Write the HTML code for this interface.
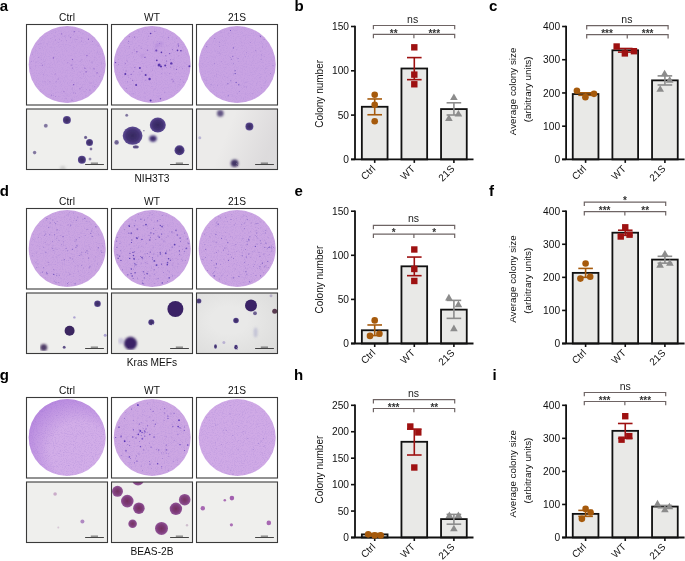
<!DOCTYPE html>
<html><head><meta charset="utf-8"><style>
html,body{margin:0;padding:0;background:#fff;width:685px;height:561px;overflow:hidden}
svg text{font-family:"Liberation Sans",sans-serif}
</style></head><body>
<svg width="685" height="561" viewBox="0 0 685 561" style="display:block;will-change:transform">
<defs>
<filter id="b1" x="-50%" y="-50%" width="200%" height="200%"><feGaussianBlur stdDeviation="0.6"/></filter>
<filter id="b15" x="-50%" y="-50%" width="200%" height="200%"><feGaussianBlur stdDeviation="0.8"/></filter>
<filter id="b2" x="-80%" y="-80%" width="260%" height="260%"><feGaussianBlur stdDeviation="1.2"/></filter>
<radialGradient id="gtl" cx="0.62" cy="0.64" r="0.68" fx="0.7" fy="0.72"><stop offset="0.55" stop-color="#9358d2" stop-opacity="0"/><stop offset="1" stop-color="#9358d2" stop-opacity="0.42"/></radialGradient>
<radialGradient id="cg"><stop offset="0" stop-color="#30225a"/><stop offset="0.65" stop-color="#3e2c70"/><stop offset="1" stop-color="#5a4892"/></radialGradient>
<radialGradient id="gg"><stop offset="0" stop-color="#70295a"/><stop offset="0.6" stop-color="#7a3676"/><stop offset="1" stop-color="#8f5096"/></radialGradient>
<linearGradient id="vr" x1="0" y1="0" x2="1" y2="0.3"><stop offset="0.45" stop-color="#807888" stop-opacity="0"/><stop offset="1" stop-color="#807888" stop-opacity="0.14"/></linearGradient>
<radialGradient id="vd" cx="0.4" cy="0.45" r="0.75"><stop offset="0.3" stop-color="#707070" stop-opacity="0"/><stop offset="1" stop-color="#707070" stop-opacity="0.11"/></radialGradient>
<filter id="rough" x="0" y="0" width="100%" height="100%"><feTurbulence type="fractalNoise" baseFrequency="0.9" numOctaves="2" seed="3" result="n"/><feDisplacementMap in="SourceGraphic" in2="n" scale="1.5" xChannelSelector="R" yChannelSelector="G"/><feGaussianBlur stdDeviation="0.6"/></filter>
<filter id="tex0" x="0" y="0" width="100%" height="100%"><feTurbulence type="fractalNoise" baseFrequency="0.9" numOctaves="2" seed="1"/><feColorMatrix type="matrix" values="0 0 0 0 0.48  0 0 0 0 0.3  0 0 0 0 0.72  1.6 0 0 0 -0.72"/><feComposite in2="SourceGraphic" operator="in"/></filter>
<filter id="tex1" x="0" y="0" width="100%" height="100%"><feTurbulence type="fractalNoise" baseFrequency="0.9" numOctaves="2" seed="8"/><feColorMatrix type="matrix" values="0 0 0 0 0.48  0 0 0 0 0.3  0 0 0 0 0.72  1.6 0 0 0 -0.72"/><feComposite in2="SourceGraphic" operator="in"/></filter>
<filter id="tex2" x="0" y="0" width="100%" height="100%"><feTurbulence type="fractalNoise" baseFrequency="0.9" numOctaves="2" seed="15"/><feColorMatrix type="matrix" values="0 0 0 0 0.48  0 0 0 0 0.3  0 0 0 0 0.72  1.6 0 0 0 -0.72"/><feComposite in2="SourceGraphic" operator="in"/></filter>
</defs>
<rect width="685" height="561" fill="#fff"/>
<text x="-0.3" y="10.5" font-size="15" text-anchor="start" font-weight="bold" fill="#000" >a</text><text x="67" y="21.2" font-size="10.2" text-anchor="middle" font-weight="normal" fill="#111" >Ctrl</text><text x="152" y="21.2" font-size="10.2" text-anchor="middle" font-weight="normal" fill="#111" >WT</text><text x="237" y="21.2" font-size="10.2" text-anchor="middle" font-weight="normal" fill="#111" >21S</text><rect x="26.5" y="24.5" width="81" height="80.5" fill="#fff"/><circle cx="67.2" cy="64.5" r="38.5" fill="#c9a3e3"/><circle cx="67.2" cy="64.5" r="38.2" fill="#000" filter="url(#tex1)"/><circle cx="89.83" cy="89.96" r="0.53" fill="#6a3cb8" fill-opacity="0.48"/><circle cx="42.4" cy="65.21" r="0.47" fill="#6a3cb8" fill-opacity="0.74"/><circle cx="72.38" cy="67.96" r="0.58" fill="#6a3cb8" fill-opacity="0.57"/><circle cx="67.33" cy="62.81" r="0.38" fill="#6a3cb8" fill-opacity="0.71"/><circle cx="71.99" cy="100.15" r="0.63" fill="#6a3cb8" fill-opacity="0.37"/><circle cx="94.08" cy="68.83" r="0.65" fill="#6a3cb8" fill-opacity="0.54"/><circle cx="72.21" cy="88.01" r="0.3" fill="#6a3cb8" fill-opacity="0.46"/><circle cx="43.11" cy="74.41" r="0.32" fill="#6a3cb8" fill-opacity="0.47"/><circle cx="72.09" cy="89.1" r="0.33" fill="#6a3cb8" fill-opacity="0.36"/><circle cx="81.63" cy="40.97" r="0.47" fill="#6a3cb8" fill-opacity="0.44"/><circle cx="101.47" cy="62.89" r="0.31" fill="#6a3cb8" fill-opacity="0.52"/><circle cx="61.64" cy="33.8" r="0.65" fill="#6a3cb8" fill-opacity="0.56"/><circle cx="81.8" cy="37.96" r="0.34" fill="#6a3cb8" fill-opacity="0.64"/><circle cx="92.37" cy="41.59" r="0.4" fill="#6a3cb8" fill-opacity="0.64"/><circle cx="85" cy="68.42" r="0.55" fill="#6a3cb8" fill-opacity="0.56"/><circle cx="79.95" cy="88.76" r="0.5" fill="#6a3cb8" fill-opacity="0.69"/><circle cx="49.9" cy="81.87" r="0.4" fill="#6a3cb8" fill-opacity="0.74"/><circle cx="44.2" cy="61.46" r="0.4" fill="#6a3cb8" fill-opacity="0.36"/><circle cx="97.08" cy="72.87" r="0.69" fill="#6a3cb8" fill-opacity="0.65"/><circle cx="55.22" cy="73.97" r="0.4" fill="#6a3cb8" fill-opacity="0.84"/><circle cx="70.7" cy="37.55" r="0.6" fill="#6a3cb8" fill-opacity="0.47"/><circle cx="31.23" cy="61.38" r="0.43" fill="#6a3cb8" fill-opacity="0.58"/><circle cx="63.89" cy="91.69" r="0.67" fill="#6a3cb8" fill-opacity="0.35"/><circle cx="74.23" cy="31.73" r="0.61" fill="#6a3cb8" fill-opacity="0.72"/><circle cx="76.88" cy="39.67" r="0.43" fill="#6a3cb8" fill-opacity="0.56"/><circle cx="99.59" cy="76.42" r="0.43" fill="#6a3cb8" fill-opacity="0.45"/><circle cx="41.45" cy="63.74" r="0.35" fill="#6a3cb8" fill-opacity="0.52"/><circle cx="38.83" cy="57.51" r="0.45" fill="#6a3cb8" fill-opacity="0.58"/><circle cx="84.66" cy="67.6" r="0.31" fill="#6a3cb8" fill-opacity="0.64"/><circle cx="88.44" cy="39.16" r="0.55" fill="#6a3cb8" fill-opacity="0.76"/><circle cx="66.07" cy="98.43" r="0.48" fill="#6a3cb8" fill-opacity="0.39"/><circle cx="71.64" cy="64.97" r="0.53" fill="#6a3cb8" fill-opacity="0.47"/><circle cx="89.79" cy="83.07" r="0.35" fill="#6a3cb8" fill-opacity="0.38"/><circle cx="81.65" cy="87.15" r="0.31" fill="#6a3cb8" fill-opacity="0.49"/><circle cx="61.24" cy="40.27" r="0.34" fill="#6a3cb8" fill-opacity="0.59"/><circle cx="89.95" cy="67.9" r="0.37" fill="#6a3cb8" fill-opacity="0.44"/><circle cx="94.42" cy="86.66" r="0.4" fill="#6a3cb8" fill-opacity="0.45"/><circle cx="40.86" cy="43.89" r="0.3" fill="#6a3cb8" fill-opacity="0.36"/><circle cx="86.2" cy="89.46" r="0.31" fill="#6a3cb8" fill-opacity="0.7"/><circle cx="55.29" cy="39.93" r="0.32" fill="#6a3cb8" fill-opacity="0.84"/><circle cx="75.07" cy="39.1" r="0.32" fill="#6a3cb8" fill-opacity="0.67"/><circle cx="45.03" cy="81.72" r="0.34" fill="#6a3cb8" fill-opacity="0.67"/><circle cx="86.06" cy="71.8" r="0.67" fill="#6a3cb8" fill-opacity="0.79"/><circle cx="55.31" cy="96.65" r="0.34" fill="#6a3cb8" fill-opacity="0.82"/><circle cx="66.28" cy="40.65" r="0.33" fill="#6a3cb8" fill-opacity="0.35"/><circle cx="72.41" cy="59.53" r="0.57" fill="#6a3cb8" fill-opacity="0.83"/><circle cx="53.35" cy="57.95" r="0.6" fill="#6a3cb8" fill-opacity="0.84"/><circle cx="59.68" cy="39.2" r="0.36" fill="#6a3cb8" fill-opacity="0.52"/><circle cx="75.54" cy="93.71" r="0.37" fill="#6a3cb8" fill-opacity="0.45"/><circle cx="91.12" cy="82.92" r="0.34" fill="#6a3cb8" fill-opacity="0.6"/><circle cx="51.45" cy="95.24" r="0.62" fill="#6a3cb8" fill-opacity="0.36"/><circle cx="73.64" cy="84.68" r="0.69" fill="#6a3cb8" fill-opacity="0.74"/><circle cx="58.13" cy="78.97" r="0.48" fill="#6a3cb8" fill-opacity="0.77"/><circle cx="86.96" cy="55.53" r="0.61" fill="#6a3cb8" fill-opacity="0.69"/><circle cx="30.64" cy="68.07" r="0.32" fill="#6a3cb8" fill-opacity="0.71"/><circle cx="80.33" cy="72.23" r="0.55" fill="#8a64c8" fill-opacity="0.25"/><circle cx="68.84" cy="35.88" r="0.51" fill="#8a64c8" fill-opacity="0.29"/><circle cx="56.47" cy="81.34" r="0.53" fill="#8a64c8" fill-opacity="0.35"/><circle cx="100.63" cy="54.63" r="0.31" fill="#8a64c8" fill-opacity="0.34"/><circle cx="73" cy="68.96" r="0.3" fill="#8a64c8" fill-opacity="0.42"/><circle cx="75.19" cy="31.78" r="0.33" fill="#8a64c8" fill-opacity="0.35"/><circle cx="71.73" cy="42.21" r="0.4" fill="#8a64c8" fill-opacity="0.26"/><circle cx="83.84" cy="73.89" r="0.54" fill="#8a64c8" fill-opacity="0.34"/><circle cx="89.51" cy="53.14" r="0.32" fill="#8a64c8" fill-opacity="0.4"/><circle cx="69.13" cy="60.86" r="0.43" fill="#8a64c8" fill-opacity="0.22"/><circle cx="93.3" cy="87.54" r="0.3" fill="#8a64c8" fill-opacity="0.26"/><circle cx="91.14" cy="62.72" r="0.3" fill="#8a64c8" fill-opacity="0.24"/><circle cx="68.92" cy="96.37" r="0.3" fill="#8a64c8" fill-opacity="0.43"/><circle cx="40.9" cy="89.73" r="0.55" fill="#8a64c8" fill-opacity="0.27"/><circle cx="66.65" cy="90.05" r="0.3" fill="#8a64c8" fill-opacity="0.36"/><circle cx="70.88" cy="65.43" r="0.59" fill="#8a64c8" fill-opacity="0.27"/><circle cx="46.81" cy="50.35" r="0.33" fill="#8a64c8" fill-opacity="0.22"/><circle cx="98.37" cy="45.64" r="0.58" fill="#8a64c8" fill-opacity="0.23"/><circle cx="73.51" cy="92.89" r="0.59" fill="#8a64c8" fill-opacity="0.34"/><circle cx="55.8" cy="36.64" r="0.32" fill="#8a64c8" fill-opacity="0.34"/><circle cx="60.73" cy="81.69" r="0.3" fill="#8a64c8" fill-opacity="0.27"/><circle cx="91.83" cy="61.92" r="0.43" fill="#8a64c8" fill-opacity="0.36"/><circle cx="88.74" cy="56.09" r="0.33" fill="#8a64c8" fill-opacity="0.28"/><circle cx="53.34" cy="95.6" r="0.54" fill="#8a64c8" fill-opacity="0.28"/><circle cx="53.4" cy="88.05" r="0.4" fill="#8a64c8" fill-opacity="0.35"/><circle cx="67.36" cy="69.78" r="0.32" fill="#8a64c8" fill-opacity="0.22"/><circle cx="57.85" cy="61.38" r="0.3" fill="#8a64c8" fill-opacity="0.36"/><circle cx="58.85" cy="96.35" r="0.37" fill="#8a64c8" fill-opacity="0.42"/><circle cx="82.04" cy="86.09" r="0.49" fill="#8a64c8" fill-opacity="0.22"/><circle cx="81.82" cy="59.67" r="0.48" fill="#8a64c8" fill-opacity="0.45"/><circle cx="76.29" cy="45.66" r="0.3" fill="#8a64c8" fill-opacity="0.33"/><circle cx="84.73" cy="54.77" r="0.54" fill="#8a64c8" fill-opacity="0.24"/><circle cx="72.78" cy="60.98" r="0.33" fill="#8a64c8" fill-opacity="0.43"/><circle cx="78.9" cy="31.26" r="0.51" fill="#8a64c8" fill-opacity="0.39"/><circle cx="61.41" cy="49.99" r="0.36" fill="#8a64c8" fill-opacity="0.24"/><circle cx="60.57" cy="35" r="0.32" fill="#8a64c8" fill-opacity="0.22"/><circle cx="99.59" cy="56.91" r="0.39" fill="#8a64c8" fill-opacity="0.34"/><circle cx="82.01" cy="44.47" r="0.35" fill="#8a64c8" fill-opacity="0.28"/><circle cx="66.91" cy="70.27" r="0.43" fill="#8a64c8" fill-opacity="0.3"/><circle cx="58.86" cy="60.54" r="0.34" fill="#8a64c8" fill-opacity="0.23"/><circle cx="80.51" cy="77.83" r="0.51" fill="#8a64c8" fill-opacity="0.3"/><circle cx="43.66" cy="81.36" r="0.32" fill="#8a64c8" fill-opacity="0.2"/><circle cx="41.44" cy="59.8" r="0.43" fill="#8a64c8" fill-opacity="0.31"/><circle cx="54.91" cy="35.34" r="0.32" fill="#8a64c8" fill-opacity="0.32"/><circle cx="49.8" cy="66.83" r="0.35" fill="#8a64c8" fill-opacity="0.34"/><circle cx="96.76" cy="44.94" r="0.32" fill="#8a64c8" fill-opacity="0.36"/><circle cx="76.65" cy="67.45" r="0.38" fill="#8a64c8" fill-opacity="0.42"/><circle cx="84.64" cy="91.78" r="0.53" fill="#8a64c8" fill-opacity="0.28"/><circle cx="55.16" cy="32.6" r="0.34" fill="#8a64c8" fill-opacity="0.38"/><circle cx="64.77" cy="36.07" r="0.52" fill="#8a64c8" fill-opacity="0.42"/><circle cx="94.29" cy="57.56" r="0.31" fill="#8a64c8" fill-opacity="0.26"/><circle cx="72.84" cy="91.85" r="0.47" fill="#8a64c8" fill-opacity="0.21"/><circle cx="54.15" cy="36.01" r="0.34" fill="#8a64c8" fill-opacity="0.33"/><circle cx="83.33" cy="91.69" r="0.3" fill="#8a64c8" fill-opacity="0.45"/><circle cx="77.64" cy="37.09" r="0.32" fill="#8a64c8" fill-opacity="0.43"/><circle cx="80.56" cy="61.02" r="0.48" fill="#8a64c8" fill-opacity="0.41"/><circle cx="50.56" cy="38.38" r="0.36" fill="#8a64c8" fill-opacity="0.43"/><circle cx="89.71" cy="60.38" r="0.49" fill="#8a64c8" fill-opacity="0.31"/><circle cx="77.97" cy="82.65" r="0.3" fill="#8a64c8" fill-opacity="0.43"/><circle cx="79.56" cy="61.28" r="0.41" fill="#8a64c8" fill-opacity="0.3"/><circle cx="82.03" cy="78.09" r="0.32" fill="#8a64c8" fill-opacity="0.39"/><circle cx="83.32" cy="64.91" r="0.36" fill="#8a64c8" fill-opacity="0.21"/><circle cx="47.17" cy="43.82" r="0.51" fill="#8a64c8" fill-opacity="0.25"/><circle cx="61.29" cy="91.1" r="0.32" fill="#8a64c8" fill-opacity="0.35"/><circle cx="67.03" cy="95.09" r="0.49" fill="#8a64c8" fill-opacity="0.4"/><circle cx="94.15" cy="59.99" r="0.37" fill="#8a64c8" fill-opacity="0.41"/><circle cx="70.54" cy="36.75" r="0.34" fill="#8a64c8" fill-opacity="0.27"/><circle cx="93.07" cy="85.39" r="0.3" fill="#8a64c8" fill-opacity="0.39"/><circle cx="32.32" cy="54.3" r="0.47" fill="#8a64c8" fill-opacity="0.44"/><circle cx="84.31" cy="84.3" r="0.4" fill="#8a64c8" fill-opacity="0.28"/><circle cx="45.1" cy="64.08" r="0.38" fill="#8a64c8" fill-opacity="0.2"/><circle cx="44" cy="73.3" r="0.33" fill="#8a64c8" fill-opacity="0.3"/><circle cx="73.51" cy="34.57" r="0.37" fill="#8a64c8" fill-opacity="0.36"/><circle cx="55.2" cy="76.12" r="0.3" fill="#8a64c8" fill-opacity="0.27"/><circle cx="38.86" cy="44.4" r="0.51" fill="#8a64c8" fill-opacity="0.33"/><circle cx="92.25" cy="62.45" r="0.51" fill="#8a64c8" fill-opacity="0.3"/><circle cx="65.96" cy="27.75" r="0.33" fill="#8a64c8" fill-opacity="0.24"/><circle cx="47.55" cy="46.04" r="0.34" fill="#8a64c8" fill-opacity="0.2"/><circle cx="48.68" cy="79.99" r="0.35" fill="#8a64c8" fill-opacity="0.42"/><circle cx="39.86" cy="48.46" r="0.54" fill="#8a64c8" fill-opacity="0.39"/><circle cx="35.28" cy="65.96" r="0.42" fill="#8a64c8" fill-opacity="0.36"/><circle cx="51.01" cy="47.33" r="0.42" fill="#8a64c8" fill-opacity="0.36"/><circle cx="97.41" cy="51.9" r="0.51" fill="#8a64c8" fill-opacity="0.39"/><circle cx="78.69" cy="38.1" r="0.34" fill="#8a64c8" fill-opacity="0.27"/><circle cx="58.18" cy="31.11" r="0.39" fill="#8a64c8" fill-opacity="0.24"/><circle cx="80.03" cy="42.17" r="0.37" fill="#8a64c8" fill-opacity="0.21"/><circle cx="35.34" cy="62.44" r="0.35" fill="#8a64c8" fill-opacity="0.29"/><circle cx="64.33" cy="60.17" r="0.38" fill="#8a64c8" fill-opacity="0.44"/><circle cx="58.63" cy="42.67" r="0.44" fill="#8a64c8" fill-opacity="0.35"/><circle cx="71.51" cy="80.8" r="0.54" fill="#8a64c8" fill-opacity="0.27"/><rect x="26.5" y="24.5" width="81" height="80.5" fill="none" stroke="#3a3a3a" stroke-width="1.1"/><svg x="26.5" y="109" width="81" height="60.5" overflow="hidden"><rect x="0" y="0" width="81" height="60.5" fill="#efefed"/><g filter="url(#rough)"><circle cx="40.4" cy="11" r="4" fill="url(#cg)" fill-opacity="0.95" filter="url(#b1)"/><circle cx="19.3" cy="16.8" r="2" fill="url(#cg)" fill-opacity="0.6" filter="url(#b1)"/><circle cx="59.1" cy="28.4" r="1.6" fill="url(#cg)" fill-opacity="0.7" filter="url(#b1)"/><circle cx="63" cy="33.4" r="3.5" fill="url(#cg)" fill-opacity="0.95" filter="url(#b1)"/><circle cx="64.5" cy="40" r="1.4" fill="url(#cg)" fill-opacity="0.6" filter="url(#b1)"/><circle cx="8.1" cy="43.6" r="1.8" fill="url(#cg)" fill-opacity="0.6" filter="url(#b1)"/><circle cx="55.4" cy="50.7" r="4" fill="url(#cg)" fill-opacity="0.95" filter="url(#b1)"/><circle cx="63.5" cy="50" r="1.5" fill="url(#cg)" fill-opacity="0.5" filter="url(#b1)"/><circle cx="36.3" cy="59.8" r="3" fill="#999" fill-opacity="0.35" filter="url(#b2)"/></g></svg><rect x="85.1" y="164.1" width="18.8" height="0.9" fill="#333"/><rect x="90.8" y="162.5" width="7.2" height="1.4" fill="#444" fill-opacity="0.6"/><rect x="26.5" y="109" width="81" height="60.5" fill="none" stroke="#3a3a3a" stroke-width="1.1"/><rect x="111.5" y="24.5" width="81" height="80.5" fill="#fff"/><circle cx="152.2" cy="64.5" r="38.5" fill="#c9a3e3"/><circle cx="152.2" cy="64.5" r="38.2" fill="#000" filter="url(#tex2)"/><circle cx="159.1" cy="64.9" r="1.5" fill="#4e2aa8" fill-opacity="0.9"/><circle cx="161" cy="66.5" r="1.1" fill="#4e2aa8" fill-opacity="0.9"/><circle cx="165.2" cy="65.4" r="1" fill="#4e2aa8" fill-opacity="0.9"/><circle cx="171.3" cy="63.4" r="1.2" fill="#4e2aa8" fill-opacity="0.9"/><circle cx="156.8" cy="60.3" r="0.9" fill="#4e2aa8" fill-opacity="0.9"/><circle cx="139.9" cy="68" r="1" fill="#4e2aa8" fill-opacity="0.9"/><circle cx="125.3" cy="74.1" r="1" fill="#4e2aa8" fill-opacity="0.9"/><circle cx="145.6" cy="74.9" r="1" fill="#4e2aa8" fill-opacity="0.9"/><circle cx="149.6" cy="79" r="1.2" fill="#4e2aa8" fill-opacity="0.9"/><circle cx="136.1" cy="84.9" r="1" fill="#4e2aa8" fill-opacity="0.9"/><circle cx="150.6" cy="100.5" r="1" fill="#4e2aa8" fill-opacity="0.9"/><circle cx="156.3" cy="50.4" r="1" fill="#4e2aa8" fill-opacity="0.9"/><circle cx="161.4" cy="52.4" r="0.8" fill="#4e2aa8" fill-opacity="0.9"/><circle cx="177.5" cy="50.4" r="0.8" fill="#4e2aa8" fill-opacity="0.9"/><circle cx="180.9" cy="50.8" r="0.8" fill="#4e2aa8" fill-opacity="0.9"/><circle cx="150.6" cy="33.5" r="0.8" fill="#4e2aa8" fill-opacity="0.9"/><circle cx="189.4" cy="66.2" r="1" fill="#4e2aa8" fill-opacity="0.9"/><g filter="url(#b15)" fill="#a47ad6" fill-opacity="0.45"><circle cx="157.2" cy="45.5" r="2.2"/><circle cx="161.2" cy="43.5" r="1.8"/><circle cx="156.2" cy="50.5" r="1.6"/><circle cx="142.2" cy="55.5" r="1.5"/></g><circle cx="186.86" cy="54.68" r="0.3" fill="#6238b4" fill-opacity="0.44"/><circle cx="168.44" cy="37.23" r="0.5" fill="#6238b4" fill-opacity="0.55"/><circle cx="129.53" cy="46.7" r="0.45" fill="#6238b4" fill-opacity="0.48"/><circle cx="131.16" cy="74.29" r="0.54" fill="#6238b4" fill-opacity="0.9"/><circle cx="178.13" cy="55.97" r="0.39" fill="#6238b4" fill-opacity="0.53"/><circle cx="158.17" cy="65.87" r="0.4" fill="#6238b4" fill-opacity="0.56"/><circle cx="126.73" cy="88.42" r="0.42" fill="#6238b4" fill-opacity="0.68"/><circle cx="152.7" cy="70.19" r="0.35" fill="#6238b4" fill-opacity="0.47"/><circle cx="115.3" cy="62.13" r="0.5" fill="#6238b4" fill-opacity="0.49"/><circle cx="178.11" cy="44.02" r="0.54" fill="#6238b4" fill-opacity="0.85"/><circle cx="154.86" cy="31.73" r="0.36" fill="#6238b4" fill-opacity="0.89"/><circle cx="166.63" cy="60.98" r="0.56" fill="#6238b4" fill-opacity="0.76"/><circle cx="126.04" cy="70.97" r="0.41" fill="#6238b4" fill-opacity="0.86"/><circle cx="118.46" cy="64.32" r="0.36" fill="#6238b4" fill-opacity="0.84"/><circle cx="172.5" cy="49.7" r="0.45" fill="#6238b4" fill-opacity="0.86"/><circle cx="147.97" cy="39.04" r="0.32" fill="#6238b4" fill-opacity="0.56"/><circle cx="147.5" cy="50.17" r="0.67" fill="#6238b4" fill-opacity="0.53"/><circle cx="169.68" cy="53.62" r="0.71" fill="#6238b4" fill-opacity="0.75"/><circle cx="125.59" cy="63.79" r="0.49" fill="#6238b4" fill-opacity="0.69"/><circle cx="145.81" cy="80.11" r="0.42" fill="#6238b4" fill-opacity="0.87"/><circle cx="144.94" cy="57.4" r="0.6" fill="#6238b4" fill-opacity="0.76"/><circle cx="165.74" cy="55.63" r="0.55" fill="#6238b4" fill-opacity="0.43"/><circle cx="141.12" cy="48.65" r="0.32" fill="#6238b4" fill-opacity="0.84"/><circle cx="173.2" cy="81.06" r="0.63" fill="#6238b4" fill-opacity="0.52"/><circle cx="160.73" cy="98.16" r="0.38" fill="#6238b4" fill-opacity="0.76"/><circle cx="174.03" cy="68.93" r="0.31" fill="#6238b4" fill-opacity="0.74"/><circle cx="183.56" cy="82.49" r="0.3" fill="#6238b4" fill-opacity="0.76"/><circle cx="170.74" cy="66.98" r="0.6" fill="#6238b4" fill-opacity="0.48"/><circle cx="164.64" cy="92.64" r="0.37" fill="#6238b4" fill-opacity="0.42"/><circle cx="166.57" cy="63.6" r="0.3" fill="#6238b4" fill-opacity="0.57"/><circle cx="128.32" cy="43.38" r="0.31" fill="#6238b4" fill-opacity="0.57"/><circle cx="176.52" cy="69.27" r="0.56" fill="#6238b4" fill-opacity="0.77"/><circle cx="178.46" cy="45.93" r="0.63" fill="#6238b4" fill-opacity="0.75"/><circle cx="134.89" cy="67.49" r="0.5" fill="#6238b4" fill-opacity="0.56"/><circle cx="172.04" cy="79.31" r="0.64" fill="#6238b4" fill-opacity="0.46"/><circle cx="132.23" cy="52.7" r="0.42" fill="#6238b4" fill-opacity="0.47"/><circle cx="170.43" cy="59.79" r="0.47" fill="#6238b4" fill-opacity="0.61"/><circle cx="179.66" cy="67.62" r="0.31" fill="#6238b4" fill-opacity="0.43"/><circle cx="166.72" cy="67.61" r="0.3" fill="#6238b4" fill-opacity="0.72"/><circle cx="115.56" cy="62.6" r="0.69" fill="#6238b4" fill-opacity="0.9"/><circle cx="154.91" cy="89.02" r="0.33" fill="#6238b4" fill-opacity="0.7"/><circle cx="128.67" cy="41.22" r="0.53" fill="#6238b4" fill-opacity="0.53"/><circle cx="128.44" cy="76.98" r="0.3" fill="#6238b4" fill-opacity="0.42"/><circle cx="141.84" cy="71.19" r="0.54" fill="#6238b4" fill-opacity="0.52"/><circle cx="164.97" cy="73.75" r="0.32" fill="#6238b4" fill-opacity="0.51"/><circle cx="127.2" cy="61.22" r="0.34" fill="#6238b4" fill-opacity="0.72"/><circle cx="160.43" cy="98.75" r="0.72" fill="#6238b4" fill-opacity="0.76"/><circle cx="128" cy="75.2" r="0.45" fill="#6238b4" fill-opacity="0.43"/><circle cx="128.87" cy="77.71" r="0.31" fill="#6238b4" fill-opacity="0.45"/><circle cx="159.47" cy="43.32" r="0.42" fill="#6238b4" fill-opacity="0.86"/><circle cx="136.9" cy="51.76" r="0.74" fill="#6238b4" fill-opacity="0.59"/><circle cx="182.61" cy="68.16" r="0.3" fill="#6238b4" fill-opacity="0.55"/><circle cx="168.56" cy="38.94" r="0.3" fill="#6238b4" fill-opacity="0.63"/><circle cx="130.37" cy="78.23" r="0.32" fill="#6238b4" fill-opacity="0.69"/><circle cx="169.85" cy="73.32" r="0.36" fill="#6238b4" fill-opacity="0.87"/><circle cx="180.7" cy="79.37" r="0.32" fill="#6238b4" fill-opacity="0.69"/><circle cx="132.62" cy="80.33" r="0.56" fill="#6238b4" fill-opacity="0.6"/><circle cx="161.52" cy="73.44" r="0.3" fill="#6238b4" fill-opacity="0.83"/><circle cx="129.27" cy="36.43" r="0.52" fill="#6238b4" fill-opacity="0.41"/><circle cx="134.58" cy="37.05" r="0.54" fill="#6238b4" fill-opacity="0.65"/><circle cx="136.55" cy="84.01" r="0.49" fill="#8a64c8" fill-opacity="0.27"/><circle cx="126.98" cy="60.29" r="0.57" fill="#8a64c8" fill-opacity="0.4"/><circle cx="182.99" cy="50.49" r="0.33" fill="#8a64c8" fill-opacity="0.26"/><circle cx="133.4" cy="65.83" r="0.35" fill="#8a64c8" fill-opacity="0.37"/><circle cx="176.9" cy="50.64" r="0.5" fill="#8a64c8" fill-opacity="0.22"/><circle cx="129.35" cy="93.55" r="0.31" fill="#8a64c8" fill-opacity="0.3"/><circle cx="162.12" cy="68.93" r="0.54" fill="#8a64c8" fill-opacity="0.45"/><circle cx="144.27" cy="53.86" r="0.33" fill="#8a64c8" fill-opacity="0.26"/><circle cx="137.61" cy="37.67" r="0.36" fill="#8a64c8" fill-opacity="0.33"/><circle cx="172.94" cy="82.12" r="0.57" fill="#8a64c8" fill-opacity="0.39"/><circle cx="174.08" cy="79.61" r="0.45" fill="#8a64c8" fill-opacity="0.26"/><circle cx="172.04" cy="49.09" r="0.45" fill="#8a64c8" fill-opacity="0.3"/><circle cx="184.92" cy="63.5" r="0.4" fill="#8a64c8" fill-opacity="0.24"/><circle cx="146.29" cy="66.79" r="0.41" fill="#8a64c8" fill-opacity="0.42"/><circle cx="163.39" cy="88.44" r="0.37" fill="#8a64c8" fill-opacity="0.3"/><circle cx="143.39" cy="29.79" r="0.45" fill="#8a64c8" fill-opacity="0.32"/><circle cx="172.87" cy="59.46" r="0.47" fill="#8a64c8" fill-opacity="0.36"/><circle cx="154.69" cy="30.44" r="0.32" fill="#8a64c8" fill-opacity="0.36"/><circle cx="127.45" cy="81.84" r="0.59" fill="#8a64c8" fill-opacity="0.36"/><circle cx="177.35" cy="66.34" r="0.45" fill="#8a64c8" fill-opacity="0.42"/><circle cx="132.57" cy="37.45" r="0.3" fill="#8a64c8" fill-opacity="0.44"/><circle cx="148.49" cy="35.93" r="0.55" fill="#8a64c8" fill-opacity="0.42"/><circle cx="179.18" cy="84.22" r="0.48" fill="#8a64c8" fill-opacity="0.25"/><circle cx="151.18" cy="36.19" r="0.31" fill="#8a64c8" fill-opacity="0.4"/><circle cx="170.95" cy="86.56" r="0.36" fill="#8a64c8" fill-opacity="0.26"/><circle cx="129.06" cy="54.3" r="0.31" fill="#8a64c8" fill-opacity="0.44"/><circle cx="154.03" cy="65.4" r="0.37" fill="#8a64c8" fill-opacity="0.41"/><circle cx="134.71" cy="37.54" r="0.37" fill="#8a64c8" fill-opacity="0.37"/><circle cx="142.48" cy="80.96" r="0.38" fill="#8a64c8" fill-opacity="0.21"/><circle cx="180.37" cy="79.94" r="0.31" fill="#8a64c8" fill-opacity="0.39"/><circle cx="157.24" cy="41.51" r="0.44" fill="#8a64c8" fill-opacity="0.4"/><circle cx="161.12" cy="54.25" r="0.31" fill="#8a64c8" fill-opacity="0.3"/><circle cx="132.6" cy="68.92" r="0.3" fill="#8a64c8" fill-opacity="0.34"/><circle cx="174.12" cy="59.88" r="0.39" fill="#8a64c8" fill-opacity="0.3"/><circle cx="119.88" cy="76.64" r="0.33" fill="#8a64c8" fill-opacity="0.36"/><circle cx="125.19" cy="67.26" r="0.55" fill="#8a64c8" fill-opacity="0.22"/><circle cx="161.39" cy="46.28" r="0.43" fill="#8a64c8" fill-opacity="0.4"/><circle cx="138.97" cy="45.45" r="0.51" fill="#8a64c8" fill-opacity="0.22"/><circle cx="136.71" cy="47.31" r="0.38" fill="#8a64c8" fill-opacity="0.41"/><circle cx="160.89" cy="36.48" r="0.33" fill="#8a64c8" fill-opacity="0.26"/><circle cx="135" cy="69.2" r="0.32" fill="#8a64c8" fill-opacity="0.44"/><circle cx="177.73" cy="86.16" r="0.34" fill="#8a64c8" fill-opacity="0.29"/><circle cx="147.91" cy="73.86" r="0.36" fill="#8a64c8" fill-opacity="0.24"/><circle cx="133.52" cy="71.62" r="0.54" fill="#8a64c8" fill-opacity="0.43"/><circle cx="124.55" cy="75.05" r="0.56" fill="#8a64c8" fill-opacity="0.28"/><circle cx="166.83" cy="75.07" r="0.31" fill="#8a64c8" fill-opacity="0.37"/><circle cx="136.71" cy="80.23" r="0.49" fill="#8a64c8" fill-opacity="0.26"/><circle cx="162.78" cy="37.03" r="0.35" fill="#8a64c8" fill-opacity="0.41"/><circle cx="133.2" cy="93.52" r="0.56" fill="#8a64c8" fill-opacity="0.33"/><circle cx="138.93" cy="30.99" r="0.47" fill="#8a64c8" fill-opacity="0.39"/><circle cx="176.59" cy="38.31" r="0.47" fill="#8a64c8" fill-opacity="0.44"/><circle cx="144.66" cy="92.7" r="0.43" fill="#8a64c8" fill-opacity="0.29"/><circle cx="139.97" cy="73.97" r="0.58" fill="#8a64c8" fill-opacity="0.29"/><circle cx="117.6" cy="69.62" r="0.31" fill="#8a64c8" fill-opacity="0.44"/><circle cx="156.52" cy="68.94" r="0.34" fill="#8a64c8" fill-opacity="0.29"/><circle cx="182.42" cy="47.3" r="0.47" fill="#8a64c8" fill-opacity="0.31"/><circle cx="134.84" cy="59.73" r="0.51" fill="#8a64c8" fill-opacity="0.3"/><circle cx="145.82" cy="93.35" r="0.31" fill="#8a64c8" fill-opacity="0.28"/><circle cx="162.4" cy="59.4" r="0.31" fill="#8a64c8" fill-opacity="0.25"/><circle cx="152.05" cy="88.49" r="0.32" fill="#8a64c8" fill-opacity="0.29"/><circle cx="152.6" cy="82.63" r="0.41" fill="#8a64c8" fill-opacity="0.28"/><circle cx="129.6" cy="87.74" r="0.3" fill="#8a64c8" fill-opacity="0.24"/><circle cx="166.56" cy="44.95" r="0.48" fill="#8a64c8" fill-opacity="0.23"/><circle cx="118.53" cy="59.6" r="0.33" fill="#8a64c8" fill-opacity="0.39"/><circle cx="134.33" cy="49.64" r="0.6" fill="#8a64c8" fill-opacity="0.3"/><circle cx="123.47" cy="69.27" r="0.33" fill="#8a64c8" fill-opacity="0.41"/><circle cx="128.99" cy="48.18" r="0.39" fill="#8a64c8" fill-opacity="0.45"/><circle cx="186.04" cy="62.14" r="0.36" fill="#8a64c8" fill-opacity="0.3"/><circle cx="144.35" cy="63.27" r="0.3" fill="#8a64c8" fill-opacity="0.45"/><circle cx="177.01" cy="90.34" r="0.44" fill="#8a64c8" fill-opacity="0.43"/><rect x="111.5" y="24.5" width="81" height="80.5" fill="none" stroke="#3a3a3a" stroke-width="1.1"/><svg x="111.5" y="109" width="81" height="60.5" overflow="hidden"><rect x="0" y="0" width="81" height="60.5" fill="#efefed"/><g filter="url(#rough)"><circle cx="15.2" cy="6.2" r="1.5" fill="url(#cg)" fill-opacity="0.6" filter="url(#b1)"/><ellipse cx="21.1" cy="26.7" rx="9.9" ry="9.1" fill="url(#cg)" fill-opacity="0.97" filter="url(#b1)"/><ellipse cx="46.3" cy="16" rx="8" ry="7.5" fill="url(#cg)" fill-opacity="0.97" filter="url(#b1)"/><ellipse cx="41.5" cy="29.6" rx="3.9" ry="3.4" fill="url(#cg)" fill-opacity="0.95" filter="url(#b15)"/><circle cx="5.1" cy="33.4" r="2.3" fill="url(#cg)" fill-opacity="0.7" filter="url(#b1)"/><ellipse cx="24.3" cy="37.9" rx="3" ry="1.6" fill="url(#cg)" fill-opacity="0.8" filter="url(#b1)"/><circle cx="68" cy="41.3" r="5" fill="url(#cg)" fill-opacity="0.97" filter="url(#b1)"/><circle cx="32.4" cy="21.7" r="0.8" fill="url(#cg)" fill-opacity="0.6"/></g></svg><rect x="170.1" y="164.1" width="18.8" height="0.9" fill="#333"/><rect x="175.8" y="162.5" width="7.2" height="1.4" fill="#444" fill-opacity="0.6"/><rect x="111.5" y="109" width="81" height="60.5" fill="none" stroke="#3a3a3a" stroke-width="1.1"/><rect x="196.5" y="24.5" width="81" height="80.5" fill="#fff"/><circle cx="237.2" cy="64.5" r="38.5" fill="#c9a3e3"/><circle cx="237.2" cy="64.5" r="38.2" fill="#000" filter="url(#tex0)"/><circle cx="239.26" cy="91.72" r="0.35" fill="#5034b0" fill-opacity="0.65"/><circle cx="230.53" cy="57.77" r="0.3" fill="#5034b0" fill-opacity="0.77"/><circle cx="236.15" cy="82.38" r="0.7" fill="#5034b0" fill-opacity="0.59"/><circle cx="250.4" cy="42.64" r="0.46" fill="#5034b0" fill-opacity="0.43"/><circle cx="214.38" cy="38.66" r="0.41" fill="#5034b0" fill-opacity="0.72"/><circle cx="232.76" cy="56.26" r="0.53" fill="#5034b0" fill-opacity="0.65"/><circle cx="235.14" cy="70.68" r="0.6" fill="#5034b0" fill-opacity="0.59"/><circle cx="230.45" cy="30.48" r="0.5" fill="#5034b0" fill-opacity="0.81"/><circle cx="211.04" cy="84.8" r="0.38" fill="#5034b0" fill-opacity="0.82"/><circle cx="245.56" cy="56.53" r="0.31" fill="#5034b0" fill-opacity="0.46"/><circle cx="261.06" cy="59.24" r="0.46" fill="#5034b0" fill-opacity="0.5"/><circle cx="214.24" cy="63.45" r="0.35" fill="#5034b0" fill-opacity="0.64"/><circle cx="206.83" cy="46.73" r="0.49" fill="#5034b0" fill-opacity="0.81"/><circle cx="260.03" cy="35.6" r="0.48" fill="#5034b0" fill-opacity="0.43"/><circle cx="260.48" cy="36.59" r="0.63" fill="#5034b0" fill-opacity="0.63"/><circle cx="233.37" cy="47.94" r="0.58" fill="#5034b0" fill-opacity="0.64"/><circle cx="235.17" cy="73.6" r="0.59" fill="#5034b0" fill-opacity="0.84"/><circle cx="265.32" cy="81.98" r="0.37" fill="#5034b0" fill-opacity="0.43"/><circle cx="228.37" cy="95.72" r="0.6" fill="#5034b0" fill-opacity="0.37"/><circle cx="231.3" cy="59.33" r="0.51" fill="#5034b0" fill-opacity="0.52"/><circle cx="264.05" cy="39.57" r="0.4" fill="#5034b0" fill-opacity="0.85"/><circle cx="233.44" cy="74.05" r="0.44" fill="#5034b0" fill-opacity="0.37"/><circle cx="244.87" cy="86.85" r="0.45" fill="#5034b0" fill-opacity="0.43"/><circle cx="270.45" cy="73.58" r="0.34" fill="#5034b0" fill-opacity="0.83"/><circle cx="255.31" cy="50.75" r="0.38" fill="#5034b0" fill-opacity="0.61"/><circle cx="219.54" cy="42.06" r="0.43" fill="#5034b0" fill-opacity="0.66"/><circle cx="261.73" cy="54.9" r="0.37" fill="#5034b0" fill-opacity="0.71"/><circle cx="238.78" cy="84.74" r="0.68" fill="#5034b0" fill-opacity="0.61"/><circle cx="233.42" cy="63.31" r="0.37" fill="#5034b0" fill-opacity="0.64"/><circle cx="266" cy="68.15" r="0.46" fill="#5034b0" fill-opacity="0.38"/><circle cx="219.6" cy="46.37" r="0.48" fill="#5034b0" fill-opacity="0.53"/><circle cx="228.71" cy="33.87" r="0.3" fill="#5034b0" fill-opacity="0.38"/><circle cx="220.92" cy="32.04" r="0.33" fill="#5034b0" fill-opacity="0.58"/><circle cx="219.72" cy="52.99" r="0.35" fill="#5034b0" fill-opacity="0.51"/><circle cx="217.76" cy="85.42" r="0.34" fill="#5034b0" fill-opacity="0.54"/><circle cx="238.05" cy="58.49" r="0.43" fill="#5034b0" fill-opacity="0.72"/><circle cx="230.77" cy="80.73" r="0.56" fill="#5034b0" fill-opacity="0.47"/><circle cx="246.56" cy="87.05" r="0.49" fill="#5034b0" fill-opacity="0.4"/><circle cx="227.86" cy="83.73" r="0.58" fill="#5034b0" fill-opacity="0.57"/><circle cx="246.57" cy="52.5" r="0.35" fill="#5034b0" fill-opacity="0.68"/><circle cx="255.83" cy="48.05" r="0.32" fill="#8a64c8" fill-opacity="0.22"/><circle cx="221.32" cy="61.51" r="0.5" fill="#8a64c8" fill-opacity="0.37"/><circle cx="245.11" cy="82.35" r="0.5" fill="#8a64c8" fill-opacity="0.33"/><circle cx="244.73" cy="44.1" r="0.31" fill="#8a64c8" fill-opacity="0.26"/><circle cx="242.44" cy="45.96" r="0.34" fill="#8a64c8" fill-opacity="0.28"/><circle cx="216.47" cy="75.94" r="0.55" fill="#8a64c8" fill-opacity="0.23"/><circle cx="273.12" cy="65.55" r="0.53" fill="#8a64c8" fill-opacity="0.4"/><circle cx="204.16" cy="78.96" r="0.56" fill="#8a64c8" fill-opacity="0.24"/><circle cx="236.25" cy="30.67" r="0.43" fill="#8a64c8" fill-opacity="0.3"/><circle cx="231.95" cy="85.46" r="0.32" fill="#8a64c8" fill-opacity="0.21"/><circle cx="220.38" cy="54.02" r="0.5" fill="#8a64c8" fill-opacity="0.21"/><circle cx="262.54" cy="46.96" r="0.56" fill="#8a64c8" fill-opacity="0.38"/><circle cx="259.9" cy="47.93" r="0.3" fill="#8a64c8" fill-opacity="0.35"/><circle cx="246.76" cy="82.37" r="0.43" fill="#8a64c8" fill-opacity="0.3"/><circle cx="206.48" cy="82.99" r="0.41" fill="#8a64c8" fill-opacity="0.27"/><circle cx="236.67" cy="98.84" r="0.37" fill="#8a64c8" fill-opacity="0.36"/><circle cx="227.39" cy="77.68" r="0.39" fill="#8a64c8" fill-opacity="0.36"/><circle cx="252.82" cy="93.48" r="0.55" fill="#8a64c8" fill-opacity="0.36"/><circle cx="238.63" cy="61.63" r="0.42" fill="#8a64c8" fill-opacity="0.37"/><circle cx="255.53" cy="70.45" r="0.32" fill="#8a64c8" fill-opacity="0.31"/><circle cx="214.68" cy="76.34" r="0.48" fill="#8a64c8" fill-opacity="0.2"/><circle cx="249.6" cy="68.95" r="0.3" fill="#8a64c8" fill-opacity="0.21"/><circle cx="270.97" cy="59.08" r="0.3" fill="#8a64c8" fill-opacity="0.3"/><circle cx="228.85" cy="83.5" r="0.34" fill="#8a64c8" fill-opacity="0.33"/><circle cx="218.19" cy="52.99" r="0.31" fill="#8a64c8" fill-opacity="0.27"/><circle cx="256.85" cy="83.85" r="0.45" fill="#8a64c8" fill-opacity="0.28"/><circle cx="250.91" cy="72.02" r="0.34" fill="#8a64c8" fill-opacity="0.32"/><circle cx="241.84" cy="42.16" r="0.49" fill="#8a64c8" fill-opacity="0.32"/><circle cx="216.67" cy="73.91" r="0.37" fill="#8a64c8" fill-opacity="0.34"/><circle cx="210.14" cy="79.26" r="0.36" fill="#8a64c8" fill-opacity="0.25"/><circle cx="207.13" cy="57.61" r="0.3" fill="#8a64c8" fill-opacity="0.28"/><circle cx="206.2" cy="80.09" r="0.56" fill="#8a64c8" fill-opacity="0.27"/><circle cx="263.56" cy="44.8" r="0.32" fill="#8a64c8" fill-opacity="0.29"/><circle cx="261.07" cy="87.82" r="0.43" fill="#8a64c8" fill-opacity="0.38"/><circle cx="245.17" cy="35.34" r="0.46" fill="#8a64c8" fill-opacity="0.31"/><circle cx="259.82" cy="81.62" r="0.3" fill="#8a64c8" fill-opacity="0.23"/><circle cx="238.38" cy="56.8" r="0.3" fill="#8a64c8" fill-opacity="0.22"/><circle cx="248.65" cy="53.81" r="0.3" fill="#8a64c8" fill-opacity="0.37"/><circle cx="261.79" cy="87.97" r="0.44" fill="#8a64c8" fill-opacity="0.37"/><circle cx="264.11" cy="56.21" r="0.49" fill="#8a64c8" fill-opacity="0.21"/><circle cx="240.09" cy="38.2" r="0.45" fill="#8a64c8" fill-opacity="0.22"/><circle cx="236.97" cy="28.73" r="0.3" fill="#8a64c8" fill-opacity="0.26"/><circle cx="206.21" cy="51.33" r="0.32" fill="#8a64c8" fill-opacity="0.24"/><circle cx="237.21" cy="93.54" r="0.47" fill="#8a64c8" fill-opacity="0.28"/><circle cx="221.52" cy="81.74" r="0.34" fill="#8a64c8" fill-opacity="0.28"/><circle cx="259.87" cy="77.58" r="0.58" fill="#8a64c8" fill-opacity="0.28"/><circle cx="236.96" cy="49.67" r="0.44" fill="#8a64c8" fill-opacity="0.35"/><circle cx="224.95" cy="40.88" r="0.37" fill="#8a64c8" fill-opacity="0.33"/><circle cx="248.63" cy="55.91" r="0.3" fill="#8a64c8" fill-opacity="0.35"/><circle cx="260.24" cy="51.19" r="0.36" fill="#8a64c8" fill-opacity="0.34"/><rect x="196.5" y="24.5" width="81" height="80.5" fill="none" stroke="#3a3a3a" stroke-width="1.1"/><svg x="196.5" y="109" width="81" height="60.5" overflow="hidden"><rect x="0" y="0" width="81" height="60.5" fill="#ecebea"/><rect x="0" y="0" width="81" height="60.5" fill="url(#vr)"/><g filter="url(#rough)"><circle cx="23.8" cy="4.4" r="3.3" fill="#4a3a72" fill-opacity="0.85" filter="url(#b2)"/><circle cx="52.9" cy="17.4" r="4" fill="url(#cg)" fill-opacity="0.95" filter="url(#b1)"/><circle cx="3.3" cy="28.8" r="1.5" fill="#8a80c0" fill-opacity="0.5" filter="url(#b1)"/><circle cx="38.1" cy="54.3" r="3.8" fill="#3a2a60" fill-opacity="0.95" filter="url(#b15)"/></g></svg><rect x="255.1" y="164.1" width="18.8" height="0.9" fill="#333"/><rect x="260.8" y="162.5" width="7.2" height="1.4" fill="#444" fill-opacity="0.6"/><rect x="196.5" y="109" width="81" height="60.5" fill="none" stroke="#3a3a3a" stroke-width="1.1"/><text x="152" y="182.1" font-size="10.2" text-anchor="middle" font-weight="normal" fill="#111" >NIH3T3</text><text x="-0.3" y="195.6" font-size="15" text-anchor="start" font-weight="bold" fill="#000" >d</text><text x="67" y="205.2" font-size="10.2" text-anchor="middle" font-weight="normal" fill="#111" >Ctrl</text><text x="152" y="205.2" font-size="10.2" text-anchor="middle" font-weight="normal" fill="#111" >WT</text><text x="237" y="205.2" font-size="10.2" text-anchor="middle" font-weight="normal" fill="#111" >21S</text><rect x="26.5" y="208.5" width="81" height="80.5" fill="#fff"/><circle cx="67.2" cy="248.5" r="38.5" fill="#cba5e2"/><circle cx="67.2" cy="248.5" r="38.2" fill="#000" filter="url(#tex1)"/><circle cx="68.24" cy="260.34" r="0.35" fill="#5034b0" fill-opacity="0.37"/><circle cx="88.63" cy="258.02" r="0.55" fill="#5034b0" fill-opacity="0.66"/><circle cx="68.86" cy="231.15" r="0.39" fill="#5034b0" fill-opacity="0.42"/><circle cx="72.83" cy="259.16" r="0.31" fill="#5034b0" fill-opacity="0.72"/><circle cx="83.01" cy="219.27" r="0.49" fill="#5034b0" fill-opacity="0.39"/><circle cx="56.44" cy="275.75" r="0.46" fill="#5034b0" fill-opacity="0.68"/><circle cx="75.15" cy="241.04" r="0.41" fill="#5034b0" fill-opacity="0.6"/><circle cx="51.61" cy="247.92" r="0.37" fill="#5034b0" fill-opacity="0.34"/><circle cx="98.76" cy="234.75" r="0.39" fill="#5034b0" fill-opacity="0.44"/><circle cx="90.73" cy="233.33" r="0.53" fill="#5034b0" fill-opacity="0.68"/><circle cx="43.43" cy="247.25" r="0.41" fill="#5034b0" fill-opacity="0.49"/><circle cx="78.01" cy="265.85" r="0.5" fill="#5034b0" fill-opacity="0.32"/><circle cx="95.25" cy="256.9" r="0.32" fill="#5034b0" fill-opacity="0.54"/><circle cx="45.89" cy="252.39" r="0.6" fill="#5034b0" fill-opacity="0.39"/><circle cx="52.98" cy="257.18" r="0.42" fill="#5034b0" fill-opacity="0.42"/><circle cx="47.47" cy="273.66" r="0.33" fill="#5034b0" fill-opacity="0.55"/><circle cx="76.9" cy="241.85" r="0.3" fill="#5034b0" fill-opacity="0.4"/><circle cx="69.96" cy="219.61" r="0.32" fill="#5034b0" fill-opacity="0.45"/><circle cx="78.22" cy="271.01" r="0.3" fill="#5034b0" fill-opacity="0.61"/><circle cx="95.9" cy="226.51" r="0.46" fill="#5034b0" fill-opacity="0.73"/><circle cx="86.96" cy="250.77" r="0.58" fill="#5034b0" fill-opacity="0.65"/><circle cx="36.81" cy="267.67" r="0.42" fill="#5034b0" fill-opacity="0.67"/><circle cx="62.84" cy="264.09" r="0.36" fill="#5034b0" fill-opacity="0.36"/><circle cx="40.49" cy="273.07" r="0.33" fill="#5034b0" fill-opacity="0.3"/><circle cx="81.84" cy="252.73" r="0.48" fill="#5034b0" fill-opacity="0.46"/><circle cx="64.31" cy="259.66" r="0.59" fill="#5034b0" fill-opacity="0.49"/><circle cx="69.56" cy="257.2" r="0.3" fill="#5034b0" fill-opacity="0.38"/><circle cx="60.85" cy="235.67" r="0.3" fill="#5034b0" fill-opacity="0.52"/><circle cx="67.42" cy="285.46" r="0.3" fill="#5034b0" fill-opacity="0.54"/><circle cx="70.73" cy="225.09" r="0.59" fill="#5034b0" fill-opacity="0.51"/><circle cx="68.41" cy="272.18" r="0.3" fill="#5034b0" fill-opacity="0.49"/><circle cx="67.51" cy="283.39" r="0.51" fill="#5034b0" fill-opacity="0.52"/><circle cx="85.49" cy="252.19" r="0.32" fill="#5034b0" fill-opacity="0.39"/><circle cx="71.21" cy="282.77" r="0.31" fill="#5034b0" fill-opacity="0.32"/><circle cx="92.22" cy="236.34" r="0.59" fill="#5034b0" fill-opacity="0.48"/><circle cx="91.51" cy="231.06" r="0.49" fill="#5034b0" fill-opacity="0.64"/><circle cx="55.93" cy="248.9" r="0.31" fill="#5034b0" fill-opacity="0.69"/><circle cx="95.95" cy="227.55" r="0.33" fill="#5034b0" fill-opacity="0.6"/><circle cx="76.28" cy="220.27" r="0.5" fill="#5034b0" fill-opacity="0.54"/><circle cx="49.93" cy="223.18" r="0.32" fill="#5034b0" fill-opacity="0.72"/><circle cx="76.91" cy="245.76" r="0.58" fill="#5034b0" fill-opacity="0.73"/><circle cx="63.37" cy="241.7" r="0.54" fill="#5034b0" fill-opacity="0.36"/><circle cx="96.83" cy="242.56" r="0.3" fill="#5034b0" fill-opacity="0.38"/><circle cx="48.76" cy="227.54" r="0.47" fill="#5034b0" fill-opacity="0.72"/><circle cx="67.62" cy="250.58" r="0.56" fill="#5034b0" fill-opacity="0.31"/><circle cx="76.19" cy="239.67" r="0.5" fill="#5034b0" fill-opacity="0.65"/><circle cx="86.96" cy="229.44" r="0.53" fill="#5034b0" fill-opacity="0.39"/><circle cx="57.12" cy="229.76" r="0.54" fill="#5034b0" fill-opacity="0.65"/><circle cx="40.78" cy="253.28" r="0.3" fill="#5034b0" fill-opacity="0.32"/><circle cx="45.76" cy="234.03" r="0.52" fill="#5034b0" fill-opacity="0.57"/><circle cx="81.53" cy="265.56" r="0.48" fill="#5034b0" fill-opacity="0.54"/><circle cx="100.99" cy="250.74" r="0.51" fill="#5034b0" fill-opacity="0.34"/><circle cx="45.2" cy="242.35" r="0.49" fill="#5034b0" fill-opacity="0.44"/><circle cx="69.84" cy="274.18" r="0.58" fill="#5034b0" fill-opacity="0.34"/><circle cx="89.14" cy="267.71" r="0.54" fill="#5034b0" fill-opacity="0.53"/><circle cx="35.84" cy="262.32" r="0.48" fill="#5034b0" fill-opacity="0.33"/><circle cx="79.23" cy="237.39" r="0.33" fill="#5034b0" fill-opacity="0.68"/><circle cx="37.99" cy="263.98" r="0.31" fill="#5034b0" fill-opacity="0.69"/><circle cx="73.58" cy="261.29" r="0.37" fill="#5034b0" fill-opacity="0.45"/><circle cx="33.23" cy="239.35" r="0.45" fill="#5034b0" fill-opacity="0.3"/><circle cx="56.86" cy="273.78" r="0.37" fill="#5034b0" fill-opacity="0.62"/><circle cx="57.07" cy="249.51" r="0.32" fill="#5034b0" fill-opacity="0.68"/><circle cx="47.06" cy="273.87" r="0.59" fill="#5034b0" fill-opacity="0.58"/><circle cx="54.37" cy="222.62" r="0.33" fill="#5034b0" fill-opacity="0.71"/><circle cx="32.63" cy="255.77" r="0.33" fill="#5034b0" fill-opacity="0.69"/><circle cx="73.85" cy="220.3" r="0.36" fill="#5034b0" fill-opacity="0.36"/><circle cx="70.14" cy="226.43" r="0.43" fill="#5034b0" fill-opacity="0.36"/><circle cx="79.39" cy="255.46" r="0.5" fill="#5034b0" fill-opacity="0.38"/><circle cx="85.61" cy="235.46" r="0.4" fill="#5034b0" fill-opacity="0.46"/><circle cx="58.99" cy="240.71" r="0.35" fill="#5034b0" fill-opacity="0.72"/><circle cx="80" cy="275.55" r="0.33" fill="#5034b0" fill-opacity="0.44"/><circle cx="72.39" cy="249.26" r="0.57" fill="#5034b0" fill-opacity="0.67"/><circle cx="77.69" cy="216.96" r="0.57" fill="#5034b0" fill-opacity="0.37"/><circle cx="44.72" cy="235.36" r="0.4" fill="#5034b0" fill-opacity="0.72"/><circle cx="69.54" cy="212.16" r="0.3" fill="#5034b0" fill-opacity="0.59"/><circle cx="52.77" cy="220" r="0.41" fill="#5034b0" fill-opacity="0.67"/><circle cx="55.58" cy="282.19" r="0.35" fill="#5034b0" fill-opacity="0.57"/><circle cx="91.95" cy="229.77" r="0.33" fill="#5034b0" fill-opacity="0.4"/><circle cx="53.64" cy="274.46" r="0.6" fill="#5034b0" fill-opacity="0.7"/><circle cx="48.23" cy="262.24" r="0.5" fill="#5034b0" fill-opacity="0.43"/><circle cx="63.59" cy="250.74" r="0.31" fill="#5034b0" fill-opacity="0.54"/><circle cx="57.08" cy="221.31" r="0.34" fill="#5034b0" fill-opacity="0.73"/><circle cx="56.75" cy="238.28" r="0.3" fill="#5034b0" fill-opacity="0.74"/><circle cx="102.58" cy="245.79" r="0.41" fill="#5034b0" fill-opacity="0.44"/><circle cx="82.98" cy="258.7" r="0.31" fill="#5034b0" fill-opacity="0.72"/><circle cx="92.68" cy="228.11" r="0.31" fill="#5034b0" fill-opacity="0.41"/><circle cx="56.24" cy="282.82" r="0.31" fill="#5034b0" fill-opacity="0.66"/><circle cx="55.66" cy="223.69" r="0.58" fill="#5034b0" fill-opacity="0.42"/><circle cx="52.69" cy="246.26" r="0.3" fill="#5034b0" fill-opacity="0.31"/><circle cx="61.96" cy="260.3" r="0.3" fill="#5034b0" fill-opacity="0.75"/><circle cx="58.72" cy="282.36" r="0.45" fill="#5034b0" fill-opacity="0.63"/><circle cx="46.94" cy="218.61" r="0.53" fill="#5034b0" fill-opacity="0.62"/><circle cx="38.54" cy="237.16" r="0.46" fill="#5034b0" fill-opacity="0.55"/><circle cx="52.67" cy="248.27" r="0.51" fill="#5034b0" fill-opacity="0.52"/><circle cx="81.01" cy="254.77" r="0.53" fill="#5034b0" fill-opacity="0.42"/><circle cx="43.49" cy="267.78" r="0.52" fill="#5034b0" fill-opacity="0.45"/><circle cx="48.97" cy="264.21" r="0.3" fill="#5034b0" fill-opacity="0.69"/><circle cx="103.2" cy="252.82" r="0.31" fill="#5034b0" fill-opacity="0.37"/><circle cx="86.69" cy="221.16" r="0.32" fill="#5034b0" fill-opacity="0.55"/><circle cx="36.17" cy="253.07" r="0.31" fill="#5034b0" fill-opacity="0.67"/><circle cx="98.29" cy="247.8" r="0.55" fill="#5034b0" fill-opacity="0.72"/><circle cx="42.45" cy="271.9" r="0.51" fill="#5034b0" fill-opacity="0.56"/><circle cx="89.96" cy="266.66" r="0.55" fill="#5034b0" fill-opacity="0.44"/><circle cx="46.04" cy="220.56" r="0.41" fill="#5034b0" fill-opacity="0.32"/><circle cx="54.56" cy="234.71" r="0.52" fill="#5034b0" fill-opacity="0.6"/><circle cx="54.84" cy="281.26" r="0.42" fill="#5034b0" fill-opacity="0.45"/><circle cx="84.83" cy="218.34" r="0.54" fill="#5034b0" fill-opacity="0.7"/><circle cx="50.36" cy="222.56" r="0.41" fill="#5034b0" fill-opacity="0.54"/><circle cx="89.12" cy="246.77" r="0.3" fill="#5034b0" fill-opacity="0.62"/><circle cx="39.87" cy="248.83" r="0.41" fill="#5034b0" fill-opacity="0.41"/><circle cx="70.2" cy="257.92" r="0.48" fill="#5034b0" fill-opacity="0.71"/><circle cx="63.05" cy="236.56" r="0.59" fill="#5034b0" fill-opacity="0.67"/><circle cx="66.09" cy="248.44" r="0.51" fill="#5034b0" fill-opacity="0.58"/><circle cx="63.6" cy="245.03" r="0.46" fill="#5034b0" fill-opacity="0.32"/><circle cx="53.25" cy="250.43" r="0.34" fill="#5034b0" fill-opacity="0.7"/><circle cx="66.86" cy="215.08" r="0.33" fill="#5034b0" fill-opacity="0.47"/><circle cx="61.8" cy="244.32" r="0.35" fill="#5034b0" fill-opacity="0.74"/><circle cx="68.07" cy="214.14" r="0.33" fill="#5034b0" fill-opacity="0.61"/><circle cx="74.7" cy="218.36" r="0.36" fill="#5034b0" fill-opacity="0.38"/><circle cx="101.83" cy="252.42" r="0.56" fill="#5034b0" fill-opacity="0.42"/><circle cx="68.06" cy="224.91" r="0.42" fill="#5034b0" fill-opacity="0.68"/><circle cx="54.59" cy="274.77" r="0.32" fill="#5034b0" fill-opacity="0.53"/><circle cx="85.86" cy="252.07" r="0.32" fill="#5034b0" fill-opacity="0.71"/><circle cx="88.9" cy="272.32" r="0.3" fill="#5034b0" fill-opacity="0.74"/><circle cx="72.86" cy="258.2" r="0.31" fill="#5034b0" fill-opacity="0.72"/><circle cx="50.14" cy="218.03" r="0.37" fill="#5034b0" fill-opacity="0.35"/><circle cx="53.75" cy="269.55" r="0.59" fill="#5034b0" fill-opacity="0.37"/><circle cx="68.45" cy="282.45" r="0.3" fill="#5034b0" fill-opacity="0.74"/><circle cx="59.16" cy="275.18" r="0.43" fill="#5034b0" fill-opacity="0.71"/><circle cx="97.47" cy="264.09" r="0.31" fill="#5034b0" fill-opacity="0.62"/><circle cx="99.12" cy="254.01" r="0.31" fill="#5034b0" fill-opacity="0.39"/><circle cx="87.77" cy="253.08" r="0.33" fill="#5034b0" fill-opacity="0.74"/><circle cx="49.71" cy="234.61" r="0.59" fill="#5034b0" fill-opacity="0.38"/><circle cx="75.1" cy="283.81" r="0.57" fill="#5034b0" fill-opacity="0.61"/><circle cx="75.99" cy="247.31" r="0.54" fill="#5034b0" fill-opacity="0.62"/><circle cx="50.47" cy="218.93" r="0.3" fill="#5034b0" fill-opacity="0.39"/><circle cx="83.79" cy="268" r="0.39" fill="#5034b0" fill-opacity="0.54"/><circle cx="46.52" cy="272.8" r="0.51" fill="#5034b0" fill-opacity="0.64"/><circle cx="81.26" cy="251.91" r="0.31" fill="#5034b0" fill-opacity="0.41"/><circle cx="52.6" cy="241.2" r="0.42" fill="#5034b0" fill-opacity="0.45"/><circle cx="46.8" cy="272.02" r="0.48" fill="#8a64c8" fill-opacity="0.24"/><circle cx="45.98" cy="278.39" r="0.31" fill="#8a64c8" fill-opacity="0.21"/><circle cx="79.35" cy="279.84" r="0.41" fill="#8a64c8" fill-opacity="0.39"/><circle cx="59.68" cy="248.63" r="0.32" fill="#8a64c8" fill-opacity="0.34"/><circle cx="56.39" cy="257.12" r="0.33" fill="#8a64c8" fill-opacity="0.29"/><circle cx="51.94" cy="267.95" r="0.3" fill="#8a64c8" fill-opacity="0.21"/><circle cx="73.85" cy="217.55" r="0.34" fill="#8a64c8" fill-opacity="0.22"/><circle cx="59.4" cy="275.02" r="0.46" fill="#8a64c8" fill-opacity="0.3"/><circle cx="93.7" cy="244.09" r="0.31" fill="#8a64c8" fill-opacity="0.32"/><circle cx="44.04" cy="231.65" r="0.41" fill="#8a64c8" fill-opacity="0.2"/><circle cx="36.66" cy="261.27" r="0.3" fill="#8a64c8" fill-opacity="0.21"/><circle cx="75.28" cy="266.54" r="0.34" fill="#8a64c8" fill-opacity="0.26"/><circle cx="57.07" cy="237.09" r="0.32" fill="#8a64c8" fill-opacity="0.34"/><circle cx="32.37" cy="238.54" r="0.48" fill="#8a64c8" fill-opacity="0.25"/><circle cx="53.38" cy="271.84" r="0.36" fill="#8a64c8" fill-opacity="0.27"/><circle cx="77.88" cy="236.03" r="0.34" fill="#8a64c8" fill-opacity="0.22"/><circle cx="88.39" cy="229.36" r="0.5" fill="#8a64c8" fill-opacity="0.23"/><circle cx="60.28" cy="220.76" r="0.3" fill="#8a64c8" fill-opacity="0.36"/><circle cx="74.59" cy="241.04" r="0.48" fill="#8a64c8" fill-opacity="0.36"/><circle cx="45.59" cy="231.84" r="0.31" fill="#8a64c8" fill-opacity="0.21"/><circle cx="33.18" cy="253.79" r="0.31" fill="#8a64c8" fill-opacity="0.29"/><circle cx="60.96" cy="278.62" r="0.48" fill="#8a64c8" fill-opacity="0.38"/><circle cx="61.57" cy="271.72" r="0.3" fill="#8a64c8" fill-opacity="0.31"/><circle cx="87.8" cy="221.44" r="0.3" fill="#8a64c8" fill-opacity="0.29"/><circle cx="88.32" cy="260.12" r="0.47" fill="#8a64c8" fill-opacity="0.26"/><circle cx="87.66" cy="218.68" r="0.43" fill="#8a64c8" fill-opacity="0.24"/><circle cx="98.15" cy="231.03" r="0.5" fill="#8a64c8" fill-opacity="0.2"/><circle cx="87.17" cy="248.95" r="0.35" fill="#8a64c8" fill-opacity="0.28"/><circle cx="91.95" cy="264.75" r="0.39" fill="#8a64c8" fill-opacity="0.33"/><circle cx="39.84" cy="246.67" r="0.4" fill="#8a64c8" fill-opacity="0.21"/><circle cx="54.66" cy="253.81" r="0.3" fill="#8a64c8" fill-opacity="0.35"/><circle cx="57.5" cy="267.75" r="0.32" fill="#8a64c8" fill-opacity="0.32"/><circle cx="89.03" cy="268.53" r="0.3" fill="#8a64c8" fill-opacity="0.39"/><circle cx="85.07" cy="275.55" r="0.36" fill="#8a64c8" fill-opacity="0.28"/><circle cx="59.79" cy="269.4" r="0.42" fill="#8a64c8" fill-opacity="0.3"/><circle cx="49.27" cy="244.33" r="0.38" fill="#8a64c8" fill-opacity="0.23"/><circle cx="37.52" cy="251.78" r="0.36" fill="#8a64c8" fill-opacity="0.32"/><circle cx="52.47" cy="241.55" r="0.48" fill="#8a64c8" fill-opacity="0.34"/><circle cx="61.68" cy="212.76" r="0.34" fill="#8a64c8" fill-opacity="0.27"/><circle cx="60.27" cy="268.12" r="0.32" fill="#8a64c8" fill-opacity="0.26"/><circle cx="73.75" cy="273.39" r="0.32" fill="#8a64c8" fill-opacity="0.27"/><circle cx="56.47" cy="230.71" r="0.45" fill="#8a64c8" fill-opacity="0.36"/><circle cx="51.19" cy="278.27" r="0.31" fill="#8a64c8" fill-opacity="0.22"/><circle cx="73.91" cy="248.28" r="0.3" fill="#8a64c8" fill-opacity="0.37"/><circle cx="97.14" cy="248.99" r="0.36" fill="#8a64c8" fill-opacity="0.24"/><circle cx="68.23" cy="284.87" r="0.33" fill="#8a64c8" fill-opacity="0.25"/><circle cx="37.66" cy="259.88" r="0.32" fill="#8a64c8" fill-opacity="0.22"/><circle cx="70.1" cy="237.4" r="0.3" fill="#8a64c8" fill-opacity="0.2"/><circle cx="91.56" cy="247.5" r="0.41" fill="#8a64c8" fill-opacity="0.31"/><circle cx="88.6" cy="245.09" r="0.32" fill="#8a64c8" fill-opacity="0.34"/><circle cx="89.51" cy="248.58" r="0.42" fill="#8a64c8" fill-opacity="0.31"/><circle cx="31.46" cy="250.77" r="0.34" fill="#8a64c8" fill-opacity="0.35"/><circle cx="58.71" cy="255.31" r="0.33" fill="#8a64c8" fill-opacity="0.24"/><circle cx="86.7" cy="251.88" r="0.3" fill="#8a64c8" fill-opacity="0.29"/><circle cx="64.72" cy="216.38" r="0.46" fill="#8a64c8" fill-opacity="0.26"/><circle cx="50.3" cy="217.98" r="0.33" fill="#8a64c8" fill-opacity="0.38"/><circle cx="95.54" cy="269.89" r="0.46" fill="#8a64c8" fill-opacity="0.4"/><circle cx="82.36" cy="221.24" r="0.34" fill="#8a64c8" fill-opacity="0.34"/><circle cx="87.49" cy="229.09" r="0.38" fill="#8a64c8" fill-opacity="0.38"/><circle cx="62.57" cy="269.42" r="0.3" fill="#8a64c8" fill-opacity="0.38"/><circle cx="46.35" cy="226.44" r="0.31" fill="#8a64c8" fill-opacity="0.24"/><circle cx="32.86" cy="253.12" r="0.33" fill="#8a64c8" fill-opacity="0.28"/><circle cx="37.62" cy="265.27" r="0.3" fill="#8a64c8" fill-opacity="0.37"/><circle cx="98.05" cy="250.78" r="0.42" fill="#8a64c8" fill-opacity="0.29"/><circle cx="66.19" cy="228.93" r="0.3" fill="#8a64c8" fill-opacity="0.27"/><circle cx="64.23" cy="279.69" r="0.36" fill="#8a64c8" fill-opacity="0.33"/><circle cx="99.36" cy="243.57" r="0.43" fill="#8a64c8" fill-opacity="0.39"/><circle cx="95.93" cy="234.71" r="0.32" fill="#8a64c8" fill-opacity="0.3"/><circle cx="68.37" cy="215.7" r="0.46" fill="#8a64c8" fill-opacity="0.35"/><circle cx="58.09" cy="232.21" r="0.38" fill="#8a64c8" fill-opacity="0.24"/><circle cx="57.84" cy="236.12" r="0.3" fill="#8a64c8" fill-opacity="0.39"/><circle cx="81.17" cy="233.6" r="0.3" fill="#8a64c8" fill-opacity="0.36"/><circle cx="69.14" cy="234.07" r="0.43" fill="#8a64c8" fill-opacity="0.37"/><circle cx="49.91" cy="239.78" r="0.3" fill="#8a64c8" fill-opacity="0.21"/><circle cx="37.91" cy="259.88" r="0.38" fill="#8a64c8" fill-opacity="0.24"/><circle cx="69.97" cy="239.63" r="0.38" fill="#8a64c8" fill-opacity="0.23"/><circle cx="83.47" cy="249.06" r="0.43" fill="#8a64c8" fill-opacity="0.24"/><circle cx="92.8" cy="250.77" r="0.32" fill="#8a64c8" fill-opacity="0.31"/><circle cx="39.67" cy="233.97" r="0.47" fill="#8a64c8" fill-opacity="0.27"/><circle cx="58.77" cy="238.94" r="0.31" fill="#8a64c8" fill-opacity="0.22"/><circle cx="81.12" cy="232.12" r="0.4" fill="#8a64c8" fill-opacity="0.38"/><circle cx="54.6" cy="259.66" r="0.31" fill="#8a64c8" fill-opacity="0.3"/><circle cx="59.76" cy="254.87" r="0.44" fill="#8a64c8" fill-opacity="0.33"/><circle cx="90.81" cy="224.01" r="0.41" fill="#8a64c8" fill-opacity="0.36"/><circle cx="60.28" cy="225.3" r="0.43" fill="#8a64c8" fill-opacity="0.38"/><circle cx="78.17" cy="257.29" r="0.31" fill="#8a64c8" fill-opacity="0.29"/><circle cx="84.88" cy="228.29" r="0.45" fill="#8a64c8" fill-opacity="0.27"/><circle cx="50.35" cy="241.14" r="0.38" fill="#8a64c8" fill-opacity="0.25"/><circle cx="90.52" cy="249.59" r="0.36" fill="#8a64c8" fill-opacity="0.38"/><circle cx="59.13" cy="283.19" r="0.43" fill="#8a64c8" fill-opacity="0.23"/><circle cx="73.61" cy="213.29" r="0.49" fill="#8a64c8" fill-opacity="0.34"/><circle cx="46.13" cy="265.84" r="0.38" fill="#8a64c8" fill-opacity="0.32"/><circle cx="80.19" cy="280.78" r="0.36" fill="#8a64c8" fill-opacity="0.21"/><circle cx="63.57" cy="258.36" r="0.34" fill="#8a64c8" fill-opacity="0.22"/><circle cx="48.01" cy="244.88" r="0.44" fill="#8a64c8" fill-opacity="0.35"/><circle cx="79.93" cy="279.3" r="0.37" fill="#8a64c8" fill-opacity="0.25"/><circle cx="69.7" cy="246.94" r="0.33" fill="#8a64c8" fill-opacity="0.32"/><circle cx="80.73" cy="270.63" r="0.46" fill="#8a64c8" fill-opacity="0.27"/><circle cx="63.05" cy="232.9" r="0.49" fill="#8a64c8" fill-opacity="0.39"/><circle cx="83.68" cy="276.34" r="0.32" fill="#8a64c8" fill-opacity="0.21"/><circle cx="74.88" cy="279.14" r="0.34" fill="#8a64c8" fill-opacity="0.31"/><circle cx="77.84" cy="259.54" r="0.33" fill="#8a64c8" fill-opacity="0.3"/><circle cx="77.82" cy="226.09" r="0.32" fill="#8a64c8" fill-opacity="0.38"/><circle cx="55.42" cy="218.57" r="0.43" fill="#8a64c8" fill-opacity="0.3"/><circle cx="66.41" cy="260.86" r="0.39" fill="#8a64c8" fill-opacity="0.35"/><circle cx="96.19" cy="228.05" r="0.35" fill="#8a64c8" fill-opacity="0.3"/><circle cx="77.77" cy="246.13" r="0.33" fill="#8a64c8" fill-opacity="0.31"/><circle cx="43.98" cy="231.26" r="0.31" fill="#8a64c8" fill-opacity="0.3"/><circle cx="77.49" cy="268.99" r="0.31" fill="#8a64c8" fill-opacity="0.26"/><circle cx="50.88" cy="231.78" r="0.31" fill="#8a64c8" fill-opacity="0.29"/><circle cx="57.41" cy="230.71" r="0.31" fill="#8a64c8" fill-opacity="0.29"/><circle cx="64.84" cy="241.85" r="0.39" fill="#8a64c8" fill-opacity="0.21"/><circle cx="79.66" cy="238.18" r="0.44" fill="#8a64c8" fill-opacity="0.21"/><circle cx="48.46" cy="249.29" r="0.42" fill="#8a64c8" fill-opacity="0.35"/><circle cx="73.07" cy="254.5" r="0.41" fill="#8a64c8" fill-opacity="0.28"/><circle cx="51.98" cy="264.16" r="0.33" fill="#8a64c8" fill-opacity="0.32"/><circle cx="57.06" cy="257.08" r="0.34" fill="#8a64c8" fill-opacity="0.4"/><circle cx="70.48" cy="217.31" r="0.47" fill="#8a64c8" fill-opacity="0.29"/><circle cx="45.84" cy="273.58" r="0.3" fill="#8a64c8" fill-opacity="0.35"/><circle cx="84.65" cy="271.93" r="0.35" fill="#8a64c8" fill-opacity="0.35"/><circle cx="95.19" cy="260.17" r="0.44" fill="#8a64c8" fill-opacity="0.21"/><circle cx="59.27" cy="230.6" r="0.41" fill="#8a64c8" fill-opacity="0.4"/><circle cx="90.79" cy="248.9" r="0.35" fill="#8a64c8" fill-opacity="0.4"/><circle cx="72.77" cy="245.62" r="0.3" fill="#8a64c8" fill-opacity="0.28"/><circle cx="78.15" cy="217.5" r="0.36" fill="#8a64c8" fill-opacity="0.38"/><circle cx="82.01" cy="217.16" r="0.38" fill="#8a64c8" fill-opacity="0.25"/><circle cx="64.14" cy="217.33" r="0.47" fill="#8a64c8" fill-opacity="0.23"/><circle cx="88.6" cy="251.5" r="0.31" fill="#8a64c8" fill-opacity="0.28"/><circle cx="94.1" cy="259.09" r="0.34" fill="#8a64c8" fill-opacity="0.25"/><circle cx="89.72" cy="265.19" r="0.3" fill="#8a64c8" fill-opacity="0.37"/><circle cx="61.3" cy="283.06" r="0.3" fill="#8a64c8" fill-opacity="0.28"/><circle cx="71.94" cy="222.2" r="0.34" fill="#8a64c8" fill-opacity="0.38"/><circle cx="84.75" cy="277.78" r="0.35" fill="#8a64c8" fill-opacity="0.26"/><circle cx="55.73" cy="264.3" r="0.38" fill="#8a64c8" fill-opacity="0.29"/><circle cx="37.58" cy="245.12" r="0.45" fill="#8a64c8" fill-opacity="0.34"/><circle cx="58.64" cy="277.45" r="0.4" fill="#8a64c8" fill-opacity="0.38"/><circle cx="46.82" cy="266.2" r="0.41" fill="#8a64c8" fill-opacity="0.27"/><circle cx="53.77" cy="274.38" r="0.33" fill="#8a64c8" fill-opacity="0.37"/><circle cx="57.24" cy="262.73" r="0.37" fill="#8a64c8" fill-opacity="0.32"/><circle cx="103.05" cy="246.33" r="0.34" fill="#8a64c8" fill-opacity="0.29"/><circle cx="51.99" cy="227.06" r="0.37" fill="#8a64c8" fill-opacity="0.28"/><circle cx="89.47" cy="221.57" r="0.42" fill="#8a64c8" fill-opacity="0.35"/><circle cx="81.45" cy="236.38" r="0.48" fill="#8a64c8" fill-opacity="0.24"/><circle cx="88.14" cy="263.96" r="0.3" fill="#8a64c8" fill-opacity="0.25"/><circle cx="55.97" cy="239.7" r="0.33" fill="#8a64c8" fill-opacity="0.27"/><circle cx="76.92" cy="244.88" r="0.35" fill="#8a64c8" fill-opacity="0.29"/><circle cx="78.63" cy="267.04" r="0.33" fill="#8a64c8" fill-opacity="0.27"/><circle cx="41.35" cy="238.83" r="0.34" fill="#8a64c8" fill-opacity="0.29"/><circle cx="47.28" cy="232.17" r="0.3" fill="#8a64c8" fill-opacity="0.33"/><circle cx="38.47" cy="267" r="0.3" fill="#8a64c8" fill-opacity="0.31"/><rect x="26.5" y="208.5" width="81" height="80.5" fill="none" stroke="#3a3a3a" stroke-width="1.1"/><svg x="26.5" y="293" width="81" height="60.5" overflow="hidden"><rect x="0" y="0" width="81" height="60.5" fill="#efefed"/><g filter="url(#rough)"><circle cx="71" cy="10.7" r="3.3" fill="url(#cg)" fill-opacity="0.95" filter="url(#b1)"/><circle cx="47.9" cy="24.4" r="1.2" fill="#8070c0" fill-opacity="0.6" filter="url(#b1)"/><circle cx="43.1" cy="37.8" r="5" fill="#3a2660" fill-opacity="1" filter="url(#b1)"/><circle cx="78.7" cy="42.3" r="1.5" fill="#8070c0" fill-opacity="0.6" filter="url(#b1)"/><circle cx="17.2" cy="54.4" r="3.5" fill="#3e2a5a" fill-opacity="0.9" filter="url(#b2)"/><circle cx="37.7" cy="54.2" r="1.5" fill="url(#cg)" fill-opacity="0.8" filter="url(#b1)"/></g></svg><rect x="85.1" y="348.1" width="18.8" height="0.9" fill="#333"/><rect x="90.8" y="346.5" width="7.2" height="1.4" fill="#444" fill-opacity="0.6"/><rect x="26.5" y="293" width="81" height="60.5" fill="none" stroke="#3a3a3a" stroke-width="1.1"/><rect x="111.5" y="208.5" width="81" height="80.5" fill="#fff"/><circle cx="152.2" cy="248.5" r="38.5" fill="#caa4e2"/><circle cx="152.2" cy="248.5" r="38.2" fill="#000" filter="url(#tex2)"/><circle cx="129.37" cy="226.27" r="0.73" fill="#5034b0" fill-opacity="0.92"/><circle cx="149.95" cy="213.04" r="0.35" fill="#5034b0" fill-opacity="0.68"/><circle cx="180.14" cy="238.11" r="0.84" fill="#5034b0" fill-opacity="0.51"/><circle cx="134.17" cy="252.05" r="0.53" fill="#5034b0" fill-opacity="0.74"/><circle cx="169.37" cy="249.92" r="0.4" fill="#5034b0" fill-opacity="0.91"/><circle cx="153.66" cy="233.79" r="0.73" fill="#5034b0" fill-opacity="0.52"/><circle cx="142.46" cy="239.64" r="0.35" fill="#5034b0" fill-opacity="0.89"/><circle cx="156.53" cy="265.12" r="0.93" fill="#5034b0" fill-opacity="0.89"/><circle cx="143.33" cy="283.68" r="0.52" fill="#5034b0" fill-opacity="0.79"/><circle cx="162.26" cy="282.95" r="0.64" fill="#5034b0" fill-opacity="0.93"/><circle cx="168.08" cy="235.98" r="0.43" fill="#5034b0" fill-opacity="0.53"/><circle cx="157.95" cy="255.99" r="0.4" fill="#5034b0" fill-opacity="0.75"/><circle cx="182.66" cy="249.15" r="0.42" fill="#5034b0" fill-opacity="0.6"/><circle cx="162.91" cy="225.19" r="0.41" fill="#5034b0" fill-opacity="0.69"/><circle cx="149.72" cy="240.02" r="0.92" fill="#5034b0" fill-opacity="0.46"/><circle cx="152.16" cy="214.49" r="0.35" fill="#5034b0" fill-opacity="0.84"/><circle cx="133.43" cy="269.47" r="0.35" fill="#5034b0" fill-opacity="0.47"/><circle cx="167.41" cy="281.31" r="0.37" fill="#5034b0" fill-opacity="0.83"/><circle cx="184.66" cy="233.14" r="0.42" fill="#5034b0" fill-opacity="0.63"/><circle cx="120.01" cy="243.46" r="0.36" fill="#5034b0" fill-opacity="0.82"/><circle cx="162.23" cy="215.69" r="0.35" fill="#5034b0" fill-opacity="0.92"/><circle cx="170.35" cy="260.21" r="0.57" fill="#5034b0" fill-opacity="0.91"/><circle cx="133.15" cy="278.54" r="0.53" fill="#5034b0" fill-opacity="0.61"/><circle cx="145.85" cy="262.73" r="0.35" fill="#5034b0" fill-opacity="0.52"/><circle cx="138.42" cy="214.23" r="0.37" fill="#5034b0" fill-opacity="0.47"/><circle cx="179.13" cy="246.24" r="0.45" fill="#5034b0" fill-opacity="0.57"/><circle cx="124.26" cy="229.78" r="0.47" fill="#5034b0" fill-opacity="0.66"/><circle cx="185.47" cy="260.64" r="0.35" fill="#5034b0" fill-opacity="0.7"/><circle cx="159.25" cy="237.14" r="0.67" fill="#5034b0" fill-opacity="0.92"/><circle cx="129.78" cy="224.5" r="0.36" fill="#5034b0" fill-opacity="0.67"/><circle cx="172.32" cy="275.92" r="0.4" fill="#5034b0" fill-opacity="0.68"/><circle cx="186.36" cy="248.35" r="0.92" fill="#5034b0" fill-opacity="0.68"/><circle cx="120.69" cy="250.85" r="0.49" fill="#5034b0" fill-opacity="0.6"/><circle cx="140.55" cy="256.55" r="0.44" fill="#5034b0" fill-opacity="0.94"/><circle cx="180.57" cy="241.18" r="0.5" fill="#5034b0" fill-opacity="0.62"/><circle cx="168.56" cy="258.76" r="0.72" fill="#5034b0" fill-opacity="0.88"/><circle cx="131.08" cy="273.6" r="0.71" fill="#5034b0" fill-opacity="0.8"/><circle cx="135.61" cy="220.84" r="0.43" fill="#5034b0" fill-opacity="0.8"/><circle cx="147.23" cy="273.8" r="0.71" fill="#5034b0" fill-opacity="0.8"/><circle cx="142.41" cy="283.12" r="0.6" fill="#5034b0" fill-opacity="0.74"/><circle cx="179.49" cy="250.49" r="0.39" fill="#5034b0" fill-opacity="0.79"/><circle cx="119.67" cy="256.22" r="0.6" fill="#5034b0" fill-opacity="0.85"/><circle cx="135.07" cy="272.75" r="0.68" fill="#5034b0" fill-opacity="0.86"/><circle cx="132.23" cy="275.98" r="0.8" fill="#5034b0" fill-opacity="0.79"/><circle cx="187.98" cy="243.09" r="0.51" fill="#5034b0" fill-opacity="0.71"/><circle cx="169.21" cy="277.76" r="0.88" fill="#5034b0" fill-opacity="0.69"/><circle cx="140.91" cy="219.21" r="0.67" fill="#5034b0" fill-opacity="0.54"/><circle cx="157.55" cy="220.81" r="0.62" fill="#5034b0" fill-opacity="0.66"/><circle cx="128.99" cy="225.66" r="0.59" fill="#5034b0" fill-opacity="0.81"/><circle cx="166.78" cy="251.06" r="0.47" fill="#5034b0" fill-opacity="0.78"/><circle cx="158.12" cy="278.57" r="0.59" fill="#5034b0" fill-opacity="0.47"/><circle cx="134.88" cy="251.63" r="0.35" fill="#5034b0" fill-opacity="0.52"/><circle cx="145.73" cy="262.87" r="0.37" fill="#5034b0" fill-opacity="0.47"/><circle cx="129.92" cy="253.43" r="0.57" fill="#5034b0" fill-opacity="0.75"/><circle cx="154.88" cy="283.56" r="0.35" fill="#5034b0" fill-opacity="0.65"/><circle cx="147.98" cy="271.81" r="0.36" fill="#5034b0" fill-opacity="0.87"/><circle cx="147.27" cy="253.5" r="0.58" fill="#5034b0" fill-opacity="0.5"/><circle cx="131.51" cy="242.46" r="0.55" fill="#5034b0" fill-opacity="0.93"/><circle cx="162.2" cy="226.73" r="0.75" fill="#5034b0" fill-opacity="0.77"/><circle cx="142.69" cy="258.7" r="0.56" fill="#5034b0" fill-opacity="0.73"/><circle cx="187.3" cy="238.83" r="0.57" fill="#5034b0" fill-opacity="0.63"/><circle cx="153.09" cy="247.79" r="0.36" fill="#5034b0" fill-opacity="0.73"/><circle cx="141.8" cy="239.31" r="0.59" fill="#5034b0" fill-opacity="0.9"/><circle cx="134.92" cy="265.6" r="0.38" fill="#5034b0" fill-opacity="0.6"/><circle cx="174.66" cy="244.57" r="0.9" fill="#5034b0" fill-opacity="0.91"/><circle cx="136.66" cy="237.82" r="0.93" fill="#5034b0" fill-opacity="0.7"/><circle cx="134.18" cy="259.08" r="0.93" fill="#5034b0" fill-opacity="0.7"/><circle cx="146.41" cy="273.39" r="0.36" fill="#5034b0" fill-opacity="0.76"/><circle cx="133.42" cy="255.47" r="0.72" fill="#5034b0" fill-opacity="0.86"/><circle cx="179.11" cy="250.74" r="0.39" fill="#5034b0" fill-opacity="0.92"/><circle cx="155.85" cy="230.53" r="0.39" fill="#5034b0" fill-opacity="0.53"/><circle cx="172.18" cy="247.09" r="0.57" fill="#5034b0" fill-opacity="0.69"/><circle cx="134.56" cy="225.8" r="0.68" fill="#5034b0" fill-opacity="0.51"/><circle cx="153.52" cy="228.25" r="0.52" fill="#5034b0" fill-opacity="0.62"/><circle cx="144.39" cy="274.28" r="0.48" fill="#5034b0" fill-opacity="0.63"/><circle cx="151.31" cy="220.07" r="0.35" fill="#5034b0" fill-opacity="0.58"/><circle cx="118.15" cy="258.25" r="0.82" fill="#5034b0" fill-opacity="0.72"/><circle cx="184.71" cy="251.48" r="0.46" fill="#5034b0" fill-opacity="0.74"/><circle cx="144.56" cy="220.09" r="0.49" fill="#5034b0" fill-opacity="0.91"/><circle cx="134.78" cy="263.77" r="0.79" fill="#5034b0" fill-opacity="0.55"/><circle cx="142.5" cy="280.78" r="0.35" fill="#5034b0" fill-opacity="0.87"/><circle cx="143.9" cy="225.62" r="0.4" fill="#5034b0" fill-opacity="0.84"/><circle cx="164.03" cy="241.06" r="0.49" fill="#5034b0" fill-opacity="0.72"/><circle cx="130.92" cy="248.81" r="0.36" fill="#5034b0" fill-opacity="0.74"/><circle cx="155.87" cy="239.54" r="0.38" fill="#5034b0" fill-opacity="0.86"/><circle cx="160.02" cy="219.39" r="0.35" fill="#5034b0" fill-opacity="0.81"/><circle cx="188.84" cy="243.56" r="0.65" fill="#5034b0" fill-opacity="0.47"/><circle cx="161.67" cy="233.99" r="0.6" fill="#5034b0" fill-opacity="0.93"/><circle cx="149.03" cy="235.3" r="0.4" fill="#5034b0" fill-opacity="0.91"/><circle cx="169.23" cy="271.86" r="0.45" fill="#5034b0" fill-opacity="0.53"/><circle cx="146.65" cy="243.13" r="0.36" fill="#5034b0" fill-opacity="0.64"/><circle cx="160.18" cy="252.38" r="0.55" fill="#5034b0" fill-opacity="0.82"/><circle cx="162" cy="239.12" r="0.46" fill="#5034b0" fill-opacity="0.61"/><circle cx="131.28" cy="233.25" r="0.88" fill="#5034b0" fill-opacity="0.64"/><circle cx="181.22" cy="259.1" r="0.36" fill="#5034b0" fill-opacity="0.77"/><circle cx="116.92" cy="247.2" r="0.53" fill="#5034b0" fill-opacity="0.76"/><circle cx="149.92" cy="275.89" r="0.39" fill="#5034b0" fill-opacity="0.83"/><circle cx="138.74" cy="247.06" r="0.38" fill="#5034b0" fill-opacity="0.64"/><circle cx="150.9" cy="232.89" r="0.66" fill="#5034b0" fill-opacity="0.78"/><circle cx="178.2" cy="263.93" r="0.35" fill="#5034b0" fill-opacity="0.51"/><circle cx="137.19" cy="238.44" r="0.81" fill="#5034b0" fill-opacity="0.69"/><circle cx="137.53" cy="278.08" r="0.35" fill="#5034b0" fill-opacity="0.81"/><circle cx="165.76" cy="253.25" r="0.89" fill="#5034b0" fill-opacity="0.79"/><circle cx="154.32" cy="260.93" r="0.92" fill="#5034b0" fill-opacity="0.78"/><circle cx="158.14" cy="236.01" r="0.58" fill="#5034b0" fill-opacity="0.63"/><circle cx="154.21" cy="269.77" r="0.58" fill="#5034b0" fill-opacity="0.62"/><circle cx="141.91" cy="257.49" r="0.76" fill="#5034b0" fill-opacity="0.77"/><circle cx="160.38" cy="225.56" r="0.79" fill="#5034b0" fill-opacity="0.71"/><circle cx="128.8" cy="233.1" r="0.68" fill="#5034b0" fill-opacity="0.65"/><circle cx="157.73" cy="252.36" r="0.37" fill="#5034b0" fill-opacity="0.47"/><circle cx="171.9" cy="232.05" r="0.7" fill="#5034b0" fill-opacity="0.45"/><circle cx="117.91" cy="255" r="0.58" fill="#5034b0" fill-opacity="0.66"/><circle cx="140.79" cy="251.01" r="0.36" fill="#5034b0" fill-opacity="0.53"/><circle cx="135.99" cy="264.78" r="0.82" fill="#5034b0" fill-opacity="0.53"/><circle cx="151.7" cy="267.98" r="0.37" fill="#5034b0" fill-opacity="0.59"/><circle cx="154.59" cy="274.08" r="0.35" fill="#5034b0" fill-opacity="0.91"/><circle cx="127.84" cy="274.78" r="0.63" fill="#5034b0" fill-opacity="0.79"/><circle cx="116.79" cy="254.86" r="0.36" fill="#5034b0" fill-opacity="0.78"/><circle cx="144.44" cy="277.88" r="0.67" fill="#5034b0" fill-opacity="0.53"/><circle cx="153.97" cy="254.07" r="0.38" fill="#5034b0" fill-opacity="0.49"/><circle cx="122.52" cy="269.76" r="0.43" fill="#5034b0" fill-opacity="0.61"/><circle cx="132.91" cy="252.43" r="0.67" fill="#5034b0" fill-opacity="0.81"/><circle cx="161.6" cy="264.02" r="0.62" fill="#5034b0" fill-opacity="0.92"/><circle cx="137.42" cy="229.23" r="0.92" fill="#5034b0" fill-opacity="0.45"/><circle cx="182.5" cy="260.69" r="0.45" fill="#5034b0" fill-opacity="0.47"/><circle cx="117.08" cy="237.47" r="0.51" fill="#5034b0" fill-opacity="0.63"/><circle cx="160.41" cy="253.99" r="0.83" fill="#5034b0" fill-opacity="0.7"/><circle cx="160.09" cy="245.13" r="0.39" fill="#5034b0" fill-opacity="0.48"/><circle cx="144.95" cy="253.96" r="0.39" fill="#5034b0" fill-opacity="0.65"/><circle cx="149.31" cy="256.37" r="0.35" fill="#5034b0" fill-opacity="0.94"/><circle cx="163.53" cy="272.33" r="0.45" fill="#5034b0" fill-opacity="0.72"/><circle cx="170.09" cy="258.98" r="0.36" fill="#5034b0" fill-opacity="0.72"/><circle cx="177.39" cy="234.92" r="0.79" fill="#5034b0" fill-opacity="0.56"/><circle cx="179.22" cy="251.47" r="0.49" fill="#5034b0" fill-opacity="0.74"/><circle cx="131.3" cy="268.97" r="0.67" fill="#5034b0" fill-opacity="0.91"/><circle cx="143.42" cy="271.69" r="0.76" fill="#5034b0" fill-opacity="0.56"/><circle cx="167.64" cy="262.23" r="0.35" fill="#5034b0" fill-opacity="0.84"/><circle cx="160.95" cy="229.74" r="0.36" fill="#5034b0" fill-opacity="0.49"/><circle cx="152.55" cy="259.24" r="0.46" fill="#5034b0" fill-opacity="0.74"/><circle cx="152.47" cy="257.67" r="0.64" fill="#5034b0" fill-opacity="0.47"/><circle cx="158.33" cy="267.31" r="0.43" fill="#5034b0" fill-opacity="0.5"/><circle cx="134" cy="258.42" r="0.69" fill="#5034b0" fill-opacity="0.73"/><circle cx="175.97" cy="230.32" r="0.7" fill="#5034b0" fill-opacity="0.74"/><circle cx="120.94" cy="260.38" r="0.61" fill="#5034b0" fill-opacity="0.93"/><circle cx="147.93" cy="217.81" r="0.39" fill="#5034b0" fill-opacity="0.86"/><circle cx="142.33" cy="257.49" r="0.35" fill="#5034b0" fill-opacity="0.53"/><circle cx="149.8" cy="278.82" r="0.4" fill="#5034b0" fill-opacity="0.48"/><circle cx="154.59" cy="220.98" r="0.35" fill="#5034b0" fill-opacity="0.48"/><circle cx="167.32" cy="264.63" r="0.79" fill="#5034b0" fill-opacity="0.92"/><circle cx="138.64" cy="236.99" r="0.46" fill="#5034b0" fill-opacity="0.63"/><circle cx="150.2" cy="252.11" r="0.55" fill="#5034b0" fill-opacity="0.86"/><circle cx="150.54" cy="237.2" r="0.52" fill="#5034b0" fill-opacity="0.54"/><circle cx="145.97" cy="224.58" r="0.88" fill="#5034b0" fill-opacity="0.85"/><circle cx="167.55" cy="262.59" r="0.85" fill="#5034b0" fill-opacity="0.68"/><circle cx="129.69" cy="258.38" r="0.7" fill="#5034b0" fill-opacity="0.92"/><circle cx="116.53" cy="241.09" r="0.56" fill="#5034b0" fill-opacity="0.5"/><circle cx="161.61" cy="226.46" r="0.35" fill="#5034b0" fill-opacity="0.94"/><circle cx="179.71" cy="254.26" r="0.49" fill="#5034b0" fill-opacity="0.89"/><circle cx="138.78" cy="259.22" r="0.4" fill="#5034b0" fill-opacity="0.55"/><circle cx="131.77" cy="240.05" r="0.69" fill="#5034b0" fill-opacity="0.57"/><circle cx="141.2" cy="263.29" r="0.59" fill="#8a64c8" fill-opacity="0.41"/><circle cx="169.27" cy="224.95" r="0.35" fill="#8a64c8" fill-opacity="0.24"/><circle cx="164.92" cy="225.93" r="0.3" fill="#8a64c8" fill-opacity="0.24"/><circle cx="177.71" cy="266.72" r="0.54" fill="#8a64c8" fill-opacity="0.25"/><circle cx="158.33" cy="228.35" r="0.44" fill="#8a64c8" fill-opacity="0.42"/><circle cx="128.52" cy="225.37" r="0.34" fill="#8a64c8" fill-opacity="0.2"/><circle cx="123.94" cy="246.41" r="0.31" fill="#8a64c8" fill-opacity="0.3"/><circle cx="149.7" cy="254.05" r="0.33" fill="#8a64c8" fill-opacity="0.3"/><circle cx="121.52" cy="253.14" r="0.35" fill="#8a64c8" fill-opacity="0.45"/><circle cx="166.43" cy="215.91" r="0.44" fill="#8a64c8" fill-opacity="0.37"/><circle cx="120.01" cy="240.94" r="0.34" fill="#8a64c8" fill-opacity="0.35"/><circle cx="140.73" cy="224.35" r="0.32" fill="#8a64c8" fill-opacity="0.22"/><circle cx="171.04" cy="260.01" r="0.4" fill="#8a64c8" fill-opacity="0.39"/><circle cx="147.66" cy="228.51" r="0.56" fill="#8a64c8" fill-opacity="0.27"/><circle cx="150.1" cy="238.79" r="0.47" fill="#8a64c8" fill-opacity="0.37"/><circle cx="185.97" cy="239.13" r="0.44" fill="#8a64c8" fill-opacity="0.41"/><circle cx="150.13" cy="219.65" r="0.31" fill="#8a64c8" fill-opacity="0.33"/><circle cx="166.57" cy="237.51" r="0.58" fill="#8a64c8" fill-opacity="0.34"/><circle cx="150.62" cy="249.75" r="0.35" fill="#8a64c8" fill-opacity="0.24"/><circle cx="132.13" cy="219.71" r="0.55" fill="#8a64c8" fill-opacity="0.35"/><circle cx="142.96" cy="256.48" r="0.44" fill="#8a64c8" fill-opacity="0.34"/><circle cx="147.3" cy="226.41" r="0.54" fill="#8a64c8" fill-opacity="0.25"/><circle cx="145.65" cy="266.49" r="0.42" fill="#8a64c8" fill-opacity="0.42"/><circle cx="166.8" cy="274.06" r="0.48" fill="#8a64c8" fill-opacity="0.26"/><circle cx="177.9" cy="259.18" r="0.51" fill="#8a64c8" fill-opacity="0.42"/><circle cx="148.91" cy="224.84" r="0.35" fill="#8a64c8" fill-opacity="0.33"/><circle cx="169.01" cy="237.04" r="0.32" fill="#8a64c8" fill-opacity="0.35"/><circle cx="167.86" cy="245.16" r="0.3" fill="#8a64c8" fill-opacity="0.23"/><circle cx="125.65" cy="237.49" r="0.31" fill="#8a64c8" fill-opacity="0.25"/><circle cx="127.55" cy="231.85" r="0.44" fill="#8a64c8" fill-opacity="0.38"/><circle cx="176.07" cy="258.19" r="0.51" fill="#8a64c8" fill-opacity="0.44"/><circle cx="137.97" cy="279.51" r="0.42" fill="#8a64c8" fill-opacity="0.43"/><circle cx="156.25" cy="279.12" r="0.51" fill="#8a64c8" fill-opacity="0.32"/><circle cx="165.32" cy="258.13" r="0.31" fill="#8a64c8" fill-opacity="0.22"/><circle cx="168.98" cy="272.2" r="0.3" fill="#8a64c8" fill-opacity="0.39"/><circle cx="149.31" cy="215.19" r="0.49" fill="#8a64c8" fill-opacity="0.38"/><circle cx="184.35" cy="231.88" r="0.42" fill="#8a64c8" fill-opacity="0.44"/><circle cx="161.65" cy="255.67" r="0.3" fill="#8a64c8" fill-opacity="0.25"/><circle cx="134.54" cy="266.28" r="0.44" fill="#8a64c8" fill-opacity="0.39"/><circle cx="172.51" cy="260.31" r="0.39" fill="#8a64c8" fill-opacity="0.29"/><circle cx="173.34" cy="267.75" r="0.34" fill="#8a64c8" fill-opacity="0.37"/><circle cx="115.91" cy="249.52" r="0.57" fill="#8a64c8" fill-opacity="0.22"/><circle cx="154.13" cy="217.14" r="0.33" fill="#8a64c8" fill-opacity="0.23"/><circle cx="130.37" cy="251.39" r="0.46" fill="#8a64c8" fill-opacity="0.43"/><circle cx="137.48" cy="261.96" r="0.37" fill="#8a64c8" fill-opacity="0.37"/><circle cx="159.01" cy="221.27" r="0.33" fill="#8a64c8" fill-opacity="0.28"/><circle cx="167.6" cy="226.74" r="0.3" fill="#8a64c8" fill-opacity="0.31"/><circle cx="154.51" cy="278.61" r="0.3" fill="#8a64c8" fill-opacity="0.27"/><circle cx="173.26" cy="263.01" r="0.59" fill="#8a64c8" fill-opacity="0.34"/><circle cx="125.19" cy="271.93" r="0.3" fill="#8a64c8" fill-opacity="0.29"/><circle cx="153.19" cy="246.04" r="0.48" fill="#8a64c8" fill-opacity="0.29"/><circle cx="170.63" cy="250.41" r="0.36" fill="#8a64c8" fill-opacity="0.3"/><circle cx="143.72" cy="247.6" r="0.31" fill="#8a64c8" fill-opacity="0.44"/><circle cx="128.42" cy="257.46" r="0.3" fill="#8a64c8" fill-opacity="0.27"/><circle cx="181.64" cy="239.9" r="0.38" fill="#8a64c8" fill-opacity="0.21"/><circle cx="126.7" cy="268.88" r="0.36" fill="#8a64c8" fill-opacity="0.35"/><circle cx="176.5" cy="231.39" r="0.42" fill="#8a64c8" fill-opacity="0.21"/><circle cx="184.3" cy="253.34" r="0.35" fill="#8a64c8" fill-opacity="0.42"/><circle cx="168.41" cy="217.03" r="0.34" fill="#8a64c8" fill-opacity="0.45"/><circle cx="153.57" cy="213.59" r="0.31" fill="#8a64c8" fill-opacity="0.4"/><circle cx="120" cy="265.64" r="0.6" fill="#8a64c8" fill-opacity="0.25"/><circle cx="135.24" cy="257.63" r="0.37" fill="#8a64c8" fill-opacity="0.27"/><circle cx="145.69" cy="237.25" r="0.31" fill="#8a64c8" fill-opacity="0.31"/><circle cx="172.62" cy="258.73" r="0.54" fill="#8a64c8" fill-opacity="0.42"/><circle cx="153.86" cy="253.25" r="0.51" fill="#8a64c8" fill-opacity="0.44"/><circle cx="141.09" cy="240.55" r="0.32" fill="#8a64c8" fill-opacity="0.43"/><circle cx="158.23" cy="246.01" r="0.31" fill="#8a64c8" fill-opacity="0.31"/><circle cx="148.84" cy="280.45" r="0.34" fill="#8a64c8" fill-opacity="0.39"/><circle cx="167.59" cy="270.24" r="0.59" fill="#8a64c8" fill-opacity="0.38"/><circle cx="162.6" cy="255.11" r="0.42" fill="#8a64c8" fill-opacity="0.29"/><circle cx="134.85" cy="267.28" r="0.4" fill="#8a64c8" fill-opacity="0.44"/><circle cx="153.79" cy="276.36" r="0.32" fill="#8a64c8" fill-opacity="0.34"/><circle cx="150.63" cy="235.07" r="0.37" fill="#8a64c8" fill-opacity="0.38"/><circle cx="184.65" cy="250.16" r="0.35" fill="#8a64c8" fill-opacity="0.33"/><circle cx="126.88" cy="227.42" r="0.3" fill="#8a64c8" fill-opacity="0.33"/><circle cx="174.51" cy="253.97" r="0.34" fill="#8a64c8" fill-opacity="0.21"/><circle cx="144.87" cy="272.21" r="0.43" fill="#8a64c8" fill-opacity="0.43"/><circle cx="133.7" cy="268.08" r="0.45" fill="#8a64c8" fill-opacity="0.43"/><circle cx="187.15" cy="237.06" r="0.33" fill="#8a64c8" fill-opacity="0.24"/><circle cx="161.56" cy="244.23" r="0.36" fill="#8a64c8" fill-opacity="0.38"/><circle cx="129.51" cy="244.36" r="0.56" fill="#8a64c8" fill-opacity="0.27"/><circle cx="120.26" cy="237.74" r="0.31" fill="#8a64c8" fill-opacity="0.29"/><circle cx="124.38" cy="249.5" r="0.31" fill="#8a64c8" fill-opacity="0.31"/><circle cx="162.41" cy="252.53" r="0.34" fill="#8a64c8" fill-opacity="0.24"/><circle cx="170.79" cy="244.65" r="0.32" fill="#8a64c8" fill-opacity="0.4"/><circle cx="151.15" cy="229.59" r="0.51" fill="#8a64c8" fill-opacity="0.36"/><circle cx="129.76" cy="267.4" r="0.32" fill="#8a64c8" fill-opacity="0.27"/><circle cx="169.69" cy="231.34" r="0.54" fill="#8a64c8" fill-opacity="0.24"/><circle cx="157.69" cy="254.91" r="0.46" fill="#8a64c8" fill-opacity="0.34"/><circle cx="159.88" cy="248.97" r="0.5" fill="#8a64c8" fill-opacity="0.32"/><circle cx="157.3" cy="243.16" r="0.4" fill="#8a64c8" fill-opacity="0.23"/><circle cx="146.98" cy="220.05" r="0.41" fill="#8a64c8" fill-opacity="0.26"/><circle cx="163.9" cy="244.62" r="0.3" fill="#8a64c8" fill-opacity="0.37"/><circle cx="160.18" cy="253.77" r="0.36" fill="#8a64c8" fill-opacity="0.36"/><circle cx="176.66" cy="228.79" r="0.3" fill="#8a64c8" fill-opacity="0.36"/><circle cx="159.33" cy="237.81" r="0.47" fill="#8a64c8" fill-opacity="0.26"/><circle cx="151.77" cy="249.87" r="0.47" fill="#8a64c8" fill-opacity="0.33"/><circle cx="172.81" cy="233.91" r="0.31" fill="#8a64c8" fill-opacity="0.25"/><circle cx="149.18" cy="284.38" r="0.31" fill="#8a64c8" fill-opacity="0.22"/><circle cx="145.94" cy="256.81" r="0.35" fill="#8a64c8" fill-opacity="0.36"/><circle cx="143.16" cy="235.95" r="0.31" fill="#8a64c8" fill-opacity="0.32"/><circle cx="142.69" cy="225.66" r="0.4" fill="#8a64c8" fill-opacity="0.43"/><circle cx="163.93" cy="263.63" r="0.37" fill="#8a64c8" fill-opacity="0.33"/><circle cx="174.52" cy="232.32" r="0.43" fill="#8a64c8" fill-opacity="0.3"/><circle cx="159.43" cy="215.45" r="0.33" fill="#8a64c8" fill-opacity="0.23"/><circle cx="150.92" cy="270.59" r="0.54" fill="#8a64c8" fill-opacity="0.27"/><circle cx="131.84" cy="226.99" r="0.57" fill="#8a64c8" fill-opacity="0.23"/><circle cx="154.87" cy="227.21" r="0.3" fill="#8a64c8" fill-opacity="0.36"/><circle cx="167.98" cy="225.08" r="0.3" fill="#8a64c8" fill-opacity="0.44"/><circle cx="130.17" cy="268.14" r="0.46" fill="#8a64c8" fill-opacity="0.27"/><circle cx="134.39" cy="260.06" r="0.3" fill="#8a64c8" fill-opacity="0.22"/><circle cx="147.3" cy="225.31" r="0.53" fill="#8a64c8" fill-opacity="0.22"/><circle cx="147.21" cy="263.39" r="0.57" fill="#8a64c8" fill-opacity="0.4"/><circle cx="173.14" cy="232.54" r="0.3" fill="#8a64c8" fill-opacity="0.3"/><circle cx="153.1" cy="254.5" r="0.4" fill="#8a64c8" fill-opacity="0.27"/><circle cx="172.82" cy="265.09" r="0.56" fill="#8a64c8" fill-opacity="0.44"/><circle cx="140.61" cy="251.01" r="0.48" fill="#8a64c8" fill-opacity="0.23"/><circle cx="141.79" cy="246.01" r="0.59" fill="#8a64c8" fill-opacity="0.34"/><circle cx="134.37" cy="255.89" r="0.39" fill="#8a64c8" fill-opacity="0.44"/><circle cx="136.98" cy="255.91" r="0.38" fill="#8a64c8" fill-opacity="0.43"/><rect x="111.5" y="208.5" width="81" height="80.5" fill="none" stroke="#3a3a3a" stroke-width="1.1"/><svg x="111.5" y="293" width="81" height="60.5" overflow="hidden"><rect x="0" y="0" width="81" height="60.5" fill="#ececea"/><g filter="url(#rough)"><circle cx="63.9" cy="16" r="8" fill="#3a2466" fill-opacity="1" filter="url(#b1)"/><circle cx="39.8" cy="29.2" r="3" fill="url(#cg)" fill-opacity="0.95" filter="url(#b1)"/><circle cx="19" cy="50.3" r="6.5" fill="#3a2466" fill-opacity="1" filter="url(#b15)"/><circle cx="9.5" cy="48" r="3" fill="#a9a0d0" fill-opacity="0.5" filter="url(#b2)"/></g></svg><rect x="170.1" y="348.1" width="18.8" height="0.9" fill="#333"/><rect x="175.8" y="346.5" width="7.2" height="1.4" fill="#444" fill-opacity="0.6"/><rect x="111.5" y="293" width="81" height="60.5" fill="none" stroke="#3a3a3a" stroke-width="1.1"/><rect x="196.5" y="208.5" width="81" height="80.5" fill="#fff"/><circle cx="237.2" cy="248.5" r="38.5" fill="#cca6e3"/><circle cx="237.2" cy="248.5" r="38.2" fill="#000" filter="url(#tex0)"/><circle cx="246.22" cy="216.19" r="0.39" fill="#5034b0" fill-opacity="0.48"/><circle cx="267.32" cy="248.59" r="0.39" fill="#5034b0" fill-opacity="0.73"/><circle cx="214.51" cy="271.72" r="0.33" fill="#5034b0" fill-opacity="0.75"/><circle cx="234.19" cy="224.88" r="0.42" fill="#5034b0" fill-opacity="0.69"/><circle cx="246.85" cy="274.28" r="0.56" fill="#5034b0" fill-opacity="0.48"/><circle cx="247.28" cy="219.57" r="0.59" fill="#5034b0" fill-opacity="0.52"/><circle cx="264.79" cy="266.78" r="0.56" fill="#5034b0" fill-opacity="0.57"/><circle cx="250.86" cy="257.63" r="0.46" fill="#5034b0" fill-opacity="0.5"/><circle cx="264.27" cy="239.96" r="0.32" fill="#5034b0" fill-opacity="0.68"/><circle cx="214.36" cy="275.98" r="0.63" fill="#5034b0" fill-opacity="0.61"/><circle cx="218.19" cy="224.13" r="0.56" fill="#5034b0" fill-opacity="0.84"/><circle cx="259.09" cy="252.45" r="0.44" fill="#5034b0" fill-opacity="0.5"/><circle cx="227.81" cy="242.61" r="0.61" fill="#5034b0" fill-opacity="0.61"/><circle cx="259.56" cy="268.68" r="0.34" fill="#5034b0" fill-opacity="0.45"/><circle cx="223.52" cy="249.9" r="0.32" fill="#5034b0" fill-opacity="0.78"/><circle cx="235.88" cy="244.58" r="0.54" fill="#5034b0" fill-opacity="0.36"/><circle cx="219.69" cy="279.02" r="0.45" fill="#5034b0" fill-opacity="0.5"/><circle cx="220.63" cy="264.57" r="0.31" fill="#5034b0" fill-opacity="0.85"/><circle cx="259.9" cy="256.48" r="0.52" fill="#5034b0" fill-opacity="0.55"/><circle cx="255.39" cy="246.31" r="0.68" fill="#5034b0" fill-opacity="0.8"/><circle cx="220.43" cy="217.9" r="0.38" fill="#5034b0" fill-opacity="0.77"/><circle cx="244.8" cy="223.01" r="0.39" fill="#5034b0" fill-opacity="0.7"/><circle cx="228.08" cy="254.37" r="0.52" fill="#5034b0" fill-opacity="0.48"/><circle cx="204.54" cy="251.04" r="0.31" fill="#5034b0" fill-opacity="0.36"/><circle cx="257.48" cy="268.4" r="0.35" fill="#5034b0" fill-opacity="0.48"/><circle cx="203.2" cy="259.18" r="0.33" fill="#5034b0" fill-opacity="0.56"/><circle cx="258.22" cy="228.59" r="0.33" fill="#5034b0" fill-opacity="0.59"/><circle cx="223.37" cy="250.38" r="0.36" fill="#5034b0" fill-opacity="0.5"/><circle cx="244.3" cy="228.69" r="0.47" fill="#5034b0" fill-opacity="0.84"/><circle cx="257.29" cy="237.96" r="0.45" fill="#5034b0" fill-opacity="0.51"/><circle cx="216.45" cy="263.92" r="0.55" fill="#5034b0" fill-opacity="0.82"/><circle cx="236.46" cy="251.32" r="0.38" fill="#5034b0" fill-opacity="0.38"/><circle cx="269.16" cy="254.62" r="0.31" fill="#5034b0" fill-opacity="0.71"/><circle cx="214.01" cy="275.83" r="0.59" fill="#5034b0" fill-opacity="0.38"/><circle cx="249.9" cy="282.2" r="0.45" fill="#5034b0" fill-opacity="0.56"/><circle cx="243.92" cy="215.81" r="0.4" fill="#5034b0" fill-opacity="0.58"/><circle cx="255.2" cy="261.6" r="0.31" fill="#5034b0" fill-opacity="0.66"/><circle cx="226.18" cy="239.78" r="0.46" fill="#5034b0" fill-opacity="0.4"/><circle cx="260.64" cy="266.78" r="0.39" fill="#5034b0" fill-opacity="0.8"/><circle cx="215.87" cy="226.02" r="0.31" fill="#5034b0" fill-opacity="0.77"/><circle cx="262.37" cy="263.08" r="0.63" fill="#5034b0" fill-opacity="0.8"/><circle cx="256.69" cy="233.04" r="0.49" fill="#5034b0" fill-opacity="0.75"/><circle cx="260.61" cy="275.76" r="0.63" fill="#5034b0" fill-opacity="0.57"/><circle cx="241.61" cy="224.16" r="0.33" fill="#5034b0" fill-opacity="0.71"/><circle cx="267.68" cy="261.39" r="0.68" fill="#5034b0" fill-opacity="0.49"/><circle cx="247.14" cy="244.54" r="0.59" fill="#5034b0" fill-opacity="0.49"/><circle cx="260.94" cy="243.38" r="0.64" fill="#5034b0" fill-opacity="0.37"/><circle cx="265.91" cy="265.63" r="0.46" fill="#5034b0" fill-opacity="0.62"/><circle cx="252.28" cy="251.64" r="0.35" fill="#5034b0" fill-opacity="0.38"/><circle cx="269.54" cy="247.09" r="0.66" fill="#5034b0" fill-opacity="0.7"/><circle cx="231.49" cy="257.08" r="0.51" fill="#5034b0" fill-opacity="0.41"/><circle cx="213.09" cy="241.15" r="0.4" fill="#5034b0" fill-opacity="0.39"/><circle cx="261.06" cy="260.46" r="0.3" fill="#5034b0" fill-opacity="0.61"/><circle cx="248.71" cy="264.41" r="0.31" fill="#5034b0" fill-opacity="0.63"/><circle cx="223.85" cy="259.78" r="0.32" fill="#5034b0" fill-opacity="0.63"/><circle cx="257.47" cy="235.74" r="0.31" fill="#5034b0" fill-opacity="0.51"/><circle cx="238.9" cy="276.44" r="0.55" fill="#5034b0" fill-opacity="0.63"/><circle cx="245.2" cy="268.03" r="0.36" fill="#5034b0" fill-opacity="0.57"/><circle cx="207.65" cy="270.69" r="0.42" fill="#5034b0" fill-opacity="0.68"/><circle cx="230.97" cy="219.44" r="0.56" fill="#5034b0" fill-opacity="0.54"/><circle cx="218.93" cy="216.91" r="0.31" fill="#5034b0" fill-opacity="0.66"/><circle cx="230.35" cy="254.56" r="0.3" fill="#5034b0" fill-opacity="0.73"/><circle cx="260.66" cy="269.07" r="0.3" fill="#5034b0" fill-opacity="0.53"/><circle cx="263.9" cy="253.97" r="0.55" fill="#5034b0" fill-opacity="0.46"/><circle cx="204.62" cy="234.33" r="0.33" fill="#5034b0" fill-opacity="0.59"/><circle cx="231.64" cy="214.56" r="0.31" fill="#5034b0" fill-opacity="0.68"/><circle cx="246.23" cy="256.99" r="0.69" fill="#5034b0" fill-opacity="0.38"/><circle cx="265.26" cy="233.03" r="0.48" fill="#5034b0" fill-opacity="0.71"/><circle cx="225.65" cy="232.39" r="0.38" fill="#5034b0" fill-opacity="0.45"/><circle cx="257.9" cy="223.25" r="0.55" fill="#5034b0" fill-opacity="0.46"/><circle cx="221.57" cy="238.27" r="0.55" fill="#5034b0" fill-opacity="0.72"/><circle cx="268.32" cy="247.54" r="0.49" fill="#5034b0" fill-opacity="0.74"/><circle cx="260.94" cy="264.35" r="0.3" fill="#5034b0" fill-opacity="0.53"/><circle cx="263.91" cy="272.69" r="0.3" fill="#5034b0" fill-opacity="0.81"/><circle cx="260.32" cy="240.65" r="0.58" fill="#5034b0" fill-opacity="0.38"/><circle cx="239.55" cy="251.32" r="0.3" fill="#5034b0" fill-opacity="0.35"/><circle cx="242.37" cy="238.85" r="0.44" fill="#5034b0" fill-opacity="0.49"/><circle cx="253.34" cy="266.21" r="0.31" fill="#5034b0" fill-opacity="0.84"/><circle cx="215.94" cy="267.5" r="0.43" fill="#5034b0" fill-opacity="0.66"/><circle cx="218.11" cy="250.86" r="0.31" fill="#5034b0" fill-opacity="0.79"/><circle cx="245.95" cy="271.68" r="0.56" fill="#5034b0" fill-opacity="0.64"/><circle cx="268.73" cy="237.83" r="0.41" fill="#5034b0" fill-opacity="0.41"/><circle cx="215.93" cy="234.49" r="0.6" fill="#5034b0" fill-opacity="0.62"/><circle cx="225.76" cy="217.19" r="0.39" fill="#5034b0" fill-opacity="0.77"/><circle cx="248.93" cy="239.91" r="0.64" fill="#5034b0" fill-opacity="0.78"/><circle cx="250.38" cy="231.51" r="0.33" fill="#5034b0" fill-opacity="0.42"/><circle cx="213.63" cy="273.29" r="0.35" fill="#5034b0" fill-opacity="0.35"/><circle cx="233.6" cy="258.5" r="0.46" fill="#5034b0" fill-opacity="0.73"/><circle cx="247.1" cy="243.58" r="0.36" fill="#5034b0" fill-opacity="0.41"/><circle cx="265.83" cy="230.44" r="0.41" fill="#5034b0" fill-opacity="0.83"/><circle cx="204.86" cy="244.36" r="0.4" fill="#5034b0" fill-opacity="0.53"/><circle cx="271.12" cy="247.31" r="0.44" fill="#5034b0" fill-opacity="0.78"/><circle cx="217.68" cy="221.83" r="0.3" fill="#5034b0" fill-opacity="0.42"/><circle cx="259.41" cy="266.73" r="0.51" fill="#5034b0" fill-opacity="0.43"/><circle cx="224.74" cy="248.1" r="0.49" fill="#5034b0" fill-opacity="0.74"/><circle cx="268.53" cy="267.47" r="0.48" fill="#5034b0" fill-opacity="0.41"/><circle cx="228.47" cy="260.35" r="0.51" fill="#5034b0" fill-opacity="0.81"/><circle cx="244.39" cy="262.65" r="0.46" fill="#5034b0" fill-opacity="0.78"/><circle cx="235.46" cy="223.53" r="0.3" fill="#5034b0" fill-opacity="0.66"/><circle cx="205.31" cy="257.64" r="0.43" fill="#5034b0" fill-opacity="0.72"/><circle cx="265.99" cy="243.21" r="0.63" fill="#5034b0" fill-opacity="0.49"/><circle cx="271.95" cy="248.83" r="0.3" fill="#5034b0" fill-opacity="0.85"/><circle cx="228.39" cy="251.01" r="0.33" fill="#5034b0" fill-opacity="0.71"/><circle cx="215.39" cy="267.95" r="0.3" fill="#5034b0" fill-opacity="0.77"/><circle cx="213.6" cy="272.65" r="0.31" fill="#5034b0" fill-opacity="0.68"/><circle cx="214.11" cy="253.05" r="0.3" fill="#5034b0" fill-opacity="0.62"/><circle cx="243.47" cy="238.35" r="0.38" fill="#5034b0" fill-opacity="0.36"/><circle cx="273.61" cy="247.15" r="0.48" fill="#5034b0" fill-opacity="0.59"/><circle cx="248.84" cy="254.01" r="0.5" fill="#5034b0" fill-opacity="0.75"/><circle cx="271.47" cy="246.15" r="0.38" fill="#5034b0" fill-opacity="0.48"/><circle cx="216.19" cy="242.84" r="0.42" fill="#5034b0" fill-opacity="0.79"/><circle cx="202.14" cy="259.18" r="0.51" fill="#5034b0" fill-opacity="0.37"/><circle cx="236.61" cy="218.41" r="0.45" fill="#5034b0" fill-opacity="0.35"/><circle cx="256.06" cy="230.54" r="0.42" fill="#5034b0" fill-opacity="0.44"/><circle cx="241.46" cy="249.46" r="0.32" fill="#5034b0" fill-opacity="0.5"/><circle cx="242.26" cy="255.85" r="0.51" fill="#5034b0" fill-opacity="0.7"/><circle cx="249.93" cy="236.85" r="0.51" fill="#5034b0" fill-opacity="0.65"/><circle cx="266.41" cy="267.06" r="0.35" fill="#5034b0" fill-opacity="0.44"/><circle cx="251.68" cy="280.99" r="0.32" fill="#5034b0" fill-opacity="0.54"/><circle cx="215.99" cy="242.05" r="0.47" fill="#5034b0" fill-opacity="0.39"/><circle cx="211.61" cy="260.56" r="0.45" fill="#5034b0" fill-opacity="0.65"/><circle cx="233.63" cy="277.84" r="0.68" fill="#5034b0" fill-opacity="0.59"/><circle cx="216.28" cy="221.89" r="0.33" fill="#5034b0" fill-opacity="0.48"/><circle cx="257.14" cy="244.73" r="0.37" fill="#5034b0" fill-opacity="0.54"/><circle cx="264.49" cy="247.33" r="0.62" fill="#5034b0" fill-opacity="0.43"/><circle cx="232.05" cy="277.88" r="0.34" fill="#5034b0" fill-opacity="0.68"/><circle cx="226.87" cy="248" r="0.3" fill="#5034b0" fill-opacity="0.57"/><circle cx="222" cy="245.24" r="0.33" fill="#5034b0" fill-opacity="0.35"/><circle cx="235.14" cy="268.97" r="0.36" fill="#5034b0" fill-opacity="0.65"/><circle cx="256.05" cy="223.46" r="0.52" fill="#5034b0" fill-opacity="0.49"/><circle cx="205.67" cy="249.38" r="0.62" fill="#5034b0" fill-opacity="0.47"/><circle cx="245.51" cy="249.29" r="0.41" fill="#5034b0" fill-opacity="0.79"/><circle cx="255.89" cy="275.4" r="0.46" fill="#5034b0" fill-opacity="0.78"/><circle cx="247.05" cy="241.44" r="0.55" fill="#5034b0" fill-opacity="0.42"/><circle cx="254.36" cy="264.35" r="0.4" fill="#5034b0" fill-opacity="0.38"/><circle cx="234.71" cy="263.8" r="0.31" fill="#5034b0" fill-opacity="0.4"/><circle cx="254.27" cy="251.07" r="0.34" fill="#5034b0" fill-opacity="0.56"/><circle cx="227.3" cy="221.3" r="0.4" fill="#5034b0" fill-opacity="0.51"/><circle cx="224.99" cy="237.78" r="0.31" fill="#5034b0" fill-opacity="0.41"/><circle cx="230.49" cy="236.43" r="0.32" fill="#5034b0" fill-opacity="0.53"/><circle cx="209.8" cy="236.85" r="0.44" fill="#5034b0" fill-opacity="0.65"/><circle cx="249.67" cy="281.58" r="0.52" fill="#5034b0" fill-opacity="0.55"/><circle cx="214.82" cy="265.51" r="0.31" fill="#5034b0" fill-opacity="0.67"/><circle cx="255.49" cy="235.71" r="0.4" fill="#5034b0" fill-opacity="0.48"/><circle cx="256.34" cy="236.28" r="0.35" fill="#5034b0" fill-opacity="0.71"/><circle cx="212.71" cy="273.78" r="0.37" fill="#5034b0" fill-opacity="0.64"/><circle cx="227.59" cy="275.23" r="0.39" fill="#5034b0" fill-opacity="0.4"/><circle cx="248.56" cy="238.98" r="0.43" fill="#5034b0" fill-opacity="0.69"/><circle cx="216.43" cy="252.64" r="0.38" fill="#5034b0" fill-opacity="0.85"/><circle cx="271.91" cy="251.1" r="0.45" fill="#5034b0" fill-opacity="0.59"/><circle cx="218.03" cy="225.96" r="0.44" fill="#8a64c8" fill-opacity="0.45"/><circle cx="215.37" cy="246.42" r="0.33" fill="#8a64c8" fill-opacity="0.43"/><circle cx="227.45" cy="249.73" r="0.37" fill="#8a64c8" fill-opacity="0.27"/><circle cx="220.15" cy="273" r="0.38" fill="#8a64c8" fill-opacity="0.36"/><circle cx="251.03" cy="223.17" r="0.49" fill="#8a64c8" fill-opacity="0.41"/><circle cx="234.28" cy="281.08" r="0.33" fill="#8a64c8" fill-opacity="0.44"/><circle cx="219.68" cy="232.21" r="0.31" fill="#8a64c8" fill-opacity="0.42"/><circle cx="234.41" cy="252.2" r="0.43" fill="#8a64c8" fill-opacity="0.25"/><circle cx="243.4" cy="250.29" r="0.38" fill="#8a64c8" fill-opacity="0.36"/><circle cx="201.62" cy="252.2" r="0.34" fill="#8a64c8" fill-opacity="0.29"/><circle cx="249.48" cy="248.23" r="0.3" fill="#8a64c8" fill-opacity="0.29"/><circle cx="260.85" cy="244.99" r="0.33" fill="#8a64c8" fill-opacity="0.32"/><circle cx="215.12" cy="271.89" r="0.38" fill="#8a64c8" fill-opacity="0.31"/><circle cx="249.43" cy="279.61" r="0.36" fill="#8a64c8" fill-opacity="0.35"/><circle cx="248.32" cy="283.33" r="0.36" fill="#8a64c8" fill-opacity="0.43"/><circle cx="223.59" cy="222.24" r="0.3" fill="#8a64c8" fill-opacity="0.43"/><circle cx="243.45" cy="240.4" r="0.3" fill="#8a64c8" fill-opacity="0.39"/><circle cx="229.16" cy="234.37" r="0.5" fill="#8a64c8" fill-opacity="0.27"/><circle cx="213.88" cy="237.72" r="0.32" fill="#8a64c8" fill-opacity="0.38"/><circle cx="207" cy="260.26" r="0.42" fill="#8a64c8" fill-opacity="0.25"/><circle cx="224.64" cy="272.68" r="0.32" fill="#8a64c8" fill-opacity="0.37"/><circle cx="249" cy="250.68" r="0.35" fill="#8a64c8" fill-opacity="0.29"/><circle cx="243.45" cy="271.44" r="0.37" fill="#8a64c8" fill-opacity="0.38"/><circle cx="215.93" cy="233.34" r="0.34" fill="#8a64c8" fill-opacity="0.42"/><circle cx="260.14" cy="221.97" r="0.48" fill="#8a64c8" fill-opacity="0.38"/><circle cx="246.89" cy="277.94" r="0.32" fill="#8a64c8" fill-opacity="0.31"/><circle cx="231.77" cy="252.41" r="0.34" fill="#8a64c8" fill-opacity="0.29"/><circle cx="239.82" cy="272.66" r="0.41" fill="#8a64c8" fill-opacity="0.38"/><circle cx="224.72" cy="277.38" r="0.33" fill="#8a64c8" fill-opacity="0.32"/><circle cx="220.58" cy="259.25" r="0.3" fill="#8a64c8" fill-opacity="0.44"/><circle cx="212.52" cy="231.5" r="0.37" fill="#8a64c8" fill-opacity="0.35"/><circle cx="235" cy="246.17" r="0.3" fill="#8a64c8" fill-opacity="0.36"/><circle cx="233.21" cy="249.4" r="0.31" fill="#8a64c8" fill-opacity="0.31"/><circle cx="270.35" cy="241.68" r="0.3" fill="#8a64c8" fill-opacity="0.33"/><circle cx="229.14" cy="259.58" r="0.32" fill="#8a64c8" fill-opacity="0.45"/><circle cx="253.89" cy="238.94" r="0.42" fill="#8a64c8" fill-opacity="0.28"/><circle cx="229.86" cy="240.48" r="0.38" fill="#8a64c8" fill-opacity="0.37"/><circle cx="265.32" cy="247.42" r="0.47" fill="#8a64c8" fill-opacity="0.3"/><circle cx="225.22" cy="236.58" r="0.3" fill="#8a64c8" fill-opacity="0.45"/><circle cx="258.87" cy="252.22" r="0.32" fill="#8a64c8" fill-opacity="0.29"/><circle cx="257.12" cy="223.29" r="0.33" fill="#8a64c8" fill-opacity="0.36"/><circle cx="241.52" cy="240.62" r="0.39" fill="#8a64c8" fill-opacity="0.42"/><circle cx="216.11" cy="232" r="0.31" fill="#8a64c8" fill-opacity="0.28"/><circle cx="247.04" cy="268.31" r="0.32" fill="#8a64c8" fill-opacity="0.41"/><circle cx="244.24" cy="259.6" r="0.43" fill="#8a64c8" fill-opacity="0.34"/><circle cx="262.34" cy="270.51" r="0.3" fill="#8a64c8" fill-opacity="0.32"/><circle cx="215.13" cy="263.41" r="0.31" fill="#8a64c8" fill-opacity="0.44"/><circle cx="218.71" cy="238.2" r="0.38" fill="#8a64c8" fill-opacity="0.33"/><circle cx="210.65" cy="237.91" r="0.31" fill="#8a64c8" fill-opacity="0.42"/><circle cx="266.97" cy="268.29" r="0.34" fill="#8a64c8" fill-opacity="0.35"/><circle cx="257.9" cy="264.98" r="0.32" fill="#8a64c8" fill-opacity="0.37"/><circle cx="232.63" cy="237.7" r="0.3" fill="#8a64c8" fill-opacity="0.43"/><circle cx="245.62" cy="277.78" r="0.41" fill="#8a64c8" fill-opacity="0.41"/><circle cx="266.74" cy="249.53" r="0.44" fill="#8a64c8" fill-opacity="0.26"/><circle cx="271.96" cy="250.08" r="0.4" fill="#8a64c8" fill-opacity="0.39"/><circle cx="240.6" cy="219.78" r="0.31" fill="#8a64c8" fill-opacity="0.28"/><circle cx="267.11" cy="251.32" r="0.39" fill="#8a64c8" fill-opacity="0.45"/><circle cx="237.62" cy="262.6" r="0.33" fill="#8a64c8" fill-opacity="0.44"/><circle cx="240.05" cy="283.1" r="0.38" fill="#8a64c8" fill-opacity="0.4"/><circle cx="262.04" cy="270.51" r="0.33" fill="#8a64c8" fill-opacity="0.4"/><circle cx="256.41" cy="254.49" r="0.36" fill="#8a64c8" fill-opacity="0.3"/><circle cx="225.48" cy="245.61" r="0.31" fill="#8a64c8" fill-opacity="0.38"/><circle cx="219.83" cy="280.7" r="0.33" fill="#8a64c8" fill-opacity="0.31"/><circle cx="213.16" cy="265.68" r="0.32" fill="#8a64c8" fill-opacity="0.45"/><circle cx="245.95" cy="275.44" r="0.45" fill="#8a64c8" fill-opacity="0.3"/><circle cx="240.01" cy="274.81" r="0.44" fill="#8a64c8" fill-opacity="0.42"/><circle cx="256.58" cy="224" r="0.3" fill="#8a64c8" fill-opacity="0.43"/><circle cx="239.68" cy="252.26" r="0.35" fill="#8a64c8" fill-opacity="0.25"/><circle cx="252.85" cy="252.87" r="0.49" fill="#8a64c8" fill-opacity="0.31"/><circle cx="258.63" cy="219.68" r="0.31" fill="#8a64c8" fill-opacity="0.27"/><circle cx="243.42" cy="277.42" r="0.4" fill="#8a64c8" fill-opacity="0.31"/><circle cx="239.05" cy="238.8" r="0.3" fill="#8a64c8" fill-opacity="0.32"/><circle cx="218.8" cy="219.87" r="0.48" fill="#8a64c8" fill-opacity="0.43"/><circle cx="265.63" cy="243.07" r="0.34" fill="#8a64c8" fill-opacity="0.26"/><circle cx="205.06" cy="233.64" r="0.42" fill="#8a64c8" fill-opacity="0.34"/><circle cx="216.73" cy="223.28" r="0.5" fill="#8a64c8" fill-opacity="0.39"/><circle cx="206.65" cy="229.01" r="0.49" fill="#8a64c8" fill-opacity="0.25"/><circle cx="256.71" cy="244.05" r="0.3" fill="#8a64c8" fill-opacity="0.31"/><circle cx="238.63" cy="250" r="0.43" fill="#8a64c8" fill-opacity="0.32"/><circle cx="261.01" cy="269.05" r="0.31" fill="#8a64c8" fill-opacity="0.32"/><circle cx="219.68" cy="260.09" r="0.41" fill="#8a64c8" fill-opacity="0.29"/><circle cx="246.73" cy="225.33" r="0.34" fill="#8a64c8" fill-opacity="0.32"/><circle cx="253.04" cy="239.56" r="0.33" fill="#8a64c8" fill-opacity="0.3"/><circle cx="241.11" cy="252.28" r="0.39" fill="#8a64c8" fill-opacity="0.41"/><circle cx="227.13" cy="270.88" r="0.43" fill="#8a64c8" fill-opacity="0.26"/><circle cx="232.42" cy="279.87" r="0.31" fill="#8a64c8" fill-opacity="0.3"/><circle cx="218.21" cy="244.91" r="0.3" fill="#8a64c8" fill-opacity="0.26"/><circle cx="270.34" cy="245.09" r="0.31" fill="#8a64c8" fill-opacity="0.27"/><circle cx="210.29" cy="245.05" r="0.48" fill="#8a64c8" fill-opacity="0.33"/><circle cx="260.33" cy="273.48" r="0.3" fill="#8a64c8" fill-opacity="0.3"/><circle cx="243.74" cy="282.39" r="0.49" fill="#8a64c8" fill-opacity="0.33"/><circle cx="216.1" cy="225.73" r="0.34" fill="#8a64c8" fill-opacity="0.41"/><circle cx="224.58" cy="277.59" r="0.31" fill="#8a64c8" fill-opacity="0.28"/><circle cx="245.91" cy="261.45" r="0.49" fill="#8a64c8" fill-opacity="0.3"/><circle cx="234.78" cy="244.98" r="0.45" fill="#8a64c8" fill-opacity="0.4"/><circle cx="218.87" cy="216.61" r="0.3" fill="#8a64c8" fill-opacity="0.4"/><circle cx="263.36" cy="273.12" r="0.3" fill="#8a64c8" fill-opacity="0.31"/><circle cx="213.06" cy="240.55" r="0.43" fill="#8a64c8" fill-opacity="0.26"/><circle cx="240.91" cy="245.39" r="0.48" fill="#8a64c8" fill-opacity="0.41"/><circle cx="245.86" cy="249.43" r="0.3" fill="#8a64c8" fill-opacity="0.27"/><circle cx="245.8" cy="263.38" r="0.35" fill="#8a64c8" fill-opacity="0.35"/><circle cx="237.29" cy="285.23" r="0.37" fill="#8a64c8" fill-opacity="0.35"/><circle cx="251.28" cy="223.07" r="0.45" fill="#8a64c8" fill-opacity="0.42"/><circle cx="215.39" cy="275.38" r="0.38" fill="#8a64c8" fill-opacity="0.25"/><circle cx="222.06" cy="275.13" r="0.4" fill="#8a64c8" fill-opacity="0.39"/><circle cx="241.69" cy="217.28" r="0.46" fill="#8a64c8" fill-opacity="0.3"/><circle cx="266.22" cy="229.14" r="0.43" fill="#8a64c8" fill-opacity="0.3"/><circle cx="209.74" cy="227.93" r="0.44" fill="#8a64c8" fill-opacity="0.29"/><circle cx="263.71" cy="255.49" r="0.3" fill="#8a64c8" fill-opacity="0.35"/><circle cx="246.74" cy="257.41" r="0.45" fill="#8a64c8" fill-opacity="0.37"/><circle cx="262.22" cy="258.87" r="0.32" fill="#8a64c8" fill-opacity="0.34"/><circle cx="238.24" cy="213.51" r="0.3" fill="#8a64c8" fill-opacity="0.25"/><circle cx="249.19" cy="241.73" r="0.44" fill="#8a64c8" fill-opacity="0.38"/><circle cx="211.6" cy="233.95" r="0.33" fill="#8a64c8" fill-opacity="0.42"/><circle cx="256.15" cy="243.54" r="0.31" fill="#8a64c8" fill-opacity="0.34"/><circle cx="218.17" cy="268.33" r="0.48" fill="#8a64c8" fill-opacity="0.31"/><circle cx="254.85" cy="240.43" r="0.33" fill="#8a64c8" fill-opacity="0.4"/><circle cx="221.9" cy="216.82" r="0.38" fill="#8a64c8" fill-opacity="0.31"/><circle cx="243.62" cy="231.11" r="0.3" fill="#8a64c8" fill-opacity="0.32"/><circle cx="241.42" cy="247.64" r="0.45" fill="#8a64c8" fill-opacity="0.39"/><circle cx="222.2" cy="223.73" r="0.31" fill="#8a64c8" fill-opacity="0.35"/><circle cx="271" cy="248.06" r="0.34" fill="#8a64c8" fill-opacity="0.34"/><circle cx="217.38" cy="258.78" r="0.33" fill="#8a64c8" fill-opacity="0.29"/><circle cx="242.52" cy="245.62" r="0.3" fill="#8a64c8" fill-opacity="0.37"/><circle cx="254.92" cy="223.53" r="0.3" fill="#8a64c8" fill-opacity="0.35"/><circle cx="271.54" cy="245.19" r="0.31" fill="#8a64c8" fill-opacity="0.45"/><circle cx="251.68" cy="248.17" r="0.45" fill="#8a64c8" fill-opacity="0.29"/><circle cx="259.87" cy="254.99" r="0.49" fill="#8a64c8" fill-opacity="0.39"/><circle cx="251.37" cy="279.52" r="0.32" fill="#8a64c8" fill-opacity="0.41"/><circle cx="208.32" cy="240.51" r="0.35" fill="#8a64c8" fill-opacity="0.38"/><circle cx="208.58" cy="227.4" r="0.35" fill="#8a64c8" fill-opacity="0.42"/><circle cx="226.21" cy="247.57" r="0.38" fill="#8a64c8" fill-opacity="0.42"/><circle cx="215.64" cy="259.28" r="0.38" fill="#8a64c8" fill-opacity="0.3"/><circle cx="241.56" cy="274.32" r="0.3" fill="#8a64c8" fill-opacity="0.34"/><circle cx="213.34" cy="257.2" r="0.34" fill="#8a64c8" fill-opacity="0.36"/><circle cx="243.2" cy="214.33" r="0.34" fill="#8a64c8" fill-opacity="0.39"/><circle cx="233.62" cy="264.78" r="0.35" fill="#8a64c8" fill-opacity="0.31"/><circle cx="226.23" cy="276.43" r="0.36" fill="#8a64c8" fill-opacity="0.28"/><circle cx="205.78" cy="229.19" r="0.31" fill="#8a64c8" fill-opacity="0.39"/><circle cx="221.48" cy="275.5" r="0.47" fill="#8a64c8" fill-opacity="0.45"/><circle cx="248.56" cy="232.49" r="0.44" fill="#8a64c8" fill-opacity="0.27"/><circle cx="249.17" cy="220.72" r="0.49" fill="#8a64c8" fill-opacity="0.33"/><circle cx="257.14" cy="232.34" r="0.3" fill="#8a64c8" fill-opacity="0.44"/><circle cx="253.34" cy="273.41" r="0.39" fill="#8a64c8" fill-opacity="0.38"/><circle cx="216.64" cy="218.93" r="0.39" fill="#8a64c8" fill-opacity="0.26"/><circle cx="204.2" cy="234.11" r="0.43" fill="#8a64c8" fill-opacity="0.34"/><circle cx="206" cy="241" r="0.42" fill="#8a64c8" fill-opacity="0.26"/><circle cx="232.74" cy="271.25" r="0.3" fill="#8a64c8" fill-opacity="0.38"/><circle cx="222.48" cy="235.79" r="0.37" fill="#8a64c8" fill-opacity="0.44"/><circle cx="221.39" cy="252.21" r="0.34" fill="#8a64c8" fill-opacity="0.39"/><circle cx="251.43" cy="274.8" r="0.38" fill="#8a64c8" fill-opacity="0.25"/><circle cx="231.33" cy="248.52" r="0.36" fill="#8a64c8" fill-opacity="0.3"/><circle cx="254.92" cy="264.65" r="0.38" fill="#8a64c8" fill-opacity="0.26"/><circle cx="241.89" cy="225.81" r="0.36" fill="#8a64c8" fill-opacity="0.36"/><circle cx="225.24" cy="249.25" r="0.3" fill="#8a64c8" fill-opacity="0.31"/><circle cx="266.36" cy="247.74" r="0.3" fill="#8a64c8" fill-opacity="0.37"/><circle cx="219.48" cy="246.73" r="0.39" fill="#8a64c8" fill-opacity="0.43"/><circle cx="264.07" cy="244.54" r="0.45" fill="#8a64c8" fill-opacity="0.43"/><circle cx="229.09" cy="273.35" r="0.31" fill="#8a64c8" fill-opacity="0.41"/><circle cx="263.5" cy="231.66" r="0.32" fill="#8a64c8" fill-opacity="0.4"/><circle cx="224.74" cy="258.25" r="0.34" fill="#8a64c8" fill-opacity="0.3"/><circle cx="242.02" cy="246.96" r="0.44" fill="#8a64c8" fill-opacity="0.33"/><circle cx="270.83" cy="252.81" r="0.33" fill="#8a64c8" fill-opacity="0.28"/><circle cx="223.31" cy="227.08" r="0.34" fill="#8a64c8" fill-opacity="0.32"/><circle cx="254.04" cy="279" r="0.3" fill="#8a64c8" fill-opacity="0.26"/><circle cx="207.03" cy="254.58" r="0.33" fill="#8a64c8" fill-opacity="0.44"/><circle cx="255.25" cy="227.31" r="0.46" fill="#8a64c8" fill-opacity="0.44"/><circle cx="244.06" cy="265.8" r="0.48" fill="#8a64c8" fill-opacity="0.32"/><circle cx="267.61" cy="237.73" r="0.39" fill="#8a64c8" fill-opacity="0.38"/><circle cx="227.22" cy="216" r="0.38" fill="#8a64c8" fill-opacity="0.27"/><circle cx="249.76" cy="253.53" r="0.42" fill="#8a64c8" fill-opacity="0.28"/><circle cx="257.5" cy="249.96" r="0.31" fill="#8a64c8" fill-opacity="0.41"/><circle cx="237.41" cy="246.99" r="0.33" fill="#8a64c8" fill-opacity="0.37"/><circle cx="225.26" cy="282.64" r="0.44" fill="#8a64c8" fill-opacity="0.26"/><circle cx="225.83" cy="282.37" r="0.49" fill="#8a64c8" fill-opacity="0.28"/><circle cx="244.1" cy="279.31" r="0.33" fill="#8a64c8" fill-opacity="0.29"/><circle cx="223.89" cy="221.2" r="0.3" fill="#8a64c8" fill-opacity="0.34"/><circle cx="217.61" cy="242.62" r="0.31" fill="#8a64c8" fill-opacity="0.43"/><circle cx="245.65" cy="252.37" r="0.34" fill="#8a64c8" fill-opacity="0.26"/><circle cx="249.82" cy="267.77" r="0.35" fill="#8a64c8" fill-opacity="0.43"/><circle cx="239.65" cy="265.23" r="0.36" fill="#8a64c8" fill-opacity="0.34"/><circle cx="246.09" cy="254.86" r="0.39" fill="#8a64c8" fill-opacity="0.39"/><circle cx="241.08" cy="263.71" r="0.3" fill="#8a64c8" fill-opacity="0.33"/><circle cx="260.91" cy="227.73" r="0.44" fill="#8a64c8" fill-opacity="0.4"/><circle cx="233.25" cy="249.8" r="0.3" fill="#8a64c8" fill-opacity="0.26"/><circle cx="259.01" cy="239" r="0.43" fill="#8a64c8" fill-opacity="0.31"/><circle cx="255.08" cy="271.49" r="0.31" fill="#8a64c8" fill-opacity="0.42"/><circle cx="214.63" cy="247.31" r="0.32" fill="#8a64c8" fill-opacity="0.39"/><circle cx="228.61" cy="266.66" r="0.45" fill="#8a64c8" fill-opacity="0.37"/><circle cx="264.15" cy="267.14" r="0.34" fill="#8a64c8" fill-opacity="0.3"/><circle cx="239.04" cy="281.17" r="0.31" fill="#8a64c8" fill-opacity="0.38"/><circle cx="248.03" cy="268.91" r="0.37" fill="#8a64c8" fill-opacity="0.29"/><circle cx="260.9" cy="252.8" r="0.38" fill="#8a64c8" fill-opacity="0.26"/><circle cx="217.42" cy="255.38" r="0.4" fill="#8a64c8" fill-opacity="0.26"/><circle cx="242.84" cy="253.21" r="0.43" fill="#8a64c8" fill-opacity="0.38"/><circle cx="240.57" cy="218.93" r="0.49" fill="#8a64c8" fill-opacity="0.31"/><circle cx="267.11" cy="249.05" r="0.31" fill="#8a64c8" fill-opacity="0.28"/><circle cx="262.81" cy="264.96" r="0.44" fill="#8a64c8" fill-opacity="0.28"/><circle cx="219" cy="279.09" r="0.41" fill="#8a64c8" fill-opacity="0.45"/><circle cx="237.71" cy="278.32" r="0.3" fill="#8a64c8" fill-opacity="0.33"/><rect x="196.5" y="208.5" width="81" height="80.5" fill="none" stroke="#3a3a3a" stroke-width="1.1"/><svg x="196.5" y="293" width="81" height="60.5" overflow="hidden"><rect x="0" y="0" width="81" height="60.5" fill="#e9e9e8"/><rect x="0" y="0" width="81" height="60.5" fill="url(#vd)"/><g filter="url(#rough)"><circle cx="2.4" cy="8" r="2.5" fill="url(#cg)" fill-opacity="0.9" filter="url(#b1)"/><circle cx="54.5" cy="12.5" r="6" fill="#3a2466" fill-opacity="1" filter="url(#b1)"/><circle cx="58.5" cy="20.3" r="2" fill="url(#cg)" fill-opacity="0.7" filter="url(#b1)"/><circle cx="78.2" cy="18.2" r="2.5" fill="#4a2a40" fill-opacity="0.9" filter="url(#b1)"/><circle cx="74.5" cy="2.7" r="1.5" fill="#9080b0" fill-opacity="0.5" filter="url(#b1)"/><circle cx="39.5" cy="27.5" r="2.8" fill="url(#cg)" fill-opacity="0.95" filter="url(#b1)"/><ellipse cx="59.1" cy="39.6" rx="2" ry="5" fill="#9090c0" fill-opacity="0.4" filter="url(#b2)"/><ellipse cx="19" cy="53.5" rx="1.5" ry="2.3" fill="url(#cg)" fill-opacity="0.9" filter="url(#b1)"/><ellipse cx="39.5" cy="54.2" rx="1.8" ry="2.4" fill="url(#cg)" fill-opacity="0.95" filter="url(#b1)"/><circle cx="27.4" cy="49.4" r="1.5" fill="#9080c0" fill-opacity="0.5" filter="url(#b1)"/></g></svg><rect x="255.1" y="348.1" width="18.8" height="0.9" fill="#333"/><rect x="260.8" y="346.5" width="7.2" height="1.4" fill="#444" fill-opacity="0.6"/><rect x="196.5" y="293" width="81" height="60.5" fill="none" stroke="#3a3a3a" stroke-width="1.1"/><text x="152" y="366.1" font-size="10.2" text-anchor="middle" font-weight="normal" fill="#111" >Kras MEFs</text><text x="-0.3" y="380.2" font-size="15" text-anchor="start" font-weight="bold" fill="#000" >g</text><text x="67" y="394.2" font-size="10.2" text-anchor="middle" font-weight="normal" fill="#111" >Ctrl</text><text x="152" y="394.2" font-size="10.2" text-anchor="middle" font-weight="normal" fill="#111" >WT</text><text x="237" y="394.2" font-size="10.2" text-anchor="middle" font-weight="normal" fill="#111" >21S</text><rect x="26.5" y="397.5" width="81" height="80.5" fill="#fff"/><circle cx="67.2" cy="437.5" r="38.5" fill="#d2ade8"/><circle cx="67.2" cy="437.5" r="38.2" fill="#000" filter="url(#tex1)"/><circle cx="67.2" cy="437.5" r="38.5" fill="url(#gtl)"/><circle cx="60.77" cy="450.35" r="0.38" fill="#5034b0" fill-opacity="0.21"/><circle cx="45.39" cy="432.5" r="0.3" fill="#5034b0" fill-opacity="0.3"/><circle cx="90.89" cy="443.19" r="0.3" fill="#5034b0" fill-opacity="0.22"/><circle cx="37.27" cy="452.86" r="0.3" fill="#5034b0" fill-opacity="0.24"/><circle cx="42.12" cy="411.64" r="0.37" fill="#5034b0" fill-opacity="0.28"/><circle cx="75.1" cy="436.31" r="0.45" fill="#5034b0" fill-opacity="0.26"/><circle cx="75.03" cy="447.5" r="0.32" fill="#5034b0" fill-opacity="0.36"/><circle cx="79.1" cy="463.09" r="0.38" fill="#5034b0" fill-opacity="0.27"/><circle cx="58.34" cy="434.76" r="0.3" fill="#5034b0" fill-opacity="0.24"/><circle cx="56.95" cy="415.58" r="0.32" fill="#5034b0" fill-opacity="0.32"/><circle cx="47.81" cy="443.37" r="0.43" fill="#5034b0" fill-opacity="0.34"/><circle cx="68.24" cy="465.52" r="0.36" fill="#5034b0" fill-opacity="0.38"/><rect x="26.5" y="397.5" width="81" height="80.5" fill="none" stroke="#3a3a3a" stroke-width="1.1"/><svg x="26.5" y="482" width="81" height="60.5" overflow="hidden"><rect x="0" y="0" width="81" height="60.5" fill="#efefed"/><g filter="url(#rough)"><circle cx="28.6" cy="12" r="1.8" fill="#b080b0" fill-opacity="0.6" filter="url(#b1)"/><circle cx="55.9" cy="39.6" r="2" fill="#a070b8" fill-opacity="0.8" filter="url(#b1)"/><circle cx="31.8" cy="45.5" r="1" fill="#c0a0c0" fill-opacity="0.5" filter="url(#b1)"/></g></svg><rect x="85.1" y="537.1" width="18.8" height="0.9" fill="#333"/><rect x="90.8" y="535.5" width="7.2" height="1.4" fill="#444" fill-opacity="0.6"/><rect x="26.5" y="482" width="81" height="60.5" fill="none" stroke="#3a3a3a" stroke-width="1.1"/><rect x="111.5" y="397.5" width="81" height="80.5" fill="#fff"/><circle cx="152.2" cy="437.5" r="38.5" fill="#cda7e3"/><circle cx="152.2" cy="437.5" r="38.2" fill="#000" filter="url(#tex2)"/><circle cx="144.46" cy="430.77" r="0.65" fill="#5834b8" fill-opacity="0.54"/><circle cx="144.91" cy="431.48" r="0.6" fill="#5834b8" fill-opacity="0.73"/><circle cx="135.99" cy="438.01" r="0.76" fill="#5834b8" fill-opacity="0.54"/><circle cx="145.15" cy="432.09" r="0.45" fill="#5834b8" fill-opacity="0.95"/><circle cx="166.41" cy="449.82" r="0.94" fill="#5834b8" fill-opacity="0.53"/><circle cx="130.64" cy="458.47" r="0.42" fill="#5834b8" fill-opacity="0.85"/><circle cx="131.5" cy="409.12" r="0.55" fill="#5834b8" fill-opacity="0.57"/><circle cx="145.93" cy="429.19" r="0.37" fill="#5834b8" fill-opacity="0.97"/><circle cx="147.62" cy="403.08" r="0.4" fill="#5834b8" fill-opacity="0.68"/><circle cx="173.6" cy="461.76" r="0.36" fill="#5834b8" fill-opacity="0.85"/><circle cx="184.52" cy="427" r="0.5" fill="#5834b8" fill-opacity="0.6"/><circle cx="140.26" cy="430.21" r="0.35" fill="#5834b8" fill-opacity="0.95"/><circle cx="146.97" cy="420.95" r="0.39" fill="#5834b8" fill-opacity="0.51"/><circle cx="149.66" cy="461.44" r="0.44" fill="#5834b8" fill-opacity="0.92"/><circle cx="162.74" cy="458.27" r="0.37" fill="#5834b8" fill-opacity="0.83"/><circle cx="161.86" cy="468.42" r="0.4" fill="#5834b8" fill-opacity="0.51"/><circle cx="143.88" cy="450.29" r="0.46" fill="#5834b8" fill-opacity="0.62"/><circle cx="129.64" cy="445.45" r="0.56" fill="#5834b8" fill-opacity="0.64"/><circle cx="144.22" cy="432.95" r="0.51" fill="#5834b8" fill-opacity="0.68"/><circle cx="121.08" cy="436.54" r="0.93" fill="#5834b8" fill-opacity="0.53"/><circle cx="144.77" cy="436.08" r="0.55" fill="#5834b8" fill-opacity="0.87"/><circle cx="154.16" cy="437.06" r="0.77" fill="#5834b8" fill-opacity="0.61"/><circle cx="187.77" cy="445.01" r="0.7" fill="#5834b8" fill-opacity="1"/><circle cx="168.17" cy="470.25" r="0.47" fill="#5834b8" fill-opacity="0.54"/><circle cx="126.75" cy="437.95" r="0.36" fill="#5834b8" fill-opacity="0.56"/><circle cx="139.62" cy="441.35" r="0.47" fill="#5834b8" fill-opacity="0.86"/><circle cx="129.36" cy="441.66" r="0.43" fill="#5834b8" fill-opacity="0.61"/><circle cx="142.07" cy="432.45" r="0.67" fill="#5834b8" fill-opacity="0.85"/><circle cx="174.3" cy="440.66" r="0.46" fill="#5834b8" fill-opacity="0.55"/><circle cx="153.13" cy="411.29" r="0.65" fill="#5834b8" fill-opacity="0.6"/><circle cx="139.13" cy="429.91" r="0.6" fill="#5834b8" fill-opacity="0.5"/><circle cx="179.01" cy="420.21" r="0.87" fill="#5834b8" fill-opacity="0.99"/><circle cx="142.29" cy="438.74" r="0.92" fill="#5834b8" fill-opacity="0.68"/><circle cx="167.89" cy="416.04" r="0.58" fill="#5834b8" fill-opacity="0.98"/><circle cx="142.54" cy="470.13" r="0.37" fill="#5834b8" fill-opacity="0.68"/><circle cx="164.04" cy="420.56" r="0.4" fill="#5834b8" fill-opacity="0.81"/><circle cx="137.85" cy="404.71" r="0.67" fill="#5834b8" fill-opacity="0.91"/><circle cx="136.53" cy="455.93" r="0.49" fill="#5834b8" fill-opacity="0.76"/><circle cx="151.05" cy="447.12" r="0.67" fill="#5834b8" fill-opacity="0.64"/><circle cx="177.19" cy="460.11" r="0.4" fill="#5834b8" fill-opacity="0.65"/><circle cx="132.72" cy="436.98" r="0.82" fill="#5834b8" fill-opacity="0.71"/><circle cx="184.32" cy="430.42" r="0.69" fill="#5834b8" fill-opacity="0.62"/><circle cx="124.52" cy="418.28" r="0.43" fill="#5834b8" fill-opacity="0.89"/><circle cx="129.38" cy="456.88" r="0.72" fill="#5834b8" fill-opacity="1"/><circle cx="155.29" cy="424.17" r="0.57" fill="#5834b8" fill-opacity="0.84"/><circle cx="138.3" cy="434.31" r="0.84" fill="#5834b8" fill-opacity="0.96"/><circle cx="139.29" cy="424.02" r="0.61" fill="#5834b8" fill-opacity="0.66"/><circle cx="147.53" cy="425.76" r="0.61" fill="#5834b8" fill-opacity="0.68"/><circle cx="164.67" cy="408.58" r="0.57" fill="#5834b8" fill-opacity="0.66"/><circle cx="138.98" cy="454.01" r="0.51" fill="#5834b8" fill-opacity="0.56"/><circle cx="143.66" cy="449.57" r="0.39" fill="#5834b8" fill-opacity="0.69"/><circle cx="154.55" cy="426.05" r="0.38" fill="#5834b8" fill-opacity="0.65"/><circle cx="143.2" cy="428.62" r="0.35" fill="#5834b8" fill-opacity="0.78"/><circle cx="164.78" cy="412.85" r="0.41" fill="#5834b8" fill-opacity="0.94"/><circle cx="124.69" cy="441.17" r="0.88" fill="#5834b8" fill-opacity="1"/><circle cx="166.42" cy="453.16" r="0.45" fill="#5834b8" fill-opacity="0.58"/><circle cx="184.54" cy="450.5" r="0.56" fill="#5834b8" fill-opacity="0.81"/><circle cx="178.13" cy="426.57" r="0.83" fill="#5834b8" fill-opacity="0.96"/><circle cx="177.95" cy="434.8" r="0.43" fill="#5834b8" fill-opacity="0.92"/><circle cx="141.18" cy="465.95" r="0.49" fill="#5834b8" fill-opacity="0.56"/><circle cx="115.73" cy="437.51" r="0.52" fill="#5834b8" fill-opacity="0.97"/><circle cx="157.65" cy="463.79" r="0.7" fill="#5834b8" fill-opacity="0.91"/><circle cx="168.7" cy="453.85" r="0.35" fill="#5834b8" fill-opacity="0.69"/><circle cx="134.49" cy="462.86" r="0.58" fill="#5834b8" fill-opacity="0.57"/><circle cx="166.15" cy="445.13" r="0.55" fill="#5834b8" fill-opacity="0.56"/><circle cx="125.98" cy="450.75" r="0.91" fill="#5834b8" fill-opacity="0.55"/><circle cx="180.01" cy="444.57" r="0.61" fill="#5834b8" fill-opacity="0.99"/><circle cx="180.38" cy="427.7" r="0.49" fill="#5834b8" fill-opacity="0.58"/><circle cx="141.67" cy="435.65" r="0.43" fill="#5834b8" fill-opacity="0.9"/><circle cx="147.18" cy="432.24" r="0.36" fill="#5834b8" fill-opacity="0.85"/><circle cx="149.63" cy="443.65" r="0.38" fill="#5834b8" fill-opacity="0.68"/><circle cx="133.37" cy="429.84" r="0.6" fill="#5834b8" fill-opacity="0.89"/><circle cx="150.68" cy="409.26" r="0.39" fill="#5834b8" fill-opacity="0.92"/><circle cx="167.98" cy="418.44" r="0.59" fill="#5834b8" fill-opacity="0.75"/><circle cx="136.97" cy="461.16" r="0.68" fill="#5834b8" fill-opacity="0.68"/><circle cx="127.78" cy="444.36" r="0.44" fill="#5834b8" fill-opacity="0.77"/><circle cx="158.72" cy="450.05" r="0.76" fill="#5834b8" fill-opacity="0.54"/><circle cx="153.19" cy="420.27" r="0.59" fill="#5834b8" fill-opacity="0.63"/><circle cx="156.29" cy="449.4" r="0.35" fill="#5834b8" fill-opacity="0.86"/><circle cx="140.5" cy="446.65" r="0.68" fill="#5834b8" fill-opacity="0.87"/><circle cx="149.73" cy="434.49" r="0.75" fill="#5834b8" fill-opacity="0.66"/><circle cx="121.85" cy="455.57" r="0.35" fill="#5834b8" fill-opacity="0.99"/><circle cx="140.34" cy="431.03" r="0.93" fill="#5834b8" fill-opacity="0.86"/><circle cx="172.22" cy="424.04" r="0.36" fill="#5834b8" fill-opacity="0.57"/><circle cx="180.97" cy="428.4" r="0.42" fill="#5834b8" fill-opacity="0.8"/><circle cx="151.62" cy="468.32" r="0.37" fill="#5834b8" fill-opacity="0.51"/><circle cx="139.35" cy="432.18" r="0.38" fill="#5834b8" fill-opacity="0.7"/><circle cx="150" cy="464.15" r="0.57" fill="#5834b8" fill-opacity="0.7"/><circle cx="141.83" cy="422.77" r="0.37" fill="#5834b8" fill-opacity="0.9"/><circle cx="174.04" cy="413.19" r="0.5" fill="#5834b8" fill-opacity="0.86"/><circle cx="146.15" cy="428.77" r="0.42" fill="#5834b8" fill-opacity="0.75"/><circle cx="137.95" cy="405.23" r="0.8" fill="#5834b8" fill-opacity="0.99"/><circle cx="133.38" cy="420.53" r="0.38" fill="#5834b8" fill-opacity="0.9"/><circle cx="161.75" cy="452.91" r="0.38" fill="#5834b8" fill-opacity="0.86"/><circle cx="161.5" cy="466.74" r="0.54" fill="#5834b8" fill-opacity="0.63"/><circle cx="166.08" cy="436.86" r="0.38" fill="#5834b8" fill-opacity="0.8"/><circle cx="172.8" cy="426.46" r="0.7" fill="#5834b8" fill-opacity="0.56"/><circle cx="170.98" cy="413.88" r="0.47" fill="#5834b8" fill-opacity="0.8"/><circle cx="118.98" cy="427.18" r="0.92" fill="#5834b8" fill-opacity="0.6"/><circle cx="179.31" cy="427.68" r="0.5" fill="#5834b8" fill-opacity="0.69"/><circle cx="124.15" cy="440.32" r="0.41" fill="#8a64c8" fill-opacity="0.23"/><circle cx="171.64" cy="437.35" r="0.39" fill="#8a64c8" fill-opacity="0.25"/><circle cx="145.34" cy="430.07" r="0.33" fill="#8a64c8" fill-opacity="0.3"/><circle cx="142.25" cy="461.33" r="0.31" fill="#8a64c8" fill-opacity="0.32"/><circle cx="160.49" cy="409.36" r="0.58" fill="#8a64c8" fill-opacity="0.44"/><circle cx="127.14" cy="441.07" r="0.47" fill="#8a64c8" fill-opacity="0.42"/><circle cx="122.97" cy="429.8" r="0.44" fill="#8a64c8" fill-opacity="0.33"/><circle cx="128.8" cy="436.29" r="0.36" fill="#8a64c8" fill-opacity="0.32"/><circle cx="157.02" cy="423.52" r="0.3" fill="#8a64c8" fill-opacity="0.43"/><circle cx="121.38" cy="435.5" r="0.55" fill="#8a64c8" fill-opacity="0.38"/><circle cx="119.2" cy="422.85" r="0.42" fill="#8a64c8" fill-opacity="0.31"/><circle cx="158.26" cy="450.97" r="0.49" fill="#8a64c8" fill-opacity="0.42"/><circle cx="135.43" cy="458.55" r="0.44" fill="#8a64c8" fill-opacity="0.35"/><circle cx="146.6" cy="472.38" r="0.39" fill="#8a64c8" fill-opacity="0.38"/><circle cx="142.95" cy="414.82" r="0.45" fill="#8a64c8" fill-opacity="0.25"/><circle cx="123.68" cy="428.65" r="0.42" fill="#8a64c8" fill-opacity="0.27"/><circle cx="157.12" cy="448.2" r="0.3" fill="#8a64c8" fill-opacity="0.25"/><circle cx="124.42" cy="440.06" r="0.45" fill="#8a64c8" fill-opacity="0.31"/><circle cx="152.91" cy="431.17" r="0.34" fill="#8a64c8" fill-opacity="0.23"/><circle cx="124.35" cy="434.61" r="0.4" fill="#8a64c8" fill-opacity="0.31"/><circle cx="137.86" cy="453.13" r="0.3" fill="#8a64c8" fill-opacity="0.25"/><circle cx="124.42" cy="439.86" r="0.3" fill="#8a64c8" fill-opacity="0.41"/><circle cx="165.14" cy="439.78" r="0.36" fill="#8a64c8" fill-opacity="0.28"/><circle cx="121.71" cy="433.63" r="0.41" fill="#8a64c8" fill-opacity="0.4"/><circle cx="122.31" cy="443.18" r="0.35" fill="#8a64c8" fill-opacity="0.23"/><circle cx="166.3" cy="444.59" r="0.36" fill="#8a64c8" fill-opacity="0.27"/><circle cx="124.15" cy="426.26" r="0.55" fill="#8a64c8" fill-opacity="0.24"/><circle cx="153.44" cy="437.16" r="0.54" fill="#8a64c8" fill-opacity="0.45"/><circle cx="130.32" cy="462.28" r="0.38" fill="#8a64c8" fill-opacity="0.34"/><circle cx="174.62" cy="409.46" r="0.33" fill="#8a64c8" fill-opacity="0.25"/><circle cx="176.82" cy="423.21" r="0.54" fill="#8a64c8" fill-opacity="0.26"/><circle cx="160.82" cy="425.5" r="0.31" fill="#8a64c8" fill-opacity="0.27"/><circle cx="172.88" cy="427.38" r="0.36" fill="#8a64c8" fill-opacity="0.27"/><circle cx="174.13" cy="448.63" r="0.37" fill="#8a64c8" fill-opacity="0.28"/><circle cx="149.72" cy="417.06" r="0.59" fill="#8a64c8" fill-opacity="0.43"/><circle cx="141.82" cy="431.89" r="0.39" fill="#8a64c8" fill-opacity="0.36"/><circle cx="138.02" cy="417.97" r="0.46" fill="#8a64c8" fill-opacity="0.45"/><circle cx="149.99" cy="430.34" r="0.42" fill="#8a64c8" fill-opacity="0.36"/><circle cx="117.8" cy="427.43" r="0.3" fill="#8a64c8" fill-opacity="0.2"/><circle cx="150.17" cy="425.95" r="0.31" fill="#8a64c8" fill-opacity="0.4"/><circle cx="129.77" cy="464.08" r="0.49" fill="#8a64c8" fill-opacity="0.37"/><circle cx="145.48" cy="445.74" r="0.59" fill="#8a64c8" fill-opacity="0.42"/><circle cx="175.12" cy="424.4" r="0.32" fill="#8a64c8" fill-opacity="0.36"/><circle cx="138.04" cy="445.38" r="0.3" fill="#8a64c8" fill-opacity="0.3"/><circle cx="163.62" cy="452.87" r="0.59" fill="#8a64c8" fill-opacity="0.43"/><circle cx="172.13" cy="420.06" r="0.47" fill="#8a64c8" fill-opacity="0.24"/><circle cx="125.68" cy="412.39" r="0.49" fill="#8a64c8" fill-opacity="0.45"/><circle cx="138.04" cy="422.82" r="0.3" fill="#8a64c8" fill-opacity="0.27"/><circle cx="164.99" cy="413.86" r="0.42" fill="#8a64c8" fill-opacity="0.4"/><circle cx="148.29" cy="450.82" r="0.54" fill="#8a64c8" fill-opacity="0.35"/><circle cx="182.64" cy="442.74" r="0.46" fill="#8a64c8" fill-opacity="0.39"/><circle cx="165.33" cy="451.7" r="0.46" fill="#8a64c8" fill-opacity="0.37"/><circle cx="131.48" cy="467.45" r="0.33" fill="#8a64c8" fill-opacity="0.42"/><circle cx="168.68" cy="456.33" r="0.6" fill="#8a64c8" fill-opacity="0.37"/><circle cx="153.73" cy="402.75" r="0.42" fill="#8a64c8" fill-opacity="0.34"/><circle cx="164.43" cy="413.46" r="0.58" fill="#8a64c8" fill-opacity="0.39"/><circle cx="172.04" cy="437.65" r="0.53" fill="#8a64c8" fill-opacity="0.23"/><circle cx="180.29" cy="440.18" r="0.44" fill="#8a64c8" fill-opacity="0.45"/><circle cx="180.69" cy="430.7" r="0.45" fill="#8a64c8" fill-opacity="0.33"/><circle cx="170.24" cy="412.56" r="0.3" fill="#8a64c8" fill-opacity="0.36"/><rect x="111.5" y="397.5" width="81" height="80.5" fill="none" stroke="#3a3a3a" stroke-width="1.1"/><svg x="111.5" y="482" width="81" height="60.5" overflow="hidden"><rect x="0" y="0" width="81" height="60.5" fill="#efefed"/><g filter="url(#rough)"><circle cx="26.5" cy="-2.5" r="6" fill="url(#gg)" fill-opacity="0.95" filter="url(#b1)"/><circle cx="6" cy="9.3" r="5.5" fill="url(#gg)" fill-opacity="0.95" filter="url(#b1)"/><circle cx="15.8" cy="19.1" r="6.3" fill="url(#gg)" fill-opacity="0.97" filter="url(#b1)"/><circle cx="27.4" cy="26.2" r="5.8" fill="url(#gg)" fill-opacity="0.97" filter="url(#b1)"/><circle cx="73.2" cy="17.7" r="5.8" fill="url(#gg)" fill-opacity="0.95" filter="url(#b1)"/><circle cx="64.4" cy="26.8" r="6.2" fill="url(#gg)" fill-opacity="0.97" filter="url(#b1)"/><circle cx="21.1" cy="41.7" r="4.3" fill="url(#gg)" fill-opacity="0.95" filter="url(#b1)"/><circle cx="50" cy="46.4" r="6.5" fill="url(#gg)" fill-opacity="0.97" filter="url(#b1)"/><circle cx="75.5" cy="43.2" r="1.2" fill="#b090b0" fill-opacity="0.5" filter="url(#b1)"/></g></svg><rect x="170.1" y="537.1" width="18.8" height="0.9" fill="#333"/><rect x="175.8" y="535.5" width="7.2" height="1.4" fill="#444" fill-opacity="0.6"/><rect x="111.5" y="482" width="81" height="60.5" fill="none" stroke="#3a3a3a" stroke-width="1.1"/><rect x="196.5" y="397.5" width="81" height="80.5" fill="#fff"/><circle cx="237.2" cy="437.5" r="38.5" fill="#d0aae6"/><circle cx="237.2" cy="437.5" r="38.2" fill="#000" filter="url(#tex0)"/><circle cx="215.2" cy="442.71" r="0.31" fill="#5034b0" fill-opacity="0.65"/><circle cx="263.41" cy="438.56" r="0.54" fill="#5034b0" fill-opacity="0.33"/><circle cx="209.82" cy="427.78" r="0.3" fill="#5034b0" fill-opacity="0.45"/><circle cx="230.03" cy="413.68" r="0.46" fill="#5034b0" fill-opacity="0.36"/><circle cx="238.13" cy="449.79" r="0.38" fill="#5034b0" fill-opacity="0.67"/><circle cx="209.76" cy="419.98" r="0.34" fill="#5034b0" fill-opacity="0.6"/><circle cx="253.23" cy="449.4" r="0.44" fill="#5034b0" fill-opacity="0.59"/><circle cx="227.54" cy="442.67" r="0.32" fill="#5034b0" fill-opacity="0.38"/><circle cx="230.72" cy="470.15" r="0.31" fill="#5034b0" fill-opacity="0.65"/><circle cx="243.49" cy="431.55" r="0.34" fill="#5034b0" fill-opacity="0.5"/><circle cx="261.05" cy="441.04" r="0.55" fill="#5034b0" fill-opacity="0.34"/><circle cx="226.63" cy="430.14" r="0.4" fill="#5034b0" fill-opacity="0.66"/><circle cx="238.18" cy="440.72" r="0.3" fill="#5034b0" fill-opacity="0.52"/><circle cx="247.91" cy="438.68" r="0.37" fill="#5034b0" fill-opacity="0.67"/><circle cx="216.73" cy="448.73" r="0.42" fill="#5034b0" fill-opacity="0.34"/><circle cx="223.72" cy="430.11" r="0.41" fill="#5034b0" fill-opacity="0.68"/><circle cx="263.18" cy="446.7" r="0.41" fill="#5034b0" fill-opacity="0.36"/><circle cx="232.96" cy="474.16" r="0.6" fill="#5034b0" fill-opacity="0.35"/><circle cx="227.24" cy="402.82" r="0.32" fill="#5034b0" fill-opacity="0.54"/><circle cx="258.77" cy="443.48" r="0.44" fill="#5034b0" fill-opacity="0.54"/><circle cx="238.88" cy="426.73" r="0.34" fill="#5034b0" fill-opacity="0.65"/><circle cx="215.74" cy="424.96" r="0.35" fill="#5034b0" fill-opacity="0.69"/><circle cx="232.72" cy="435.24" r="0.49" fill="#5034b0" fill-opacity="0.43"/><circle cx="221.57" cy="444.43" r="0.36" fill="#5034b0" fill-opacity="0.43"/><circle cx="262.1" cy="453.05" r="0.3" fill="#5034b0" fill-opacity="0.61"/><circle cx="269.48" cy="442.69" r="0.43" fill="#8a64c8" fill-opacity="0.3"/><circle cx="232.55" cy="419.66" r="0.41" fill="#8a64c8" fill-opacity="0.29"/><circle cx="241.54" cy="473.57" r="0.33" fill="#8a64c8" fill-opacity="0.27"/><circle cx="251.52" cy="420.16" r="0.39" fill="#8a64c8" fill-opacity="0.23"/><circle cx="247.61" cy="421.81" r="0.3" fill="#8a64c8" fill-opacity="0.4"/><circle cx="253.99" cy="469.34" r="0.49" fill="#8a64c8" fill-opacity="0.32"/><circle cx="246.31" cy="438.18" r="0.31" fill="#8a64c8" fill-opacity="0.28"/><circle cx="209.4" cy="414.04" r="0.33" fill="#8a64c8" fill-opacity="0.23"/><circle cx="224.52" cy="432.3" r="0.3" fill="#8a64c8" fill-opacity="0.31"/><circle cx="234.05" cy="428.56" r="0.34" fill="#8a64c8" fill-opacity="0.34"/><circle cx="239.24" cy="414.69" r="0.46" fill="#8a64c8" fill-opacity="0.23"/><circle cx="230.2" cy="405.76" r="0.45" fill="#8a64c8" fill-opacity="0.3"/><circle cx="243.81" cy="442.26" r="0.36" fill="#8a64c8" fill-opacity="0.23"/><circle cx="229.83" cy="429.68" r="0.42" fill="#8a64c8" fill-opacity="0.24"/><circle cx="252.66" cy="438.77" r="0.34" fill="#8a64c8" fill-opacity="0.31"/><circle cx="225.45" cy="447.44" r="0.35" fill="#8a64c8" fill-opacity="0.39"/><circle cx="202.19" cy="429.57" r="0.3" fill="#8a64c8" fill-opacity="0.4"/><circle cx="258.12" cy="419.97" r="0.35" fill="#8a64c8" fill-opacity="0.31"/><circle cx="245.19" cy="432.4" r="0.38" fill="#8a64c8" fill-opacity="0.31"/><circle cx="227.41" cy="467.44" r="0.4" fill="#8a64c8" fill-opacity="0.22"/><circle cx="229.43" cy="413.83" r="0.35" fill="#8a64c8" fill-opacity="0.33"/><circle cx="264.35" cy="446.88" r="0.33" fill="#8a64c8" fill-opacity="0.38"/><circle cx="241.18" cy="470.83" r="0.41" fill="#8a64c8" fill-opacity="0.32"/><circle cx="242.19" cy="432.56" r="0.37" fill="#8a64c8" fill-opacity="0.32"/><circle cx="226.89" cy="416.27" r="0.3" fill="#8a64c8" fill-opacity="0.24"/><circle cx="224.94" cy="427.6" r="0.3" fill="#8a64c8" fill-opacity="0.27"/><circle cx="210.59" cy="442.53" r="0.3" fill="#8a64c8" fill-opacity="0.36"/><circle cx="220.74" cy="465.8" r="0.3" fill="#8a64c8" fill-opacity="0.39"/><circle cx="206.36" cy="417.86" r="0.49" fill="#8a64c8" fill-opacity="0.37"/><circle cx="254.36" cy="451.03" r="0.31" fill="#8a64c8" fill-opacity="0.36"/><rect x="196.5" y="397.5" width="81" height="80.5" fill="none" stroke="#3a3a3a" stroke-width="1.1"/><svg x="196.5" y="482" width="81" height="60.5" overflow="hidden"><rect x="0" y="0" width="81" height="60.5" fill="#efefed"/><g filter="url(#rough)"><circle cx="35.4" cy="16.1" r="2.3" fill="#9a50a8" fill-opacity="0.9" filter="url(#b1)"/><circle cx="28.3" cy="18.2" r="1.3" fill="#9a50a8" fill-opacity="0.8" filter="url(#b1)"/><circle cx="6.3" cy="26.2" r="2.2" fill="#9a50a8" fill-opacity="0.85" filter="url(#b1)"/><circle cx="34.9" cy="42.8" r="1.6" fill="#9a50a8" fill-opacity="0.8" filter="url(#b1)"/><circle cx="72.3" cy="40.9" r="2.3" fill="#9a50a8" fill-opacity="0.85" filter="url(#b1)"/></g></svg><rect x="255.1" y="537.1" width="18.8" height="0.9" fill="#333"/><rect x="260.8" y="535.5" width="7.2" height="1.4" fill="#444" fill-opacity="0.6"/><rect x="196.5" y="482" width="81" height="60.5" fill="none" stroke="#3a3a3a" stroke-width="1.1"/><text x="152" y="555.1" font-size="10.2" text-anchor="middle" font-weight="normal" fill="#111" >BEAS-2B</text><text x="294.5" y="11" font-size="15" text-anchor="start" font-weight="bold" fill="#000" >b</text><rect x="361.85" y="106.77" width="25.7" height="52.63" fill="#e9e9e7" stroke="#111" stroke-width="1.8"/><rect x="401.45" y="68.5" width="25.7" height="90.9" fill="#e9e9e7" stroke="#111" stroke-width="1.8"/><rect x="441.05" y="109.08" width="25.7" height="50.32" fill="#e9e9e7" stroke="#111" stroke-width="1.8"/><line x1="355" y1="25.7" x2="355" y2="159.4" stroke="#111" stroke-width="1.8"/><line x1="351" y1="159.4" x2="473.5" y2="159.4" stroke="#111" stroke-width="1.8"/><line x1="351" y1="159.4" x2="355" y2="159.4" stroke="#111" stroke-width="1.6"/><text x="349" y="163" font-size="10.2" text-anchor="end" font-weight="normal" fill="#111" >0</text><line x1="351" y1="115.1" x2="355" y2="115.1" stroke="#111" stroke-width="1.6"/><text x="349" y="118.7" font-size="10.2" text-anchor="end" font-weight="normal" fill="#111" >50</text><line x1="351" y1="70.8" x2="355" y2="70.8" stroke="#111" stroke-width="1.6"/><text x="349" y="74.4" font-size="10.2" text-anchor="end" font-weight="normal" fill="#111" >100</text><line x1="351" y1="26.5" x2="355" y2="26.5" stroke="#111" stroke-width="1.6"/><text x="349" y="30.1" font-size="10.2" text-anchor="end" font-weight="normal" fill="#111" >150</text><line x1="374.7" y1="159.4" x2="374.7" y2="162.9" stroke="#111" stroke-width="1.6"/><line x1="414.3" y1="159.4" x2="414.3" y2="162.9" stroke="#111" stroke-width="1.6"/><line x1="453.9" y1="159.4" x2="453.9" y2="162.9" stroke="#111" stroke-width="1.6"/><text transform="translate(376,169.4) rotate(-45)" font-size="10" text-anchor="end" fill="#111">Ctrl</text><text transform="translate(415.6,169.4) rotate(-45)" font-size="10" text-anchor="end" fill="#111">WT</text><text transform="translate(455.2,169.4) rotate(-45)" font-size="10" text-anchor="end" fill="#111">21S</text><text transform="translate(322.5,93.85) rotate(-90)" font-size="10" text-anchor="middle" fill="#111">Colony number</text><line x1="374.7" y1="98.97" x2="374.7" y2="114.75" stroke="#a65a0c" stroke-width="1.6"/><line x1="367.4" y1="114.75" x2="382" y2="114.75" stroke="#a65a0c" stroke-width="1.6"/><line x1="367.4" y1="98.97" x2="382" y2="98.97" stroke="#a65a0c" stroke-width="1.6"/><line x1="414.3" y1="57.6" x2="414.3" y2="79.66" stroke="#9e1111" stroke-width="1.6"/><line x1="407" y1="79.66" x2="421.6" y2="79.66" stroke="#9e1111" stroke-width="1.6"/><line x1="407" y1="57.6" x2="421.6" y2="57.6" stroke="#9e1111" stroke-width="1.6"/><line x1="453.9" y1="102.78" x2="453.9" y2="115.01" stroke="#8c8c8c" stroke-width="1.6"/><line x1="446.6" y1="115.01" x2="461.2" y2="115.01" stroke="#8c8c8c" stroke-width="1.6"/><line x1="446.6" y1="102.78" x2="461.2" y2="102.78" stroke="#8c8c8c" stroke-width="1.6"/><circle cx="374.7" cy="94.72" r="3.3" fill="#a65a0c"/><circle cx="374.7" cy="104.82" r="3.3" fill="#a65a0c"/><circle cx="374.7" cy="121.3" r="3.3" fill="#a65a0c"/><rect x="411.1" y="44.12" width="6.4" height="6.4" fill="#9e1111"/><rect x="411.1" y="71.41" width="6.4" height="6.4" fill="#9e1111"/><rect x="411.1" y="81.07" width="6.4" height="6.4" fill="#9e1111"/><path d="M453.9,93.49 L457.7,100.09 L450.1,100.09 Z" fill="#8c8c8c"/><path d="M458.4,109.97 L462.2,116.57 L454.6,116.57 Z" fill="#8c8c8c"/><path d="M448.9,114.31 L452.7,120.91 L445.1,120.91 Z" fill="#8c8c8c"/><path d="M373.4,29.3 V25.5 H454.7 V29.3" fill="none" stroke="#6e6464" stroke-width="1.2"/><path d="M373.4,38.2 V34.4 H454.7 V38.2 M413.9,34.4 V38.2" fill="none" stroke="#6e6464" stroke-width="1.2"/><text x="412.6" y="22.5" font-size="10.5" text-anchor="middle" font-weight="normal" fill="#222" >ns</text><text x="393.65" y="36.6" font-size="10" text-anchor="middle" font-weight="bold" fill="#333" >**</text><text x="434.3" y="36.6" font-size="10" text-anchor="middle" font-weight="bold" fill="#333" >***</text><text x="489" y="11" font-size="15" text-anchor="start" font-weight="bold" fill="#000" >c</text><rect x="572.75" y="94.05" width="25.7" height="65.35" fill="#e9e9e7" stroke="#111" stroke-width="1.8"/><rect x="612.4" y="50.29" width="25.7" height="109.11" fill="#e9e9e7" stroke="#111" stroke-width="1.8"/><rect x="652.05" y="80.36" width="25.7" height="79.04" fill="#e9e9e7" stroke="#111" stroke-width="1.8"/><line x1="566.1" y1="25.7" x2="566.1" y2="159.4" stroke="#111" stroke-width="1.8"/><line x1="562.1" y1="159.4" x2="684.6" y2="159.4" stroke="#111" stroke-width="1.8"/><line x1="562.1" y1="159.4" x2="566.1" y2="159.4" stroke="#111" stroke-width="1.6"/><text x="560.1" y="163" font-size="10.2" text-anchor="end" font-weight="normal" fill="#111" >0</text><line x1="562.1" y1="126.18" x2="566.1" y2="126.18" stroke="#111" stroke-width="1.6"/><text x="560.1" y="129.78" font-size="10.2" text-anchor="end" font-weight="normal" fill="#111" >100</text><line x1="562.1" y1="92.95" x2="566.1" y2="92.95" stroke="#111" stroke-width="1.6"/><text x="560.1" y="96.55" font-size="10.2" text-anchor="end" font-weight="normal" fill="#111" >200</text><line x1="562.1" y1="59.73" x2="566.1" y2="59.73" stroke="#111" stroke-width="1.6"/><text x="560.1" y="63.33" font-size="10.2" text-anchor="end" font-weight="normal" fill="#111" >300</text><line x1="562.1" y1="26.5" x2="566.1" y2="26.5" stroke="#111" stroke-width="1.6"/><text x="560.1" y="30.1" font-size="10.2" text-anchor="end" font-weight="normal" fill="#111" >400</text><line x1="585.6" y1="159.4" x2="585.6" y2="162.9" stroke="#111" stroke-width="1.6"/><line x1="625.25" y1="159.4" x2="625.25" y2="162.9" stroke="#111" stroke-width="1.6"/><line x1="664.9" y1="159.4" x2="664.9" y2="162.9" stroke="#111" stroke-width="1.6"/><text transform="translate(586.9,169.4) rotate(-45)" font-size="10" text-anchor="end" fill="#111">Ctrl</text><text transform="translate(626.55,169.4) rotate(-45)" font-size="10" text-anchor="end" fill="#111">WT</text><text transform="translate(666.2,169.4) rotate(-45)" font-size="10" text-anchor="end" fill="#111">21S</text><text transform="translate(516,91.4) rotate(-90)" font-size="9.8" text-anchor="middle" fill="#111">Average colony size</text><text transform="translate(530.5,89.4) rotate(-90)" font-size="9.8" text-anchor="middle" fill="#111">(arbitrary units)</text><line x1="585.6" y1="92.78" x2="585.6" y2="95.28" stroke="#a65a0c" stroke-width="1.6"/><line x1="578.3" y1="95.28" x2="592.9" y2="95.28" stroke="#a65a0c" stroke-width="1.6"/><line x1="578.3" y1="92.78" x2="592.9" y2="92.78" stroke="#a65a0c" stroke-width="1.6"/><line x1="625.25" y1="48.49" x2="625.25" y2="52.08" stroke="#9e1111" stroke-width="1.6"/><line x1="617.95" y1="52.08" x2="632.55" y2="52.08" stroke="#9e1111" stroke-width="1.6"/><line x1="617.95" y1="48.49" x2="632.55" y2="48.49" stroke="#9e1111" stroke-width="1.6"/><line x1="664.9" y1="75.87" x2="664.9" y2="84.98" stroke="#8c8c8c" stroke-width="1.6"/><line x1="657.6" y1="84.98" x2="672.2" y2="84.98" stroke="#8c8c8c" stroke-width="1.6"/><line x1="657.6" y1="75.87" x2="672.2" y2="75.87" stroke="#8c8c8c" stroke-width="1.6"/><circle cx="576.9" cy="90.76" r="3.3" fill="#a65a0c"/><circle cx="585.4" cy="97.14" r="3.3" fill="#a65a0c"/><circle cx="594" cy="93.85" r="3.3" fill="#a65a0c"/><rect x="613.45" y="43.3" width="6.4" height="6.4" fill="#9e1111"/><rect x="621.65" y="50.21" width="6.4" height="6.4" fill="#9e1111"/><rect x="630.75" y="47.99" width="6.4" height="6.4" fill="#9e1111"/><path d="M664.6,69.68 L668.4,76.28 L660.8,76.28 Z" fill="#8c8c8c"/><path d="M669.7,76.06 L673.5,82.66 L665.9,82.66 Z" fill="#8c8c8c"/><path d="M660.2,85.16 L664,91.76 L656.4,91.76 Z" fill="#8c8c8c"/><path d="M586.7,29.4 V25.6 H668.1 V29.4" fill="none" stroke="#6e6464" stroke-width="1.2"/><path d="M586.7,38.4 V34.6 H668.1 V38.4 M627.25,34.6 V38.4" fill="none" stroke="#6e6464" stroke-width="1.2"/><text x="626.9" y="22.6" font-size="10.5" text-anchor="middle" font-weight="normal" fill="#222" >ns</text><text x="606.98" y="36.8" font-size="10" text-anchor="middle" font-weight="bold" fill="#333" >***</text><text x="647.67" y="36.8" font-size="10" text-anchor="middle" font-weight="bold" fill="#333" >***</text><text x="294.5" y="195.7" font-size="15" text-anchor="start" font-weight="bold" fill="#000" >e</text><rect x="361.85" y="330.27" width="25.7" height="13.23" fill="#e9e9e7" stroke="#111" stroke-width="1.8"/><rect x="401.45" y="266.32" width="25.7" height="77.18" fill="#e9e9e7" stroke="#111" stroke-width="1.8"/><rect x="441.05" y="309.63" width="25.7" height="33.87" fill="#e9e9e7" stroke="#111" stroke-width="1.8"/><line x1="355" y1="210.4" x2="355" y2="343.5" stroke="#111" stroke-width="1.8"/><line x1="351" y1="343.5" x2="473.5" y2="343.5" stroke="#111" stroke-width="1.8"/><line x1="351" y1="343.5" x2="355" y2="343.5" stroke="#111" stroke-width="1.6"/><text x="349" y="347.1" font-size="10.2" text-anchor="end" font-weight="normal" fill="#111" >0</text><line x1="351" y1="299.4" x2="355" y2="299.4" stroke="#111" stroke-width="1.6"/><text x="349" y="303" font-size="10.2" text-anchor="end" font-weight="normal" fill="#111" >50</text><line x1="351" y1="255.3" x2="355" y2="255.3" stroke="#111" stroke-width="1.6"/><text x="349" y="258.9" font-size="10.2" text-anchor="end" font-weight="normal" fill="#111" >100</text><line x1="351" y1="211.2" x2="355" y2="211.2" stroke="#111" stroke-width="1.6"/><text x="349" y="214.8" font-size="10.2" text-anchor="end" font-weight="normal" fill="#111" >150</text><line x1="374.7" y1="343.5" x2="374.7" y2="347" stroke="#111" stroke-width="1.6"/><line x1="414.3" y1="343.5" x2="414.3" y2="347" stroke="#111" stroke-width="1.6"/><line x1="453.9" y1="343.5" x2="453.9" y2="347" stroke="#111" stroke-width="1.6"/><text transform="translate(376,353.5) rotate(-45)" font-size="10" text-anchor="end" fill="#111">Ctrl</text><text transform="translate(415.6,353.5) rotate(-45)" font-size="10" text-anchor="end" fill="#111">WT</text><text transform="translate(455.2,353.5) rotate(-45)" font-size="10" text-anchor="end" fill="#111">21S</text><text transform="translate(322.5,279.5) rotate(-90)" font-size="10" text-anchor="middle" fill="#111">Colony number</text><line x1="374.7" y1="324.98" x2="374.7" y2="335.56" stroke="#a65a0c" stroke-width="1.6"/><line x1="367.4" y1="335.56" x2="382" y2="335.56" stroke="#a65a0c" stroke-width="1.6"/><line x1="367.4" y1="324.98" x2="382" y2="324.98" stroke="#a65a0c" stroke-width="1.6"/><line x1="414.3" y1="257.06" x2="414.3" y2="275.67" stroke="#9e1111" stroke-width="1.6"/><line x1="407" y1="275.67" x2="421.6" y2="275.67" stroke="#9e1111" stroke-width="1.6"/><line x1="407" y1="257.06" x2="421.6" y2="257.06" stroke="#9e1111" stroke-width="1.6"/><line x1="453.9" y1="300.37" x2="453.9" y2="318.36" stroke="#8c8c8c" stroke-width="1.6"/><line x1="446.6" y1="318.36" x2="461.2" y2="318.36" stroke="#8c8c8c" stroke-width="1.6"/><line x1="446.6" y1="300.37" x2="461.2" y2="300.37" stroke="#8c8c8c" stroke-width="1.6"/><circle cx="374.7" cy="320.39" r="3.3" fill="#a65a0c"/><circle cx="370" cy="335.91" r="3.3" fill="#a65a0c"/><circle cx="379.4" cy="333.8" r="3.3" fill="#a65a0c"/><rect x="411.1" y="246.28" width="6.4" height="6.4" fill="#9e1111"/><rect x="411.1" y="265.77" width="6.4" height="6.4" fill="#9e1111"/><rect x="411.1" y="277.77" width="6.4" height="6.4" fill="#9e1111"/><path d="M448.9,293.84 L452.7,300.44 L445.1,300.44 Z" fill="#8c8c8c"/><path d="M458.4,300.54 L462.2,307.14 L454.6,307.14 Z" fill="#8c8c8c"/><path d="M453.9,324.53 L457.7,331.13 L450.1,331.13 Z" fill="#8c8c8c"/><path d="M373.4,229.2 V225.4 H454.7 V229.2" fill="none" stroke="#6e6464" stroke-width="1.2"/><path d="M373.4,238 V234.2 H454.7 V238 M413.9,234.2 V238" fill="none" stroke="#6e6464" stroke-width="1.2"/><text x="413.5" y="222.4" font-size="10.5" text-anchor="middle" font-weight="normal" fill="#222" >ns</text><text x="393.65" y="236.4" font-size="10" text-anchor="middle" font-weight="bold" fill="#333" >*</text><text x="434.3" y="236.4" font-size="10" text-anchor="middle" font-weight="bold" fill="#333" >*</text><text x="489" y="195.7" font-size="15" text-anchor="start" font-weight="bold" fill="#000" >f</text><rect x="572.75" y="272.88" width="25.7" height="70.62" fill="#e9e9e7" stroke="#111" stroke-width="1.8"/><rect x="612.4" y="232.7" width="25.7" height="110.8" fill="#e9e9e7" stroke="#111" stroke-width="1.8"/><rect x="652.05" y="259.59" width="25.7" height="83.91" fill="#e9e9e7" stroke="#111" stroke-width="1.8"/><line x1="566.1" y1="210.4" x2="566.1" y2="343.5" stroke="#111" stroke-width="1.8"/><line x1="562.1" y1="343.5" x2="684.6" y2="343.5" stroke="#111" stroke-width="1.8"/><line x1="562.1" y1="343.5" x2="566.1" y2="343.5" stroke="#111" stroke-width="1.6"/><text x="560.1" y="347.1" font-size="10.2" text-anchor="end" font-weight="normal" fill="#111" >0</text><line x1="562.1" y1="310.43" x2="566.1" y2="310.43" stroke="#111" stroke-width="1.6"/><text x="560.1" y="314.03" font-size="10.2" text-anchor="end" font-weight="normal" fill="#111" >100</text><line x1="562.1" y1="277.35" x2="566.1" y2="277.35" stroke="#111" stroke-width="1.6"/><text x="560.1" y="280.95" font-size="10.2" text-anchor="end" font-weight="normal" fill="#111" >200</text><line x1="562.1" y1="244.27" x2="566.1" y2="244.27" stroke="#111" stroke-width="1.6"/><text x="560.1" y="247.87" font-size="10.2" text-anchor="end" font-weight="normal" fill="#111" >300</text><line x1="562.1" y1="211.2" x2="566.1" y2="211.2" stroke="#111" stroke-width="1.6"/><text x="560.1" y="214.8" font-size="10.2" text-anchor="end" font-weight="normal" fill="#111" >400</text><line x1="585.6" y1="343.5" x2="585.6" y2="347" stroke="#111" stroke-width="1.6"/><line x1="625.25" y1="343.5" x2="625.25" y2="347" stroke="#111" stroke-width="1.6"/><line x1="664.9" y1="343.5" x2="664.9" y2="347" stroke="#111" stroke-width="1.6"/><text transform="translate(586.9,353.5) rotate(-45)" font-size="10" text-anchor="end" fill="#111">Ctrl</text><text transform="translate(626.55,353.5) rotate(-45)" font-size="10" text-anchor="end" fill="#111">WT</text><text transform="translate(666.2,353.5) rotate(-45)" font-size="10" text-anchor="end" fill="#111">21S</text><text transform="translate(516,279.1) rotate(-90)" font-size="9.8" text-anchor="middle" fill="#111">Average colony size</text><text transform="translate(530.5,280.7) rotate(-90)" font-size="9.8" text-anchor="middle" fill="#111">(arbitrary units)</text><line x1="585.6" y1="268.42" x2="585.6" y2="277.35" stroke="#a65a0c" stroke-width="1.6"/><line x1="578.3" y1="277.35" x2="592.9" y2="277.35" stroke="#a65a0c" stroke-width="1.6"/><line x1="578.3" y1="268.42" x2="592.9" y2="268.42" stroke="#a65a0c" stroke-width="1.6"/><line x1="625.25" y1="230.22" x2="625.25" y2="235.34" stroke="#9e1111" stroke-width="1.6"/><line x1="617.95" y1="235.34" x2="632.55" y2="235.34" stroke="#9e1111" stroke-width="1.6"/><line x1="617.95" y1="230.22" x2="632.55" y2="230.22" stroke="#9e1111" stroke-width="1.6"/><line x1="664.9" y1="256.31" x2="664.9" y2="263.13" stroke="#8c8c8c" stroke-width="1.6"/><line x1="657.6" y1="263.13" x2="672.2" y2="263.13" stroke="#8c8c8c" stroke-width="1.6"/><line x1="657.6" y1="256.31" x2="672.2" y2="256.31" stroke="#8c8c8c" stroke-width="1.6"/><circle cx="585.6" cy="263.49" r="3.3" fill="#a65a0c"/><circle cx="580.4" cy="278.61" r="3.3" fill="#a65a0c"/><circle cx="590.2" cy="276.72" r="3.3" fill="#a65a0c"/><rect x="622.05" y="224.11" width="6.4" height="6.4" fill="#9e1111"/><rect x="617.55" y="233.3" width="6.4" height="6.4" fill="#9e1111"/><rect x="626.35" y="231.48" width="6.4" height="6.4" fill="#9e1111"/><path d="M664.9,249.9 L668.7,256.5 L661.1,256.5 Z" fill="#8c8c8c"/><path d="M660.1,261.11 L663.9,267.71 L656.3,267.71 Z" fill="#8c8c8c"/><path d="M669.9,259.1 L673.7,265.7 L666.1,265.7 Z" fill="#8c8c8c"/><path d="M584.3,206 V202.2 H665.7 V206" fill="none" stroke="#6e6464" stroke-width="1.2"/><path d="M584.3,215.4 V211.6 H665.7 V215.4 M624.85,211.6 V215.4" fill="none" stroke="#6e6464" stroke-width="1.2"/><text x="624.85" y="204.4" font-size="10" text-anchor="middle" font-weight="bold" fill="#333" >*</text><text x="604.58" y="213.8" font-size="10" text-anchor="middle" font-weight="bold" fill="#333" >***</text><text x="645.27" y="213.8" font-size="10" text-anchor="middle" font-weight="bold" fill="#333" >**</text><text x="294" y="380" font-size="15" text-anchor="start" font-weight="bold" fill="#000" >h</text><rect x="361.85" y="534.38" width="25.7" height="3.12" fill="#e9e9e7" stroke="#111" stroke-width="1.8"/><rect x="401.45" y="441.79" width="25.7" height="95.71" fill="#e9e9e7" stroke="#111" stroke-width="1.8"/><rect x="441.05" y="519.1" width="25.7" height="18.4" fill="#e9e9e7" stroke="#111" stroke-width="1.8"/><line x1="355" y1="404.5" x2="355" y2="537.5" stroke="#111" stroke-width="1.8"/><line x1="351" y1="537.5" x2="473.5" y2="537.5" stroke="#111" stroke-width="1.8"/><line x1="351" y1="537.5" x2="355" y2="537.5" stroke="#111" stroke-width="1.6"/><text x="349" y="541.1" font-size="10.2" text-anchor="end" font-weight="normal" fill="#111" >0</text><line x1="351" y1="511.06" x2="355" y2="511.06" stroke="#111" stroke-width="1.6"/><text x="349" y="514.66" font-size="10.2" text-anchor="end" font-weight="normal" fill="#111" >50</text><line x1="351" y1="484.62" x2="355" y2="484.62" stroke="#111" stroke-width="1.6"/><text x="349" y="488.22" font-size="10.2" text-anchor="end" font-weight="normal" fill="#111" >100</text><line x1="351" y1="458.18" x2="355" y2="458.18" stroke="#111" stroke-width="1.6"/><text x="349" y="461.78" font-size="10.2" text-anchor="end" font-weight="normal" fill="#111" >150</text><line x1="351" y1="431.74" x2="355" y2="431.74" stroke="#111" stroke-width="1.6"/><text x="349" y="435.34" font-size="10.2" text-anchor="end" font-weight="normal" fill="#111" >200</text><line x1="351" y1="405.3" x2="355" y2="405.3" stroke="#111" stroke-width="1.6"/><text x="349" y="408.9" font-size="10.2" text-anchor="end" font-weight="normal" fill="#111" >250</text><line x1="374.7" y1="537.5" x2="374.7" y2="541" stroke="#111" stroke-width="1.6"/><line x1="414.3" y1="537.5" x2="414.3" y2="541" stroke="#111" stroke-width="1.6"/><line x1="453.9" y1="537.5" x2="453.9" y2="541" stroke="#111" stroke-width="1.6"/><text transform="translate(376,547.5) rotate(-45)" font-size="10" text-anchor="end" fill="#111">Ctrl</text><text transform="translate(415.6,547.5) rotate(-45)" font-size="10" text-anchor="end" fill="#111">WT</text><text transform="translate(455.2,547.5) rotate(-45)" font-size="10" text-anchor="end" fill="#111">21S</text><text transform="translate(322.5,469.6) rotate(-90)" font-size="10" text-anchor="middle" fill="#111">Colony number</text><line x1="374.7" y1="533.53" x2="374.7" y2="535.38" stroke="#a65a0c" stroke-width="1.6"/><line x1="367.4" y1="535.38" x2="382" y2="535.38" stroke="#a65a0c" stroke-width="1.6"/><line x1="367.4" y1="533.53" x2="382" y2="533.53" stroke="#a65a0c" stroke-width="1.6"/><line x1="414.3" y1="429.1" x2="414.3" y2="455.01" stroke="#9e1111" stroke-width="1.6"/><line x1="407" y1="455.01" x2="421.6" y2="455.01" stroke="#9e1111" stroke-width="1.6"/><line x1="407" y1="429.1" x2="421.6" y2="429.1" stroke="#9e1111" stroke-width="1.6"/><line x1="453.9" y1="514.39" x2="453.9" y2="524.17" stroke="#8c8c8c" stroke-width="1.6"/><line x1="446.6" y1="524.17" x2="461.2" y2="524.17" stroke="#8c8c8c" stroke-width="1.6"/><line x1="446.6" y1="514.39" x2="461.2" y2="514.39" stroke="#8c8c8c" stroke-width="1.6"/><circle cx="368.2" cy="534.33" r="3.3" fill="#a65a0c"/><circle cx="374.7" cy="535.38" r="3.3" fill="#a65a0c"/><circle cx="380.7" cy="535.38" r="3.3" fill="#a65a0c"/><rect x="407.1" y="423.3" width="6.4" height="6.4" fill="#9e1111"/><rect x="415.1" y="429.23" width="6.4" height="6.4" fill="#9e1111"/><rect x="411.1" y="464.29" width="6.4" height="6.4" fill="#9e1111"/><path d="M449.4,511.49 L453.2,518.09 L445.6,518.09 Z" fill="#8c8c8c"/><path d="M458.4,511.49 L462.2,518.09 L454.6,518.09 Z" fill="#8c8c8c"/><path d="M453.9,524.71 L457.7,531.31 L450.1,531.31 Z" fill="#8c8c8c"/><path d="M373.4,403.5 V399.7 H454.7 V403.5" fill="none" stroke="#6e6464" stroke-width="1.2"/><path d="M373.4,412.3 V408.5 H454.7 V412.3 M413.9,408.5 V412.3" fill="none" stroke="#6e6464" stroke-width="1.2"/><text x="413.5" y="396.7" font-size="10.5" text-anchor="middle" font-weight="normal" fill="#222" >ns</text><text x="393.65" y="410.7" font-size="10" text-anchor="middle" font-weight="bold" fill="#333" >***</text><text x="434.3" y="410.7" font-size="10" text-anchor="middle" font-weight="bold" fill="#333" >**</text><text x="492.5" y="380" font-size="15" text-anchor="start" font-weight="bold" fill="#000" >i</text><rect x="572.75" y="513.87" width="25.7" height="23.63" fill="#e9e9e7" stroke="#111" stroke-width="1.8"/><rect x="612.4" y="430.85" width="25.7" height="106.65" fill="#e9e9e7" stroke="#111" stroke-width="1.8"/><rect x="652.05" y="506.57" width="25.7" height="30.93" fill="#e9e9e7" stroke="#111" stroke-width="1.8"/><line x1="566.1" y1="404.5" x2="566.1" y2="537.5" stroke="#111" stroke-width="1.8"/><line x1="562.1" y1="537.5" x2="684.6" y2="537.5" stroke="#111" stroke-width="1.8"/><line x1="562.1" y1="537.5" x2="566.1" y2="537.5" stroke="#111" stroke-width="1.6"/><text x="560.1" y="541.1" font-size="10.2" text-anchor="end" font-weight="normal" fill="#111" >0</text><line x1="562.1" y1="504.45" x2="566.1" y2="504.45" stroke="#111" stroke-width="1.6"/><text x="560.1" y="508.05" font-size="10.2" text-anchor="end" font-weight="normal" fill="#111" >100</text><line x1="562.1" y1="471.4" x2="566.1" y2="471.4" stroke="#111" stroke-width="1.6"/><text x="560.1" y="475" font-size="10.2" text-anchor="end" font-weight="normal" fill="#111" >200</text><line x1="562.1" y1="438.35" x2="566.1" y2="438.35" stroke="#111" stroke-width="1.6"/><text x="560.1" y="441.95" font-size="10.2" text-anchor="end" font-weight="normal" fill="#111" >300</text><line x1="562.1" y1="405.3" x2="566.1" y2="405.3" stroke="#111" stroke-width="1.6"/><text x="560.1" y="408.9" font-size="10.2" text-anchor="end" font-weight="normal" fill="#111" >400</text><line x1="585.6" y1="537.5" x2="585.6" y2="541" stroke="#111" stroke-width="1.6"/><line x1="625.25" y1="537.5" x2="625.25" y2="541" stroke="#111" stroke-width="1.6"/><line x1="664.9" y1="537.5" x2="664.9" y2="541" stroke="#111" stroke-width="1.6"/><text transform="translate(586.9,547.5) rotate(-45)" font-size="10" text-anchor="end" fill="#111">Ctrl</text><text transform="translate(626.55,547.5) rotate(-45)" font-size="10" text-anchor="end" fill="#111">WT</text><text transform="translate(666.2,547.5) rotate(-45)" font-size="10" text-anchor="end" fill="#111">21S</text><text transform="translate(516,473.7) rotate(-90)" font-size="9.8" text-anchor="middle" fill="#111">Average colony size</text><text transform="translate(530.5,470.6) rotate(-90)" font-size="9.8" text-anchor="middle" fill="#111">(arbitrary units)</text><line x1="585.6" y1="510.4" x2="585.6" y2="516.35" stroke="#a65a0c" stroke-width="1.6"/><line x1="578.3" y1="516.35" x2="592.9" y2="516.35" stroke="#a65a0c" stroke-width="1.6"/><line x1="578.3" y1="510.4" x2="592.9" y2="510.4" stroke="#a65a0c" stroke-width="1.6"/><line x1="625.25" y1="423.48" x2="625.25" y2="438.35" stroke="#9e1111" stroke-width="1.6"/><line x1="617.95" y1="438.35" x2="632.55" y2="438.35" stroke="#9e1111" stroke-width="1.6"/><line x1="617.95" y1="423.48" x2="632.55" y2="423.48" stroke="#9e1111" stroke-width="1.6"/><line x1="664.9" y1="505.44" x2="664.9" y2="507.75" stroke="#8c8c8c" stroke-width="1.6"/><line x1="657.6" y1="507.75" x2="672.2" y2="507.75" stroke="#8c8c8c" stroke-width="1.6"/><line x1="657.6" y1="505.44" x2="672.2" y2="505.44" stroke="#8c8c8c" stroke-width="1.6"/><circle cx="585.6" cy="508.88" r="3.3" fill="#a65a0c"/><circle cx="581.9" cy="518.83" r="3.3" fill="#a65a0c"/><circle cx="590.6" cy="512.45" r="3.3" fill="#a65a0c"/><rect x="622.05" y="413.01" width="6.4" height="6.4" fill="#9e1111"/><rect x="618.35" y="436.47" width="6.4" height="6.4" fill="#9e1111"/><rect x="626.05" y="432.94" width="6.4" height="6.4" fill="#9e1111"/><path d="M657.5,499.79 L661.3,506.39 L653.7,506.39 Z" fill="#8c8c8c"/><path d="M664.9,505.67 L668.7,512.27 L661.1,512.27 Z" fill="#8c8c8c"/><path d="M669.4,502.77 L673.2,509.37 L665.6,509.37 Z" fill="#8c8c8c"/><path d="M584.3,396.3 V392.5 H665.7 V396.3" fill="none" stroke="#6e6464" stroke-width="1.2"/><path d="M584.3,405.3 V401.5 H665.7 V405.3 M624.85,401.5 V405.3" fill="none" stroke="#6e6464" stroke-width="1.2"/><text x="625.2" y="389.5" font-size="10.5" text-anchor="middle" font-weight="normal" fill="#222" >ns</text><text x="604.58" y="403.7" font-size="10" text-anchor="middle" font-weight="bold" fill="#333" >***</text><text x="645.27" y="403.7" font-size="10" text-anchor="middle" font-weight="bold" fill="#333" >***</text>
</svg></body></html>
